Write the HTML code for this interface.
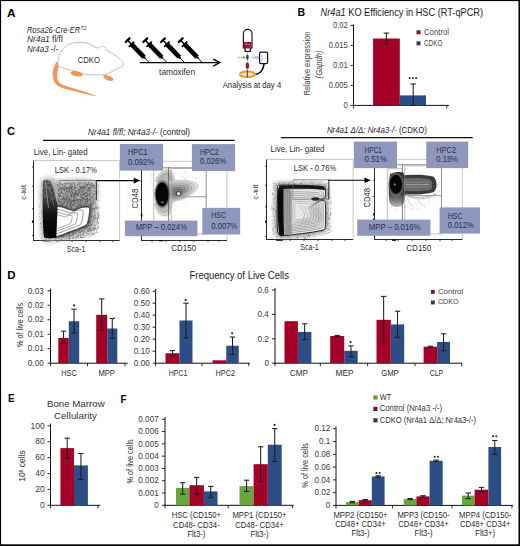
<!DOCTYPE html>
<html><head><meta charset="utf-8"><title>Figure</title><style>html,body{margin:0;padding:0;background:#fff;width:520px;height:546px;overflow:hidden;}svg{display:block;font-family:"Liberation Sans",sans-serif;}</style></head><body>
<svg width="520" height="546" viewBox="0 0 520 546" font-family="Liberation Sans, sans-serif"><defs><filter id="bl1" x="-20%" y="-20%" width="140%" height="140%"><feGaussianBlur stdDeviation="1.0"/></filter><filter id="bl2" x="-20%" y="-20%" width="140%" height="140%"><feGaussianBlur stdDeviation="2.0"/></filter><radialGradient id="gblob" cx="50%" cy="50%" r="50%"><stop offset="0" stop-color="#000"/><stop offset="0.55" stop-color="#111"/><stop offset="0.8" stop-color="#444"/><stop offset="1" stop-color="#888" stop-opacity="0.6"/></radialGradient><linearGradient id="gtopl" x1="0" y1="0" x2="0" y2="1"><stop offset="0" stop-color="#6e6e6e"/><stop offset="0.3" stop-color="#555"/><stop offset="0.45" stop-color="#2a2a2a"/><stop offset="0.6" stop-color="#111"/><stop offset="1" stop-color="#000"/></linearGradient><linearGradient id="gleftR" x1="0" y1="0" x2="1" y2="0"><stop offset="0" stop-color="#000"/><stop offset="0.55" stop-color="#111"/><stop offset="1" stop-color="#666" stop-opacity="0.3"/></linearGradient><linearGradient id="globe" x1="0" y1="0" x2="0" y2="1"><stop offset="0" stop-color="#222"/><stop offset="0.55" stop-color="#333"/><stop offset="0.8" stop-color="#777"/><stop offset="1" stop-color="#bbb"/></linearGradient></defs><rect x="0" y="0" width="520" height="546" fill="#fff"/>
<text x="6.90" y="16.60" font-size="10.2" font-weight="bold" textLength="8.60" lengthAdjust="spacingAndGlyphs">A</text>
<text x="26.90" y="33.10" font-size="8.4" fill="#2b2b2b" font-style="italic" textLength="53.40" lengthAdjust="spacingAndGlyphs">Rosa26-Cre-ER</text>
<text x="80.60" y="30.00" font-size="5.6" fill="#2b2b2b" font-style="italic" textLength="6.00" lengthAdjust="spacingAndGlyphs">T2</text>
<text x="26.90" y="42.30" font-size="8.4" fill="#2b2b2b" textLength="35.90" lengthAdjust="spacingAndGlyphs"><tspan font-style="italic">Nr4a1</tspan> fl/fl</text>
<text x="26.90" y="51.50" font-size="8.4" fill="#2b2b2b" textLength="31.60" lengthAdjust="spacingAndGlyphs"><tspan font-style="italic">Nr4a3</tspan> -/-</text>
<path d="M56.36,61.68 C55.86,62.90 53.96,66.45 53.36,68.96 C52.77,71.47 52.46,74.27 52.81,76.73 C53.17,79.20 53.98,81.93 55.49,83.75 C57.00,85.58 59.20,86.54 61.89,87.67 C64.58,88.80 68.17,89.63 71.64,90.55 C75.11,91.46 78.79,92.23 82.73,93.16 C86.68,94.09 93.21,95.64 95.30,96.14  L95.50,95.46 C93.46,94.76 87.12,92.47 83.27,91.24 C79.41,90.00 75.72,89.10 72.36,88.05 C69.00,87.00 65.42,86.03 63.11,84.93 C60.80,83.83 59.50,82.89 58.51,81.45 C57.52,80.00 57.30,78.17 57.19,76.27 C57.08,74.37 57.29,72.20 57.84,70.04 C58.38,67.88 60.01,64.44 60.44,63.32  Z" fill="#f0955a"/>
<path d="M57.90,64.90 C57.75,63.47 58.02,60.18 58.50,58.00 C58.98,55.82 59.65,53.72 60.80,51.80 C61.95,49.88 63.62,47.90 65.40,46.50 C67.18,45.10 68.93,44.10 71.50,43.40 C74.07,42.70 77.72,42.17 80.80,42.30 C83.88,42.43 87.43,43.28 90.00,44.20 C92.57,45.12 94.63,47.28 96.20,47.80 C97.77,48.32 98.38,47.53 99.40,47.30 C100.42,47.07 101.32,46.38 102.30,46.40 C103.28,46.42 104.52,46.75 105.30,47.40 C106.08,48.05 105.45,49.05 107.00,50.30 C108.55,51.55 112.18,53.18 114.60,54.90 C117.02,56.62 119.97,59.08 121.50,60.60 C123.03,62.12 123.65,63.03 123.80,64.00 C123.95,64.97 123.42,65.70 122.40,66.40 C121.38,67.10 119.52,67.30 117.70,68.20 C115.88,69.10 113.55,70.80 111.50,71.80 C109.45,72.80 107.95,73.68 105.40,74.20 C102.85,74.72 99.53,74.90 96.20,74.90 C92.87,74.90 88.73,74.80 85.40,74.20 C82.07,73.60 79.53,72.20 76.20,71.30 C72.87,70.40 68.20,69.58 65.40,68.80 C62.60,68.02 60.65,67.25 59.40,66.60 C58.15,65.95 58.05,66.33 57.90,64.90 Z" fill="#fff" stroke="#a3a8b4" stroke-width="0.75"/>
<ellipse cx="76.6" cy="73.8" rx="6.3" ry="2.5" fill="#f0955a" transform="rotate(12 76.6 73.8)"/>
<ellipse cx="108.4" cy="78.0" rx="5.4" ry="2.4" fill="#f0955a" transform="rotate(20 108.4 78.0)"/>
<text x="77.70" y="62.60" font-size="8.62" fill="#2a2a2a" textLength="22.30" lengthAdjust="spacingAndGlyphs">CDKO</text>
<line x1="129.47" y1="38.39" x2="125.73" y2="42.01" stroke="#000" stroke-width="2.3" stroke-linecap="round"/>
<line x1="127.60" y1="40.20" x2="131.42" y2="44.16" stroke="#000" stroke-width="1.5"/>
<line x1="133.65" y1="42.14" x2="129.33" y2="46.31" stroke="#000" stroke-width="1.9" stroke-linecap="round"/>
<line x1="131.91" y1="44.66" x2="143.99" y2="57.18" stroke="#000" stroke-width="4.6"/>
<line x1="143.86" y1="57.03" x2="144.90" y2="58.11" stroke="#000" stroke-width="2.4"/>
<line x1="144.83" y1="58.04" x2="148.86" y2="62.21" stroke="#000" stroke-width="1.0"/>
<line x1="147.17" y1="38.39" x2="143.43" y2="42.01" stroke="#000" stroke-width="2.3" stroke-linecap="round"/>
<line x1="145.30" y1="40.20" x2="149.12" y2="44.16" stroke="#000" stroke-width="1.5"/>
<line x1="151.35" y1="42.14" x2="147.03" y2="46.31" stroke="#000" stroke-width="1.9" stroke-linecap="round"/>
<line x1="149.61" y1="44.66" x2="161.69" y2="57.18" stroke="#000" stroke-width="4.6"/>
<line x1="161.56" y1="57.03" x2="162.60" y2="58.11" stroke="#000" stroke-width="2.4"/>
<line x1="162.53" y1="58.04" x2="166.56" y2="62.21" stroke="#000" stroke-width="1.0"/>
<line x1="164.87" y1="38.39" x2="161.13" y2="42.01" stroke="#000" stroke-width="2.3" stroke-linecap="round"/>
<line x1="163.00" y1="40.20" x2="166.82" y2="44.16" stroke="#000" stroke-width="1.5"/>
<line x1="169.05" y1="42.14" x2="164.73" y2="46.31" stroke="#000" stroke-width="1.9" stroke-linecap="round"/>
<line x1="167.31" y1="44.66" x2="179.39" y2="57.18" stroke="#000" stroke-width="4.6"/>
<line x1="179.26" y1="57.03" x2="180.30" y2="58.11" stroke="#000" stroke-width="2.4"/>
<line x1="180.23" y1="58.04" x2="184.26" y2="62.21" stroke="#000" stroke-width="1.0"/>
<line x1="182.57" y1="38.39" x2="178.83" y2="42.01" stroke="#000" stroke-width="2.3" stroke-linecap="round"/>
<line x1="180.70" y1="40.20" x2="184.52" y2="44.16" stroke="#000" stroke-width="1.5"/>
<line x1="186.75" y1="42.14" x2="182.43" y2="46.31" stroke="#000" stroke-width="1.9" stroke-linecap="round"/>
<line x1="185.01" y1="44.66" x2="197.09" y2="57.18" stroke="#000" stroke-width="4.6"/>
<line x1="196.96" y1="57.03" x2="198.00" y2="58.11" stroke="#000" stroke-width="2.4"/>
<line x1="197.93" y1="58.04" x2="201.96" y2="62.21" stroke="#000" stroke-width="1.0"/>
<line x1="139.80" y1="62.60" x2="218.00" y2="62.60" stroke="#000" stroke-width="1.4"/>
<path d="M213.3,59.1 L219.8,62.6 L213.3,66.1" fill="none" stroke="#000" stroke-width="1.4" stroke-linejoin="miter"/>
<text x="159.10" y="74.70" font-size="8.74" fill="#2b2b2b" textLength="36.00" lengthAdjust="spacingAndGlyphs">tamoxifen</text>
<path d="M243.4,47.6 L243.4,33.6 A4.3,4.3 0 0 1 252.0,33.6 L252.0,47.6 L250.2,48.9 L250.2,51.3 L245.2,51.3 L245.2,48.9 Z" fill="#fff" stroke="#1a1a1a" stroke-width="1.2"/>
<path d="M243.9,41.4 C245.5,42.6 246.5,41.0 247.7,42.4 C248.7,41.0 249.8,42.6 251.5,41.4 L251.5,47.4 L249.8,48.6 L245.6,48.6 L243.9,47.4 Z" fill="#9b1a3c" stroke="none" stroke-width="1"/>
<ellipse cx="246.2" cy="44.2" rx="0.9" ry="0.7" fill="#d98aa0"/>
<ellipse cx="249.3" cy="44.6" rx="0.9" ry="0.7" fill="#d98aa0"/>
<line x1="247.40" y1="51.50" x2="247.40" y2="76.00" stroke="#7a8aa8" stroke-width="0.6"/>
<ellipse cx="247.4" cy="57.3" rx="1.3" ry="2.7" fill="#2f4a4a"/>
<ellipse cx="247.4" cy="65.8" rx="1.7" ry="3.3" fill="#9b1a3c"/>
<ellipse cx="247.4" cy="72.0" rx="1.1" ry="2.6" fill="#4a6a9a"/>
<line x1="237.60" y1="57.50" x2="244.40" y2="57.50" stroke="#9fc49a" stroke-width="1.3"/>
<path d="M243.2,55.8 L245.6,57.5 L243.2,59.2 Z" fill="#7aa870" stroke="none" stroke-width="1"/>
<path d="M249.8,57.5 L259.5,55.2 L259.5,60.0 Z" fill="#b4cbed" stroke="none" stroke-width="1"/>
<rect x="259.6" y="52.2" width="8.0" height="11.4" rx="1.4" fill="#fff" stroke="#111" stroke-width="1.2"/>
<rect x="260.60" y="54.00" width="2.20" height="8.20" fill="#d4e3f5"/>
<path d="M264.0,63.8 C263.8,67.5 262.5,70 260.5,72 C259,73.5 257.2,74.3 255.0,74.6" fill="none" stroke="#111" stroke-width="1.5"/>
<ellipse cx="247.4" cy="74.2" rx="7.4" ry="2.8" fill="#fbeccc" stroke="#e6a021" stroke-width="2.0"/>
<line x1="247.40" y1="70.50" x2="247.40" y2="77.20" stroke="#3a4a6a" stroke-width="1.1"/>
<text x="222.70" y="88.10" font-size="8.62" fill="#2a2a2a" textLength="58.50" lengthAdjust="spacingAndGlyphs">Analysis at day 4</text>
<text x="297.50" y="15.90" font-size="10.2" font-weight="bold" textLength="7.60" lengthAdjust="spacingAndGlyphs">B</text>
<text x="320.60" y="16.20" font-size="10.3" fill="#222" textLength="162.50" lengthAdjust="spacingAndGlyphs"><tspan font-style="italic">Nr4a1</tspan> KO Efficiency in HSC (RT-qPCR)</text>
<line x1="353.50" y1="24.50" x2="353.50" y2="105.90" stroke="#111111" stroke-width="1.0"/>
<line x1="353.00" y1="105.40" x2="449.00" y2="105.40" stroke="#111111" stroke-width="1.0"/>
<line x1="350.50" y1="105.40" x2="353.50" y2="105.40" stroke="#111111" stroke-width="0.9"/>
<text x="347.80" y="108.00" font-size="9.12" text-anchor="end" fill="#444" textLength="4.23" lengthAdjust="spacingAndGlyphs">0</text>
<line x1="350.50" y1="85.40" x2="353.50" y2="85.40" stroke="#111111" stroke-width="0.9"/>
<text x="347.80" y="88.00" font-size="9.12" text-anchor="end" fill="#444" textLength="19.02" lengthAdjust="spacingAndGlyphs">0.005</text>
<line x1="350.50" y1="65.40" x2="353.50" y2="65.40" stroke="#111111" stroke-width="0.9"/>
<text x="347.80" y="68.00" font-size="9.12" text-anchor="end" fill="#444" textLength="14.79" lengthAdjust="spacingAndGlyphs">0.01</text>
<line x1="350.50" y1="45.40" x2="353.50" y2="45.40" stroke="#111111" stroke-width="0.9"/>
<text x="347.80" y="48.00" font-size="9.12" text-anchor="end" fill="#444" textLength="19.02" lengthAdjust="spacingAndGlyphs">0.015</text>
<line x1="350.50" y1="25.40" x2="353.50" y2="25.40" stroke="#111111" stroke-width="0.9"/>
<text x="347.80" y="28.00" font-size="9.12" text-anchor="end" fill="#444" textLength="14.79" lengthAdjust="spacingAndGlyphs">0.02</text>
<line x1="446.80" y1="105.40" x2="446.80" y2="108.40" stroke="#111111" stroke-width="0.9"/>
<line x1="353.50" y1="105.40" x2="353.50" y2="108.40" stroke="#111111" stroke-width="0.9"/>
<rect x="373.10" y="38.50" width="26.70" height="66.90" fill="#a50028"/>
<rect x="399.80" y="95.40" width="26.20" height="10.00" fill="#2c4e85"/>
<line x1="386.40" y1="33.10" x2="386.40" y2="44.20" stroke="#1e1e1e" stroke-width="1.05"/>
<line x1="383.70" y1="33.10" x2="389.10" y2="33.10" stroke="#1e1e1e" stroke-width="1.05"/>
<line x1="383.70" y1="44.20" x2="389.10" y2="44.20" stroke="#1e1e1e" stroke-width="1.05"/>
<line x1="413.20" y1="84.00" x2="413.20" y2="105.40" stroke="#1e1e1e" stroke-width="1.05"/>
<line x1="410.60" y1="84.00" x2="415.80" y2="84.00" stroke="#1e1e1e" stroke-width="1.05"/>
<line x1="410.60" y1="105.40" x2="415.80" y2="105.40" stroke="#1e1e1e" stroke-width="1.05"/>
<circle cx="409.65" cy="78.00" r="1.05" fill="#222"/>
<circle cx="412.90" cy="78.00" r="1.05" fill="#222"/>
<circle cx="416.15" cy="78.00" r="1.05" fill="#222"/>
<g transform="translate(310.0,63.5) rotate(-90)">
<text x="0.00" y="0.00" font-size="8.6" text-anchor="middle" fill="#444" textLength="63.70" lengthAdjust="spacingAndGlyphs">Relative expression</text>
</g>
<g transform="translate(321.9,64.5) rotate(-90)">
<text x="0.00" y="0.00" font-size="8.6" text-anchor="middle" fill="#444" font-style="italic" textLength="27.80" lengthAdjust="spacingAndGlyphs">(Gapdh)</text>
</g>
<rect x="416.50" y="30.30" width="4.00" height="4.00" fill="#88132f"/>
<text x="424.00" y="34.60" font-size="8.51" fill="#444" textLength="25.00" lengthAdjust="spacingAndGlyphs">Control</text>
<rect x="416.50" y="41.30" width="4.00" height="4.00" fill="#2b3c5e"/>
<text x="424.00" y="45.60" font-size="8.51" fill="#444" textLength="18.50" lengthAdjust="spacingAndGlyphs">CDKO</text>
<text x="7.00" y="134.50" font-size="10.2" font-weight="bold" textLength="8.00" lengthAdjust="spacingAndGlyphs">C</text>
<text x="88.10" y="135.00" font-size="8.4" fill="#222" textLength="102.00" lengthAdjust="spacingAndGlyphs"><tspan font-style="italic">Nr4a1 fl/fl; Nr4a3-/-</tspan> (control)</text>
<line x1="43.00" y1="140.40" x2="234.60" y2="140.40" stroke="#111" stroke-width="1.1"/>
<text x="33.70" y="155.10" font-size="8.62" fill="#2b2b2b" textLength="53.90" lengthAdjust="spacingAndGlyphs">Live, Lin- gated</text>
<text x="326.90" y="133.00" font-size="8.4" fill="#222" textLength="100.10" lengthAdjust="spacingAndGlyphs"><tspan font-style="italic">Nr4a1 Δ/Δ; Nr4a3-/-</tspan> (CDKO)</text>
<line x1="280.80" y1="137.60" x2="472.70" y2="137.60" stroke="#111" stroke-width="1.1"/>
<text x="270.60" y="151.60" font-size="8.62" fill="#2b2b2b" textLength="53.90" lengthAdjust="spacingAndGlyphs">Live, Lin- gated</text>
<line x1="33.50" y1="160.50" x2="119.60" y2="160.50" stroke="#b0b0b0" stroke-width="0.7"/>
<line x1="119.60" y1="160.50" x2="119.60" y2="240.50" stroke="#b0b0b0" stroke-width="0.7"/>
<line x1="33.50" y1="160.50" x2="33.50" y2="241.00" stroke="#2a2a2a" stroke-width="1.0"/>
<line x1="33.00" y1="240.50" x2="119.60" y2="240.50" stroke="#2a2a2a" stroke-width="1.0"/>
<line x1="31.90" y1="167.00" x2="33.50" y2="167.00" stroke="#222" stroke-width="0.8"/>
<line x1="31.90" y1="186.10" x2="33.50" y2="186.10" stroke="#222" stroke-width="0.8"/>
<line x1="31.90" y1="208.70" x2="33.50" y2="208.70" stroke="#222" stroke-width="0.8"/>
<line x1="31.90" y1="235.60" x2="33.50" y2="235.60" stroke="#222" stroke-width="0.8"/>
<line x1="57.00" y1="240.50" x2="57.00" y2="242.10" stroke="#222" stroke-width="0.8"/>
<line x1="72.00" y1="240.50" x2="72.00" y2="242.10" stroke="#222" stroke-width="0.8"/>
<line x1="86.00" y1="240.50" x2="86.00" y2="242.10" stroke="#222" stroke-width="0.8"/>
<line x1="100.00" y1="240.50" x2="100.00" y2="242.10" stroke="#222" stroke-width="0.8"/>
<line x1="113.00" y1="240.50" x2="113.00" y2="242.10" stroke="#222" stroke-width="0.8"/>
<line x1="266.50" y1="159.50" x2="353.10" y2="159.50" stroke="#b0b0b0" stroke-width="0.7"/>
<line x1="353.10" y1="159.50" x2="353.10" y2="239.50" stroke="#b0b0b0" stroke-width="0.7"/>
<line x1="266.50" y1="159.50" x2="266.50" y2="240.00" stroke="#2a2a2a" stroke-width="1.0"/>
<line x1="266.00" y1="239.50" x2="353.10" y2="239.50" stroke="#2a2a2a" stroke-width="1.0"/>
<line x1="264.90" y1="166.10" x2="266.50" y2="166.10" stroke="#222" stroke-width="0.8"/>
<line x1="264.90" y1="185.20" x2="266.50" y2="185.20" stroke="#222" stroke-width="0.8"/>
<line x1="264.90" y1="206.90" x2="266.50" y2="206.90" stroke="#222" stroke-width="0.8"/>
<line x1="264.90" y1="236.50" x2="266.50" y2="236.50" stroke="#222" stroke-width="0.8"/>
<line x1="290.00" y1="239.50" x2="290.00" y2="241.10" stroke="#222" stroke-width="0.8"/>
<line x1="304.00" y1="239.50" x2="304.00" y2="241.10" stroke="#222" stroke-width="0.8"/>
<line x1="318.00" y1="239.50" x2="318.00" y2="241.10" stroke="#222" stroke-width="0.8"/>
<line x1="332.00" y1="239.50" x2="332.00" y2="241.10" stroke="#222" stroke-width="0.8"/>
<line x1="345.00" y1="239.50" x2="345.00" y2="241.10" stroke="#222" stroke-width="0.8"/>
<rect x="31.90" y="220.60" width="1.60" height="2.20" fill="#000"/>
<rect x="265.10" y="220.60" width="1.60" height="2.20" fill="#000"/>
<rect x="42.80" y="240.00" width="7.00" height="1.40" fill="#000"/>
<rect x="276.00" y="239.40" width="7.00" height="1.40" fill="#000"/>
<line x1="141.50" y1="161.30" x2="226.90" y2="161.30" stroke="#b0b0b0" stroke-width="0.7"/>
<line x1="226.90" y1="161.30" x2="226.90" y2="240.50" stroke="#b0b0b0" stroke-width="0.7"/>
<line x1="141.50" y1="161.30" x2="141.50" y2="241.00" stroke="#2a2a2a" stroke-width="1.0"/>
<line x1="141.00" y1="240.50" x2="226.90" y2="240.50" stroke="#2a2a2a" stroke-width="1.0"/>
<line x1="139.90" y1="181.20" x2="141.50" y2="181.20" stroke="#222" stroke-width="0.8"/>
<line x1="139.90" y1="199.70" x2="141.50" y2="199.70" stroke="#222" stroke-width="0.8"/>
<line x1="139.90" y1="226.00" x2="141.50" y2="226.00" stroke="#222" stroke-width="0.8"/>
<line x1="152.00" y1="240.50" x2="152.00" y2="242.10" stroke="#222" stroke-width="0.8"/>
<line x1="166.00" y1="240.50" x2="166.00" y2="242.10" stroke="#222" stroke-width="0.8"/>
<line x1="180.00" y1="240.50" x2="180.00" y2="242.10" stroke="#222" stroke-width="0.8"/>
<line x1="194.00" y1="240.50" x2="194.00" y2="242.10" stroke="#222" stroke-width="0.8"/>
<line x1="208.00" y1="240.50" x2="208.00" y2="242.10" stroke="#222" stroke-width="0.8"/>
<line x1="219.00" y1="240.50" x2="219.00" y2="242.10" stroke="#222" stroke-width="0.8"/>
<line x1="374.50" y1="159.60" x2="462.30" y2="159.60" stroke="#b0b0b0" stroke-width="0.7"/>
<line x1="462.30" y1="159.60" x2="462.30" y2="239.50" stroke="#b0b0b0" stroke-width="0.7"/>
<line x1="374.50" y1="159.60" x2="374.50" y2="240.00" stroke="#2a2a2a" stroke-width="1.0"/>
<line x1="374.00" y1="239.50" x2="462.30" y2="239.50" stroke="#2a2a2a" stroke-width="1.0"/>
<line x1="372.90" y1="180.40" x2="374.50" y2="180.40" stroke="#222" stroke-width="0.8"/>
<line x1="372.90" y1="196.50" x2="374.50" y2="196.50" stroke="#222" stroke-width="0.8"/>
<line x1="372.90" y1="226.00" x2="374.50" y2="226.00" stroke="#222" stroke-width="0.8"/>
<line x1="386.00" y1="239.50" x2="386.00" y2="241.10" stroke="#222" stroke-width="0.8"/>
<line x1="398.00" y1="239.50" x2="398.00" y2="241.10" stroke="#222" stroke-width="0.8"/>
<line x1="412.00" y1="239.50" x2="412.00" y2="241.10" stroke="#222" stroke-width="0.8"/>
<line x1="426.00" y1="239.50" x2="426.00" y2="241.10" stroke="#222" stroke-width="0.8"/>
<line x1="440.00" y1="239.50" x2="440.00" y2="241.10" stroke="#222" stroke-width="0.8"/>
<line x1="452.00" y1="239.50" x2="452.00" y2="241.10" stroke="#222" stroke-width="0.8"/>
<rect x="140.80" y="213.80" width="1.60" height="2.60" fill="#000"/>
<rect x="373.20" y="213.00" width="1.60" height="2.60" fill="#000"/>
<rect x="159.00" y="240.00" width="4.00" height="1.30" fill="#000"/>
<rect x="392.00" y="239.50" width="4.00" height="1.30" fill="#000"/>
<path d="M44.00,181.00 C46.92,176.42 51.83,182.17 60.00,182.50 C68.17,182.83 87.25,179.08 93.00,183.00 C98.75,186.92 94.50,199.17 94.50,206.00 C94.50,212.83 93.92,219.67 93.00,224.00 C92.08,228.33 92.00,230.00 89.00,232.00 C86.00,234.00 80.17,234.92 75.00,236.00 C69.83,237.08 63.17,238.17 58.00,238.50 C52.83,238.83 46.58,242.75 44.00,238.00 C41.42,233.25 42.50,219.50 42.50,210.00 C42.50,200.50 41.08,185.58 44.00,181.00 Z" fill="#9a9a9a" stroke="#b0b0b0" stroke-width="5" filter="url(#bl2)" opacity="0.75"/>
<g fill="#444" opacity="0.55"><rect x="58.4" y="186.8" width="0.7" height="0.7"/><rect x="42.6" y="211.8" width="0.6" height="0.6"/><rect x="41.7" y="210.0" width="0.4" height="0.4"/><rect x="65.3" y="181.5" width="0.4" height="0.4"/><rect x="64.7" y="230.7" width="0.5" height="0.5"/><rect x="52.1" y="217.8" width="0.8" height="0.8"/><rect x="74.4" y="202.8" width="0.8" height="0.8"/><rect x="40.9" y="232.8" width="0.5" height="0.5"/><rect x="47.1" y="184.7" width="0.5" height="0.5"/><rect x="89.4" y="188.7" width="0.7" height="0.7"/><rect x="78.3" y="201.2" width="0.6" height="0.6"/><rect x="42.0" y="180.9" width="0.5" height="0.5"/><rect x="80.9" y="204.8" width="0.5" height="0.5"/><rect x="74.9" y="206.5" width="0.5" height="0.5"/><rect x="88.0" y="222.4" width="0.5" height="0.5"/><rect x="74.2" y="211.1" width="0.8" height="0.8"/><rect x="84.0" y="195.7" width="0.8" height="0.8"/><rect x="45.4" y="204.2" width="0.7" height="0.7"/><rect x="47.6" y="208.8" width="0.4" height="0.4"/><rect x="80.1" y="226.7" width="0.7" height="0.7"/><rect x="93.2" y="197.4" width="0.7" height="0.7"/><rect x="75.4" y="214.7" width="0.6" height="0.6"/><rect x="67.9" y="220.2" width="0.4" height="0.4"/><rect x="82.2" y="219.1" width="0.8" height="0.8"/><rect x="89.8" y="195.5" width="0.6" height="0.6"/><rect x="67.1" y="187.9" width="0.5" height="0.5"/><rect x="41.7" y="226.9" width="0.5" height="0.5"/><rect x="53.6" y="202.4" width="0.8" height="0.8"/><rect x="43.1" y="206.2" width="0.6" height="0.6"/><rect x="93.7" y="230.3" width="0.8" height="0.8"/><rect x="55.5" y="204.0" width="0.6" height="0.6"/><rect x="47.5" y="188.5" width="0.5" height="0.5"/><rect x="52.7" y="208.5" width="0.7" height="0.7"/><rect x="64.4" y="201.0" width="0.6" height="0.6"/><rect x="98.0" y="221.9" width="0.6" height="0.6"/><rect x="76.9" y="221.0" width="0.4" height="0.4"/><rect x="94.7" y="227.7" width="0.8" height="0.8"/><rect x="88.3" y="202.5" width="0.6" height="0.6"/><rect x="44.5" y="218.2" width="0.4" height="0.4"/><rect x="42.2" y="190.6" width="0.5" height="0.5"/><rect x="59.4" y="180.4" width="0.4" height="0.4"/><rect x="47.5" y="183.6" width="0.6" height="0.6"/><rect x="76.7" y="186.7" width="0.5" height="0.5"/><rect x="59.9" y="200.7" width="0.5" height="0.5"/><rect x="67.4" y="208.4" width="0.4" height="0.4"/><rect x="44.4" y="199.3" width="0.5" height="0.5"/><rect x="90.2" y="187.5" width="0.4" height="0.4"/><rect x="97.9" y="211.3" width="0.5" height="0.5"/><rect x="92.4" y="222.3" width="0.5" height="0.5"/><rect x="61.1" y="187.9" width="0.7" height="0.7"/><rect x="71.6" y="227.6" width="0.5" height="0.5"/><rect x="52.1" y="229.7" width="0.8" height="0.8"/><rect x="91.7" y="229.4" width="0.8" height="0.8"/><rect x="84.6" y="191.7" width="0.6" height="0.6"/><rect x="39.8" y="195.2" width="0.5" height="0.5"/><rect x="66.2" y="237.9" width="0.8" height="0.8"/><rect x="98.2" y="200.7" width="0.5" height="0.5"/><rect x="52.3" y="189.8" width="0.5" height="0.5"/><rect x="77.3" y="235.5" width="0.8" height="0.8"/><rect x="68.2" y="219.4" width="0.8" height="0.8"/><rect x="43.3" y="219.9" width="0.8" height="0.8"/><rect x="87.3" y="225.8" width="0.6" height="0.6"/><rect x="49.2" y="228.3" width="0.5" height="0.5"/><rect x="62.9" y="203.1" width="0.8" height="0.8"/><rect x="83.7" y="188.1" width="0.5" height="0.5"/><rect x="47.5" y="235.8" width="0.8" height="0.8"/><rect x="47.2" y="230.7" width="0.8" height="0.8"/><rect x="79.4" y="199.8" width="0.6" height="0.6"/><rect x="99.2" y="219.2" width="0.6" height="0.6"/><rect x="96.8" y="205.2" width="0.8" height="0.8"/><rect x="90.0" y="190.7" width="0.5" height="0.5"/><rect x="56.5" y="192.6" width="0.7" height="0.7"/><rect x="54.3" y="204.2" width="0.5" height="0.5"/><rect x="95.3" y="200.0" width="0.6" height="0.6"/><rect x="74.8" y="235.8" width="0.6" height="0.6"/><rect x="95.8" y="209.6" width="0.6" height="0.6"/><rect x="65.7" y="188.9" width="0.4" height="0.4"/><rect x="88.3" y="188.2" width="0.6" height="0.6"/><rect x="83.7" y="213.2" width="0.5" height="0.5"/><rect x="70.7" y="213.1" width="0.7" height="0.7"/><rect x="44.7" y="213.4" width="0.5" height="0.5"/><rect x="55.4" y="227.2" width="0.6" height="0.6"/><rect x="73.4" y="226.4" width="0.8" height="0.8"/><rect x="65.9" y="216.8" width="0.6" height="0.6"/><rect x="70.3" y="222.0" width="0.6" height="0.6"/><rect x="71.6" y="208.1" width="0.8" height="0.8"/><rect x="82.1" y="234.0" width="0.8" height="0.8"/><rect x="54.4" y="213.4" width="0.8" height="0.8"/><rect x="90.9" y="185.9" width="0.5" height="0.5"/><rect x="65.9" y="181.7" width="0.5" height="0.5"/><rect x="42.6" y="220.5" width="0.7" height="0.7"/><rect x="94.5" y="187.0" width="0.7" height="0.7"/><rect x="79.6" y="186.3" width="0.8" height="0.8"/><rect x="98.0" y="202.9" width="0.6" height="0.6"/><rect x="48.2" y="205.0" width="0.6" height="0.6"/><rect x="59.4" y="189.7" width="0.5" height="0.5"/><rect x="72.9" y="205.6" width="0.4" height="0.4"/><rect x="58.9" y="217.6" width="0.6" height="0.6"/><rect x="44.6" y="194.3" width="0.4" height="0.4"/><rect x="87.1" y="194.6" width="0.5" height="0.5"/><rect x="64.6" y="236.2" width="0.8" height="0.8"/><rect x="54.3" y="186.7" width="0.8" height="0.8"/><rect x="73.9" y="222.5" width="0.4" height="0.4"/><rect x="41.6" y="221.7" width="0.6" height="0.6"/><rect x="42.6" y="238.0" width="0.7" height="0.7"/><rect x="88.5" y="182.4" width="0.8" height="0.8"/><rect x="42.2" y="233.1" width="0.6" height="0.6"/><rect x="59.4" y="212.9" width="0.8" height="0.8"/><rect x="54.9" y="185.4" width="0.6" height="0.6"/><rect x="53.0" y="184.1" width="0.5" height="0.5"/><rect x="41.2" y="190.1" width="0.5" height="0.5"/><rect x="57.2" y="226.4" width="0.5" height="0.5"/><rect x="69.5" y="188.6" width="0.6" height="0.6"/><rect x="72.7" y="189.3" width="0.6" height="0.6"/><rect x="96.9" y="183.9" width="0.8" height="0.8"/><rect x="65.2" y="209.2" width="0.8" height="0.8"/><rect x="62.8" y="209.9" width="0.7" height="0.7"/><rect x="90.4" y="222.9" width="0.7" height="0.7"/><rect x="63.5" y="199.6" width="0.4" height="0.4"/><rect x="46.2" y="181.6" width="0.7" height="0.7"/><rect x="54.1" y="187.6" width="0.4" height="0.4"/><rect x="91.0" y="233.6" width="0.7" height="0.7"/><rect x="55.8" y="192.7" width="0.5" height="0.5"/><rect x="66.9" y="187.2" width="0.6" height="0.6"/><rect x="54.6" y="239.5" width="0.8" height="0.8"/><rect x="72.5" y="192.9" width="0.8" height="0.8"/><rect x="57.5" y="200.2" width="0.4" height="0.4"/><rect x="62.0" y="207.9" width="0.6" height="0.6"/><rect x="50.7" y="209.8" width="0.4" height="0.4"/><rect x="54.6" y="182.8" width="0.6" height="0.6"/><rect x="40.6" y="178.5" width="0.5" height="0.5"/><rect x="52.7" y="215.1" width="0.6" height="0.6"/><rect x="85.3" y="219.7" width="0.7" height="0.7"/><rect x="93.4" y="202.3" width="0.5" height="0.5"/><rect x="83.6" y="218.8" width="0.4" height="0.4"/><rect x="90.6" y="235.0" width="0.7" height="0.7"/><rect x="84.2" y="229.8" width="0.5" height="0.5"/><rect x="71.0" y="209.8" width="0.8" height="0.8"/><rect x="88.7" y="230.7" width="0.7" height="0.7"/><rect x="94.2" y="221.4" width="0.7" height="0.7"/><rect x="52.5" y="179.0" width="0.5" height="0.5"/><rect x="60.7" y="183.8" width="0.8" height="0.8"/><rect x="73.2" y="217.8" width="0.7" height="0.7"/><rect x="80.9" y="208.8" width="0.4" height="0.4"/><rect x="88.3" y="225.6" width="0.6" height="0.6"/><rect x="71.7" y="219.9" width="0.4" height="0.4"/><rect x="84.4" y="193.4" width="0.4" height="0.4"/><rect x="54.7" y="224.4" width="0.5" height="0.5"/><rect x="69.1" y="201.9" width="0.6" height="0.6"/><rect x="81.1" y="226.9" width="0.7" height="0.7"/><rect x="78.5" y="182.0" width="0.5" height="0.5"/><rect x="54.0" y="225.3" width="0.5" height="0.5"/><rect x="41.8" y="194.5" width="0.7" height="0.7"/><rect x="81.6" y="220.9" width="0.5" height="0.5"/><rect x="70.5" y="207.2" width="0.6" height="0.6"/><rect x="45.5" y="235.1" width="0.5" height="0.5"/><rect x="39.1" y="206.8" width="0.8" height="0.8"/><rect x="99.0" y="206.2" width="0.5" height="0.5"/><rect x="51.2" y="238.5" width="0.5" height="0.5"/><rect x="74.6" y="186.2" width="0.6" height="0.6"/><rect x="98.0" y="185.6" width="0.8" height="0.8"/><rect x="70.1" y="234.6" width="0.7" height="0.7"/><rect x="52.6" y="235.4" width="0.6" height="0.6"/><rect x="69.0" y="206.3" width="0.5" height="0.5"/><rect x="46.9" y="199.4" width="0.5" height="0.5"/><rect x="85.3" y="231.5" width="0.5" height="0.5"/><rect x="96.4" y="223.3" width="0.8" height="0.8"/><rect x="56.3" y="201.2" width="0.6" height="0.6"/><rect x="60.7" y="204.8" width="0.5" height="0.5"/><rect x="41.0" y="183.6" width="0.8" height="0.8"/><rect x="56.0" y="237.8" width="0.5" height="0.5"/><rect x="54.7" y="210.2" width="0.5" height="0.5"/><rect x="61.5" y="239.2" width="0.8" height="0.8"/><rect x="89.2" y="218.0" width="0.8" height="0.8"/><rect x="97.3" y="212.7" width="0.7" height="0.7"/><rect x="41.1" y="224.6" width="0.6" height="0.6"/><rect x="85.4" y="218.9" width="0.5" height="0.5"/><rect x="41.1" y="237.2" width="0.5" height="0.5"/><rect x="67.7" y="199.3" width="0.5" height="0.5"/><rect x="54.4" y="219.6" width="0.5" height="0.5"/><rect x="73.1" y="202.6" width="0.5" height="0.5"/><rect x="48.2" y="190.5" width="0.8" height="0.8"/><rect x="69.3" y="191.3" width="0.8" height="0.8"/><rect x="46.8" y="189.5" width="0.4" height="0.4"/><rect x="59.5" y="182.9" width="0.5" height="0.5"/><rect x="54.3" y="214.0" width="0.8" height="0.8"/><rect x="85.2" y="203.8" width="0.6" height="0.6"/><rect x="71.0" y="201.5" width="0.5" height="0.5"/><rect x="41.9" y="195.0" width="0.8" height="0.8"/><rect x="45.9" y="209.7" width="0.7" height="0.7"/><rect x="92.4" y="191.0" width="0.5" height="0.5"/><rect x="53.7" y="203.0" width="0.6" height="0.6"/><rect x="40.0" y="223.1" width="0.8" height="0.8"/><rect x="67.8" y="215.2" width="0.4" height="0.4"/><rect x="62.7" y="237.2" width="0.8" height="0.8"/><rect x="53.7" y="184.1" width="0.5" height="0.5"/><rect x="70.9" y="221.3" width="0.8" height="0.8"/><rect x="83.5" y="219.1" width="0.7" height="0.7"/><rect x="66.8" y="212.8" width="0.4" height="0.4"/><rect x="87.3" y="192.1" width="0.8" height="0.8"/><rect x="78.7" y="196.7" width="0.5" height="0.5"/><rect x="53.9" y="218.4" width="0.7" height="0.7"/><rect x="45.1" y="181.6" width="0.6" height="0.6"/><rect x="74.7" y="202.2" width="0.5" height="0.5"/><rect x="57.0" y="206.9" width="0.8" height="0.8"/><rect x="78.6" y="234.4" width="0.6" height="0.6"/><rect x="52.8" y="193.1" width="0.8" height="0.8"/><rect x="82.4" y="197.0" width="0.4" height="0.4"/><rect x="69.4" y="220.8" width="0.6" height="0.6"/><rect x="54.2" y="220.4" width="0.8" height="0.8"/><rect x="52.3" y="179.2" width="0.5" height="0.5"/><rect x="64.5" y="221.4" width="0.5" height="0.5"/><rect x="88.2" y="225.0" width="0.6" height="0.6"/><rect x="50.9" y="240.0" width="0.5" height="0.5"/><rect x="89.7" y="192.0" width="0.5" height="0.5"/><rect x="85.9" y="196.2" width="0.8" height="0.8"/><rect x="69.2" y="189.2" width="0.5" height="0.5"/><rect x="64.3" y="220.2" width="0.8" height="0.8"/><rect x="47.2" y="202.6" width="0.5" height="0.5"/><rect x="41.3" y="180.9" width="0.6" height="0.6"/><rect x="94.6" y="234.4" width="0.7" height="0.7"/><rect x="58.7" y="189.1" width="0.8" height="0.8"/><rect x="79.9" y="201.6" width="0.6" height="0.6"/><rect x="58.9" y="188.0" width="0.4" height="0.4"/><rect x="55.6" y="199.8" width="0.8" height="0.8"/><rect x="45.8" y="239.7" width="0.5" height="0.5"/><rect x="60.5" y="230.4" width="0.8" height="0.8"/><rect x="65.2" y="180.2" width="0.6" height="0.6"/><rect x="61.5" y="236.8" width="0.5" height="0.5"/><rect x="60.9" y="235.3" width="0.4" height="0.4"/><rect x="63.9" y="229.8" width="0.7" height="0.7"/><rect x="40.6" y="179.3" width="0.4" height="0.4"/><rect x="96.0" y="193.7" width="0.7" height="0.7"/><rect x="94.6" y="199.0" width="0.5" height="0.5"/><rect x="98.3" y="217.1" width="0.5" height="0.5"/><rect x="83.1" y="197.6" width="0.5" height="0.5"/><rect x="95.7" y="218.2" width="0.8" height="0.8"/><rect x="39.5" y="192.2" width="0.6" height="0.6"/><rect x="62.4" y="193.3" width="0.6" height="0.6"/><rect x="69.1" y="237.3" width="0.5" height="0.5"/><rect x="88.6" y="225.0" width="0.8" height="0.8"/><rect x="86.7" y="216.5" width="0.5" height="0.5"/><rect x="58.1" y="200.5" width="0.7" height="0.7"/><rect x="43.0" y="189.8" width="0.7" height="0.7"/><rect x="53.6" y="181.2" width="0.4" height="0.4"/><rect x="72.8" y="198.2" width="0.8" height="0.8"/><rect x="54.7" y="182.5" width="0.4" height="0.4"/><rect x="69.4" y="223.1" width="0.6" height="0.6"/><rect x="52.8" y="204.1" width="0.7" height="0.7"/><rect x="80.5" y="225.6" width="0.8" height="0.8"/><rect x="79.9" y="184.9" width="0.8" height="0.8"/><rect x="56.5" y="213.8" width="0.6" height="0.6"/><rect x="84.5" y="189.9" width="0.5" height="0.5"/><rect x="53.5" y="187.0" width="0.8" height="0.8"/><rect x="74.4" y="198.2" width="0.6" height="0.6"/><rect x="52.6" y="229.5" width="0.7" height="0.7"/><rect x="67.9" y="230.2" width="0.8" height="0.8"/><rect x="56.5" y="184.7" width="0.5" height="0.5"/><rect x="99.3" y="214.9" width="0.8" height="0.8"/><rect x="61.5" y="233.3" width="0.6" height="0.6"/><rect x="54.4" y="227.6" width="0.8" height="0.8"/><rect x="44.7" y="215.7" width="0.7" height="0.7"/><rect x="51.7" y="201.0" width="0.5" height="0.5"/><rect x="50.9" y="193.6" width="0.7" height="0.7"/><rect x="79.1" y="190.2" width="0.4" height="0.4"/><rect x="58.6" y="221.1" width="0.5" height="0.5"/><rect x="57.7" y="190.2" width="0.7" height="0.7"/><rect x="72.5" y="181.1" width="0.4" height="0.4"/><rect x="62.9" y="212.8" width="0.7" height="0.7"/><rect x="43.7" y="187.6" width="0.7" height="0.7"/><rect x="63.8" y="195.4" width="0.5" height="0.5"/><rect x="98.1" y="197.3" width="0.6" height="0.6"/><rect x="60.5" y="204.1" width="0.8" height="0.8"/><rect x="50.4" y="224.3" width="0.5" height="0.5"/><rect x="64.7" y="230.3" width="0.6" height="0.6"/><rect x="93.6" y="207.0" width="0.5" height="0.5"/><rect x="38.9" y="212.9" width="0.7" height="0.7"/><rect x="95.3" y="182.8" width="0.7" height="0.7"/><rect x="61.4" y="209.8" width="0.5" height="0.5"/><rect x="55.8" y="210.9" width="0.8" height="0.8"/><rect x="44.9" y="208.9" width="0.8" height="0.8"/><rect x="46.0" y="238.3" width="0.8" height="0.8"/><rect x="68.4" y="180.5" width="0.8" height="0.8"/><rect x="62.4" y="235.8" width="0.7" height="0.7"/><rect x="89.9" y="187.4" width="0.7" height="0.7"/><rect x="52.0" y="203.3" width="0.8" height="0.8"/><rect x="90.2" y="188.9" width="0.5" height="0.5"/><rect x="63.2" y="210.7" width="0.6" height="0.6"/><rect x="45.8" y="193.1" width="0.7" height="0.7"/><rect x="73.4" y="226.2" width="0.4" height="0.4"/><rect x="90.8" y="184.7" width="0.7" height="0.7"/><rect x="72.7" y="217.8" width="0.5" height="0.5"/><rect x="64.5" y="214.9" width="0.6" height="0.6"/><rect x="79.5" y="206.0" width="0.6" height="0.6"/><rect x="39.5" y="217.2" width="0.6" height="0.6"/><rect x="52.8" y="226.6" width="0.7" height="0.7"/><rect x="66.9" y="188.7" width="0.6" height="0.6"/><rect x="44.7" y="185.3" width="0.6" height="0.6"/><rect x="43.8" y="205.7" width="0.6" height="0.6"/><rect x="40.6" y="218.4" width="0.4" height="0.4"/><rect x="84.2" y="227.5" width="0.6" height="0.6"/><rect x="41.4" y="209.8" width="0.6" height="0.6"/><rect x="97.9" y="185.9" width="0.8" height="0.8"/><rect x="89.3" y="189.6" width="0.8" height="0.8"/><rect x="69.0" y="239.2" width="0.8" height="0.8"/><rect x="48.4" y="228.2" width="0.8" height="0.8"/><rect x="42.1" y="199.8" width="0.7" height="0.7"/><rect x="48.0" y="235.3" width="0.5" height="0.5"/><rect x="89.4" y="186.3" width="0.6" height="0.6"/><rect x="96.0" y="190.5" width="0.5" height="0.5"/><rect x="69.9" y="197.7" width="0.4" height="0.4"/><rect x="49.5" y="187.5" width="0.8" height="0.8"/><rect x="80.8" y="235.2" width="0.5" height="0.5"/><rect x="87.4" y="184.5" width="0.6" height="0.6"/><rect x="78.1" y="200.4" width="0.8" height="0.8"/><rect x="73.0" y="214.7" width="0.8" height="0.8"/><rect x="77.7" y="202.6" width="0.8" height="0.8"/><rect x="74.4" y="200.4" width="0.7" height="0.7"/><rect x="65.9" y="188.5" width="0.7" height="0.7"/><rect x="41.0" y="230.3" width="0.5" height="0.5"/><rect x="74.9" y="220.1" width="0.5" height="0.5"/><rect x="47.4" y="217.0" width="0.6" height="0.6"/><rect x="70.3" y="235.2" width="0.5" height="0.5"/><rect x="52.3" y="219.5" width="0.4" height="0.4"/><rect x="44.7" y="200.2" width="0.5" height="0.5"/><rect x="74.8" y="215.3" width="0.5" height="0.5"/><rect x="77.3" y="207.9" width="0.5" height="0.5"/><rect x="97.0" y="192.8" width="0.5" height="0.5"/><rect x="44.0" y="218.5" width="0.8" height="0.8"/><rect x="87.3" y="203.1" width="0.5" height="0.5"/><rect x="73.4" y="199.8" width="0.7" height="0.7"/><rect x="66.0" y="237.9" width="0.7" height="0.7"/><rect x="53.7" y="235.7" width="0.4" height="0.4"/><rect x="71.5" y="203.4" width="0.5" height="0.5"/><rect x="41.7" y="227.6" width="0.4" height="0.4"/><rect x="72.7" y="238.2" width="0.5" height="0.5"/><rect x="50.6" y="216.5" width="0.6" height="0.6"/><rect x="78.4" y="229.9" width="0.5" height="0.5"/><rect x="57.5" y="196.5" width="0.4" height="0.4"/><rect x="94.0" y="227.9" width="0.7" height="0.7"/><rect x="84.9" y="207.2" width="0.7" height="0.7"/><rect x="66.5" y="191.7" width="0.4" height="0.4"/><rect x="52.6" y="179.5" width="0.5" height="0.5"/><rect x="85.2" y="222.2" width="0.8" height="0.8"/><rect x="82.8" y="194.3" width="0.6" height="0.6"/><rect x="65.5" y="228.2" width="0.6" height="0.6"/><rect x="54.7" y="218.7" width="0.8" height="0.8"/><rect x="51.7" y="234.2" width="0.4" height="0.4"/><rect x="54.4" y="192.3" width="0.7" height="0.7"/><rect x="97.5" y="225.5" width="0.5" height="0.5"/><rect x="93.5" y="198.4" width="0.5" height="0.5"/><rect x="95.2" y="218.0" width="0.7" height="0.7"/><rect x="67.6" y="231.6" width="0.7" height="0.7"/><rect x="92.0" y="205.4" width="0.7" height="0.7"/><rect x="73.9" y="197.0" width="0.5" height="0.5"/><rect x="77.2" y="182.1" width="0.8" height="0.8"/><rect x="47.1" y="178.7" width="0.4" height="0.4"/><rect x="96.5" y="199.4" width="0.5" height="0.5"/><rect x="81.6" y="218.2" width="0.7" height="0.7"/><rect x="84.4" y="181.3" width="0.7" height="0.7"/><rect x="60.9" y="230.1" width="0.8" height="0.8"/><rect x="94.2" y="181.3" width="0.8" height="0.8"/><rect x="44.7" y="190.4" width="0.4" height="0.4"/><rect x="89.2" y="218.2" width="0.8" height="0.8"/><rect x="77.8" y="195.7" width="0.4" height="0.4"/><rect x="44.2" y="226.2" width="0.5" height="0.5"/><rect x="58.1" y="204.5" width="0.4" height="0.4"/><rect x="54.2" y="195.4" width="0.7" height="0.7"/><rect x="61.2" y="197.9" width="0.8" height="0.8"/><rect x="69.7" y="232.3" width="0.7" height="0.7"/><rect x="40.0" y="203.8" width="0.6" height="0.6"/><rect x="86.7" y="199.5" width="0.7" height="0.7"/><rect x="71.9" y="191.1" width="0.8" height="0.8"/><rect x="43.7" y="230.3" width="0.5" height="0.5"/><rect x="69.0" y="228.8" width="0.5" height="0.5"/><rect x="69.2" y="199.6" width="0.8" height="0.8"/><rect x="54.4" y="238.4" width="0.5" height="0.5"/><rect x="51.5" y="222.5" width="0.6" height="0.6"/><rect x="44.9" y="218.4" width="0.4" height="0.4"/><rect x="87.6" y="222.3" width="0.7" height="0.7"/><rect x="77.6" y="200.1" width="0.6" height="0.6"/><rect x="62.9" y="234.9" width="0.4" height="0.4"/><rect x="51.0" y="194.1" width="0.8" height="0.8"/><rect x="69.6" y="201.7" width="0.8" height="0.8"/><rect x="52.7" y="207.0" width="0.6" height="0.6"/><rect x="85.5" y="225.9" width="0.7" height="0.7"/><rect x="60.0" y="198.2" width="0.5" height="0.5"/><rect x="91.1" y="220.0" width="0.7" height="0.7"/><rect x="48.7" y="205.5" width="0.7" height="0.7"/><rect x="74.5" y="185.2" width="0.6" height="0.6"/><rect x="93.8" y="192.5" width="0.5" height="0.5"/><rect x="57.0" y="222.7" width="0.8" height="0.8"/><rect x="47.7" y="187.1" width="0.5" height="0.5"/><rect x="58.6" y="210.9" width="0.5" height="0.5"/><rect x="58.7" y="189.3" width="0.8" height="0.8"/><rect x="83.9" y="183.6" width="0.8" height="0.8"/><rect x="44.4" y="202.0" width="0.8" height="0.8"/><rect x="88.1" y="224.7" width="0.6" height="0.6"/><rect x="50.4" y="218.5" width="0.4" height="0.4"/><rect x="51.0" y="202.2" width="0.4" height="0.4"/><rect x="63.1" y="228.4" width="0.7" height="0.7"/><rect x="69.5" y="218.1" width="0.6" height="0.6"/><rect x="46.9" y="216.2" width="0.6" height="0.6"/><rect x="84.7" y="236.0" width="0.6" height="0.6"/><rect x="74.2" y="225.7" width="0.6" height="0.6"/><rect x="52.4" y="223.9" width="0.8" height="0.8"/><rect x="86.8" y="222.5" width="0.8" height="0.8"/><rect x="80.8" y="218.7" width="0.6" height="0.6"/><rect x="57.7" y="217.8" width="0.4" height="0.4"/><rect x="64.4" y="227.9" width="0.7" height="0.7"/><rect x="77.7" y="193.3" width="0.6" height="0.6"/><rect x="66.7" y="217.4" width="0.6" height="0.6"/><rect x="80.5" y="237.5" width="0.5" height="0.5"/><rect x="79.2" y="227.6" width="0.6" height="0.6"/><rect x="40.4" y="212.3" width="0.5" height="0.5"/><rect x="70.7" y="183.6" width="0.7" height="0.7"/><rect x="72.1" y="223.6" width="0.6" height="0.6"/><rect x="78.3" y="230.9" width="0.6" height="0.6"/><rect x="63.9" y="238.6" width="0.5" height="0.5"/><rect x="81.1" y="202.5" width="0.7" height="0.7"/><rect x="45.7" y="241.0" width="0.6" height="0.6"/><rect x="41.6" y="194.8" width="0.6" height="0.6"/><rect x="38.8" y="204.2" width="0.6" height="0.6"/><rect x="82.0" y="199.9" width="0.5" height="0.5"/><rect x="52.1" y="225.2" width="0.8" height="0.8"/><rect x="71.2" y="191.2" width="0.8" height="0.8"/><rect x="62.7" y="190.8" width="0.5" height="0.5"/><rect x="86.9" y="229.6" width="0.7" height="0.7"/><rect x="67.6" y="213.5" width="0.5" height="0.5"/><rect x="98.7" y="200.0" width="0.7" height="0.7"/><rect x="89.6" y="230.1" width="0.6" height="0.6"/><rect x="56.5" y="212.6" width="0.5" height="0.5"/><rect x="90.5" y="200.1" width="0.8" height="0.8"/><rect x="54.8" y="201.4" width="0.5" height="0.5"/><rect x="64.8" y="189.1" width="0.4" height="0.4"/><rect x="83.5" y="195.3" width="0.5" height="0.5"/><rect x="57.0" y="208.2" width="0.6" height="0.6"/><rect x="78.1" y="219.9" width="0.6" height="0.6"/><rect x="96.5" y="232.5" width="0.4" height="0.4"/><rect x="90.2" y="235.9" width="0.7" height="0.7"/><rect x="46.8" y="231.0" width="0.7" height="0.7"/><rect x="98.0" y="219.6" width="0.5" height="0.5"/><rect x="44.4" y="186.3" width="0.5" height="0.5"/><rect x="86.9" y="199.5" width="0.5" height="0.5"/><rect x="95.0" y="228.5" width="0.5" height="0.5"/><rect x="94.1" y="216.5" width="0.7" height="0.7"/><rect x="80.1" y="235.1" width="0.7" height="0.7"/><rect x="90.8" y="189.8" width="0.7" height="0.7"/><rect x="71.4" y="225.2" width="0.6" height="0.6"/><rect x="93.6" y="213.1" width="0.5" height="0.5"/><rect x="52.8" y="186.1" width="0.6" height="0.6"/><rect x="41.7" y="207.4" width="0.5" height="0.5"/><rect x="69.0" y="209.4" width="0.6" height="0.6"/><rect x="91.0" y="207.4" width="0.6" height="0.6"/><rect x="79.9" y="231.6" width="0.6" height="0.6"/><rect x="64.4" y="239.4" width="0.4" height="0.4"/><rect x="78.1" y="218.3" width="0.4" height="0.4"/><rect x="76.4" y="221.4" width="0.8" height="0.8"/><rect x="58.8" y="240.8" width="0.6" height="0.6"/><rect x="68.5" y="235.3" width="0.4" height="0.4"/><rect x="83.2" y="217.6" width="0.5" height="0.5"/><rect x="92.3" y="200.8" width="0.6" height="0.6"/><rect x="71.1" y="227.1" width="0.5" height="0.5"/><rect x="65.4" y="204.5" width="0.6" height="0.6"/><rect x="90.1" y="196.0" width="0.8" height="0.8"/><rect x="63.4" y="209.7" width="0.5" height="0.5"/><rect x="79.2" y="228.5" width="0.5" height="0.5"/><rect x="58.0" y="196.4" width="0.7" height="0.7"/><rect x="78.0" y="228.0" width="0.4" height="0.4"/><rect x="83.5" y="234.6" width="0.6" height="0.6"/><rect x="41.1" y="196.5" width="0.4" height="0.4"/><rect x="50.0" y="236.9" width="0.7" height="0.7"/><rect x="79.5" y="228.3" width="0.8" height="0.8"/><rect x="76.5" y="217.1" width="0.7" height="0.7"/><rect x="81.9" y="215.8" width="0.7" height="0.7"/><rect x="51.4" y="220.4" width="0.6" height="0.6"/><rect x="86.0" y="183.6" width="0.5" height="0.5"/><rect x="40.3" y="227.3" width="0.8" height="0.8"/><rect x="79.3" y="201.0" width="0.8" height="0.8"/><rect x="87.6" y="213.5" width="0.5" height="0.5"/><rect x="57.0" y="204.4" width="0.5" height="0.5"/><rect x="65.1" y="218.7" width="0.8" height="0.8"/><rect x="41.4" y="213.9" width="0.4" height="0.4"/><rect x="45.5" y="229.7" width="0.7" height="0.7"/><rect x="95.9" y="206.0" width="0.4" height="0.4"/><rect x="62.4" y="215.5" width="0.8" height="0.8"/><rect x="99.8" y="207.9" width="0.6" height="0.6"/><rect x="44.4" y="218.9" width="0.5" height="0.5"/><rect x="45.7" y="239.8" width="0.4" height="0.4"/><rect x="92.8" y="185.4" width="0.4" height="0.4"/><rect x="83.3" y="192.7" width="0.7" height="0.7"/><rect x="49.8" y="180.3" width="0.7" height="0.7"/><rect x="83.0" y="232.6" width="0.7" height="0.7"/><rect x="43.3" y="217.9" width="0.7" height="0.7"/><rect x="67.0" y="237.6" width="0.5" height="0.5"/><rect x="79.0" y="230.1" width="0.4" height="0.4"/><rect x="57.6" y="224.4" width="0.5" height="0.5"/><rect x="92.2" y="208.6" width="0.4" height="0.4"/><rect x="61.2" y="214.4" width="0.6" height="0.6"/><rect x="80.6" y="186.4" width="0.8" height="0.8"/><rect x="60.9" y="218.9" width="0.7" height="0.7"/><rect x="64.3" y="202.1" width="0.7" height="0.7"/><rect x="97.5" y="228.0" width="0.6" height="0.6"/><rect x="56.4" y="180.9" width="0.8" height="0.8"/><rect x="82.3" y="230.8" width="0.5" height="0.5"/><rect x="90.4" y="216.1" width="0.5" height="0.5"/><rect x="65.0" y="234.7" width="0.6" height="0.6"/><rect x="81.1" y="216.1" width="0.8" height="0.8"/><rect x="88.9" y="195.4" width="0.4" height="0.4"/><rect x="54.6" y="204.5" width="0.7" height="0.7"/><rect x="89.4" y="234.7" width="0.4" height="0.4"/><rect x="90.5" y="229.8" width="0.8" height="0.8"/><rect x="74.0" y="194.8" width="0.8" height="0.8"/><rect x="88.8" y="221.5" width="0.8" height="0.8"/><rect x="59.9" y="182.5" width="0.6" height="0.6"/><rect x="88.2" y="190.0" width="0.7" height="0.7"/><rect x="96.7" y="192.2" width="0.7" height="0.7"/><rect x="80.7" y="207.2" width="0.5" height="0.5"/><rect x="54.0" y="225.8" width="0.7" height="0.7"/><rect x="67.0" y="182.7" width="0.8" height="0.8"/><rect x="86.6" y="192.1" width="0.7" height="0.7"/><rect x="94.5" y="234.5" width="0.6" height="0.6"/><rect x="68.0" y="215.3" width="0.5" height="0.5"/><rect x="50.1" y="188.7" width="0.7" height="0.7"/><rect x="60.9" y="213.7" width="0.6" height="0.6"/><rect x="70.6" y="186.7" width="0.4" height="0.4"/><rect x="44.7" y="218.1" width="0.7" height="0.7"/><rect x="47.8" y="215.8" width="0.6" height="0.6"/><rect x="92.6" y="208.6" width="0.6" height="0.6"/><rect x="54.5" y="227.6" width="0.6" height="0.6"/><rect x="97.6" y="226.9" width="0.8" height="0.8"/><rect x="98.7" y="193.5" width="0.4" height="0.4"/><rect x="50.7" y="188.7" width="0.4" height="0.4"/><rect x="41.2" y="213.2" width="0.8" height="0.8"/><rect x="66.9" y="238.6" width="0.8" height="0.8"/><rect x="42.0" y="215.9" width="0.6" height="0.6"/><rect x="45.6" y="239.4" width="0.5" height="0.5"/><rect x="73.6" y="218.6" width="0.8" height="0.8"/><rect x="80.2" y="202.6" width="0.6" height="0.6"/><rect x="48.1" y="239.8" width="0.8" height="0.8"/><rect x="52.0" y="179.5" width="0.5" height="0.5"/><rect x="60.2" y="235.7" width="0.8" height="0.8"/><rect x="90.7" y="180.1" width="0.7" height="0.7"/><rect x="82.7" y="219.0" width="0.8" height="0.8"/><rect x="41.5" y="186.4" width="0.7" height="0.7"/><rect x="97.2" y="221.0" width="0.5" height="0.5"/><rect x="75.3" y="226.3" width="0.4" height="0.4"/><rect x="58.4" y="193.7" width="0.5" height="0.5"/><rect x="68.3" y="188.0" width="0.5" height="0.5"/><rect x="47.0" y="221.0" width="0.4" height="0.4"/><rect x="83.2" y="189.7" width="0.4" height="0.4"/><rect x="96.4" y="191.3" width="0.8" height="0.8"/><rect x="92.6" y="234.8" width="0.5" height="0.5"/><rect x="66.2" y="183.3" width="0.8" height="0.8"/><rect x="91.1" y="217.8" width="0.6" height="0.6"/><rect x="59.4" y="230.5" width="0.6" height="0.6"/><rect x="77.6" y="186.3" width="0.5" height="0.5"/><rect x="41.6" y="223.4" width="0.6" height="0.6"/><rect x="47.1" y="233.6" width="0.5" height="0.5"/><rect x="63.9" y="187.1" width="0.5" height="0.5"/><rect x="90.9" y="198.7" width="0.5" height="0.5"/><rect x="68.9" y="197.7" width="0.8" height="0.8"/><rect x="45.2" y="240.6" width="0.4" height="0.4"/><rect x="94.4" y="220.4" width="0.5" height="0.5"/><rect x="68.1" y="195.6" width="0.5" height="0.5"/><rect x="50.7" y="200.7" width="0.8" height="0.8"/><rect x="44.1" y="195.8" width="0.8" height="0.8"/><rect x="41.6" y="224.2" width="0.5" height="0.5"/><rect x="88.8" y="199.2" width="0.5" height="0.5"/><rect x="71.2" y="189.1" width="0.6" height="0.6"/><rect x="95.5" y="191.2" width="0.7" height="0.7"/><rect x="46.7" y="188.7" width="0.7" height="0.7"/><rect x="82.8" y="189.8" width="0.4" height="0.4"/><rect x="43.5" y="216.6" width="0.6" height="0.6"/><rect x="55.3" y="190.4" width="0.7" height="0.7"/><rect x="82.6" y="229.8" width="0.7" height="0.7"/><rect x="50.7" y="181.3" width="0.7" height="0.7"/><rect x="63.7" y="223.9" width="0.4" height="0.4"/><rect x="89.1" y="198.8" width="0.8" height="0.8"/><rect x="92.5" y="209.0" width="0.4" height="0.4"/><rect x="95.3" y="208.0" width="0.8" height="0.8"/><rect x="54.8" y="189.1" width="0.8" height="0.8"/><rect x="61.1" y="187.6" width="0.6" height="0.6"/><rect x="70.7" y="206.0" width="0.6" height="0.6"/><rect x="45.6" y="223.4" width="0.8" height="0.8"/><rect x="92.5" y="197.9" width="0.7" height="0.7"/><rect x="62.0" y="225.8" width="0.4" height="0.4"/><rect x="69.2" y="210.4" width="0.6" height="0.6"/><rect x="49.5" y="183.7" width="0.5" height="0.5"/><rect x="44.1" y="222.4" width="0.5" height="0.5"/><rect x="39.1" y="216.0" width="0.7" height="0.7"/><rect x="70.9" y="222.7" width="0.4" height="0.4"/><rect x="92.8" y="223.6" width="0.4" height="0.4"/><rect x="45.8" y="209.1" width="0.6" height="0.6"/><rect x="55.6" y="184.9" width="0.6" height="0.6"/><rect x="46.6" y="215.5" width="0.8" height="0.8"/><rect x="47.3" y="214.2" width="0.7" height="0.7"/><rect x="48.4" y="230.7" width="0.8" height="0.8"/><rect x="62.5" y="204.3" width="0.8" height="0.8"/><rect x="71.1" y="202.7" width="0.8" height="0.8"/><rect x="86.9" y="199.0" width="0.5" height="0.5"/><rect x="59.1" y="205.3" width="0.8" height="0.8"/><rect x="88.7" y="236.3" width="0.8" height="0.8"/><rect x="91.4" y="180.5" width="0.6" height="0.6"/><rect x="53.7" y="204.4" width="0.7" height="0.7"/><rect x="61.0" y="211.5" width="0.4" height="0.4"/><rect x="65.3" y="209.8" width="0.4" height="0.4"/><rect x="46.8" y="240.0" width="0.7" height="0.7"/><rect x="97.0" y="218.2" width="0.8" height="0.8"/><rect x="93.7" y="234.5" width="0.4" height="0.4"/><rect x="78.4" y="194.3" width="0.7" height="0.7"/><rect x="55.2" y="212.2" width="0.8" height="0.8"/><rect x="77.1" y="193.3" width="0.6" height="0.6"/><rect x="65.3" y="238.8" width="0.5" height="0.5"/><rect x="57.2" y="219.1" width="0.5" height="0.5"/><rect x="75.4" y="239.1" width="0.6" height="0.6"/><rect x="54.9" y="207.3" width="0.6" height="0.6"/><rect x="47.3" y="185.1" width="0.5" height="0.5"/><rect x="56.5" y="203.4" width="0.5" height="0.5"/><rect x="53.3" y="182.7" width="0.6" height="0.6"/><rect x="90.9" y="216.6" width="0.7" height="0.7"/><rect x="79.0" y="190.1" width="0.7" height="0.7"/><rect x="67.0" y="212.6" width="0.7" height="0.7"/><rect x="67.5" y="197.2" width="0.5" height="0.5"/><rect x="52.0" y="210.3" width="0.6" height="0.6"/><rect x="60.2" y="233.0" width="0.5" height="0.5"/><rect x="73.1" y="208.9" width="0.5" height="0.5"/><rect x="86.6" y="187.3" width="0.4" height="0.4"/><rect x="92.9" y="205.6" width="0.4" height="0.4"/><rect x="62.4" y="205.6" width="0.7" height="0.7"/><rect x="44.9" y="191.6" width="0.8" height="0.8"/><rect x="84.5" y="187.0" width="0.5" height="0.5"/><rect x="60.2" y="220.9" width="0.7" height="0.7"/><rect x="91.5" y="230.4" width="0.6" height="0.6"/><rect x="84.5" y="225.3" width="0.7" height="0.7"/><rect x="67.9" y="228.0" width="0.7" height="0.7"/><rect x="95.6" y="185.3" width="0.8" height="0.8"/><rect x="74.9" y="209.4" width="0.8" height="0.8"/><rect x="74.0" y="204.2" width="0.7" height="0.7"/><rect x="93.0" y="216.5" width="0.6" height="0.6"/><rect x="66.5" y="206.8" width="0.7" height="0.7"/><rect x="56.5" y="202.4" width="0.6" height="0.6"/><rect x="62.2" y="197.9" width="0.7" height="0.7"/><rect x="91.5" y="209.5" width="0.6" height="0.6"/><rect x="49.6" y="196.8" width="0.5" height="0.5"/><rect x="74.3" y="214.8" width="0.4" height="0.4"/><rect x="96.0" y="198.1" width="0.8" height="0.8"/><rect x="50.9" y="204.7" width="0.8" height="0.8"/><rect x="73.6" y="209.3" width="0.8" height="0.8"/><rect x="86.7" y="212.0" width="0.8" height="0.8"/><rect x="70.6" y="210.6" width="0.7" height="0.7"/><rect x="62.5" y="200.3" width="0.7" height="0.7"/><rect x="60.1" y="238.6" width="0.7" height="0.7"/><rect x="71.1" y="183.4" width="0.6" height="0.6"/><rect x="63.3" y="213.5" width="0.7" height="0.7"/><rect x="68.7" y="205.6" width="0.7" height="0.7"/><rect x="71.4" y="230.0" width="0.5" height="0.5"/><rect x="58.0" y="240.6" width="0.8" height="0.8"/><rect x="70.3" y="184.2" width="0.8" height="0.8"/><rect x="81.5" y="230.3" width="0.8" height="0.8"/><rect x="94.0" y="204.4" width="0.5" height="0.5"/><rect x="56.3" y="210.3" width="0.6" height="0.6"/><rect x="49.9" y="188.9" width="0.7" height="0.7"/><rect x="76.0" y="200.0" width="0.8" height="0.8"/><rect x="78.1" y="179.8" width="0.6" height="0.6"/><rect x="87.6" y="196.9" width="0.7" height="0.7"/><rect x="91.1" y="215.1" width="0.7" height="0.7"/><rect x="50.4" y="209.4" width="0.6" height="0.6"/><rect x="54.8" y="219.0" width="0.6" height="0.6"/><rect x="63.9" y="184.9" width="0.5" height="0.5"/><rect x="85.8" y="183.9" width="0.4" height="0.4"/><rect x="48.7" y="211.0" width="0.8" height="0.8"/><rect x="76.6" y="229.4" width="0.4" height="0.4"/><rect x="58.3" y="223.5" width="0.6" height="0.6"/><rect x="48.7" y="194.3" width="0.4" height="0.4"/><rect x="94.9" y="214.8" width="0.6" height="0.6"/><rect x="66.3" y="202.1" width="0.4" height="0.4"/><rect x="94.1" y="214.9" width="0.8" height="0.8"/><rect x="65.7" y="217.3" width="0.5" height="0.5"/><rect x="40.8" y="237.5" width="0.8" height="0.8"/><rect x="57.8" y="235.4" width="0.8" height="0.8"/><rect x="57.1" y="216.2" width="0.8" height="0.8"/><rect x="69.2" y="238.7" width="0.5" height="0.5"/><rect x="62.6" y="223.7" width="0.5" height="0.5"/><rect x="57.5" y="233.9" width="0.6" height="0.6"/><rect x="87.9" y="192.8" width="0.5" height="0.5"/><rect x="60.6" y="189.1" width="0.8" height="0.8"/><rect x="56.3" y="213.5" width="0.5" height="0.5"/><rect x="71.6" y="202.1" width="0.6" height="0.6"/><rect x="42.1" y="185.0" width="0.8" height="0.8"/><rect x="60.1" y="192.9" width="0.5" height="0.5"/><rect x="55.9" y="192.4" width="0.4" height="0.4"/><rect x="79.8" y="199.2" width="0.5" height="0.5"/><rect x="82.5" y="183.0" width="0.5" height="0.5"/><rect x="90.6" y="185.3" width="0.6" height="0.6"/><rect x="90.7" y="229.3" width="0.5" height="0.5"/><rect x="60.2" y="224.0" width="0.6" height="0.6"/><rect x="98.4" y="190.5" width="0.8" height="0.8"/><rect x="69.8" y="191.8" width="0.6" height="0.6"/><rect x="46.2" y="222.9" width="0.5" height="0.5"/></g>
<g fill="#333" opacity="0.6"><rect x="92.9" y="198.0" width="0.6" height="0.6"/><rect x="66.1" y="198.6" width="0.6" height="0.6"/><rect x="91.8" y="184.6" width="0.7" height="0.7"/><rect x="78.2" y="188.8" width="0.8" height="0.8"/><rect x="71.8" y="200.1" width="0.7" height="0.7"/><rect x="68.7" y="192.3" width="0.5" height="0.5"/><rect x="69.2" y="200.2" width="0.5" height="0.5"/><rect x="79.0" y="191.5" width="0.7" height="0.7"/><rect x="68.2" y="182.9" width="0.6" height="0.6"/><rect x="65.3" y="184.7" width="0.8" height="0.8"/><rect x="67.6" y="192.7" width="0.9" height="0.9"/><rect x="91.3" y="184.8" width="0.6" height="0.6"/><rect x="57.2" y="200.7" width="0.8" height="0.8"/><rect x="70.4" y="193.0" width="0.8" height="0.8"/><rect x="84.7" y="188.2" width="0.9" height="0.9"/><rect x="70.4" y="199.2" width="0.5" height="0.5"/><rect x="86.1" y="201.7" width="0.5" height="0.5"/><rect x="57.6" y="185.7" width="0.5" height="0.5"/><rect x="68.4" y="192.0" width="0.5" height="0.5"/><rect x="68.7" y="199.5" width="0.5" height="0.5"/><rect x="90.4" y="197.5" width="0.8" height="0.8"/><rect x="66.4" y="193.6" width="0.8" height="0.8"/><rect x="90.2" y="203.5" width="0.6" height="0.6"/><rect x="80.9" y="182.4" width="0.6" height="0.6"/><rect x="60.6" y="204.0" width="0.5" height="0.5"/><rect x="93.5" y="202.7" width="0.5" height="0.5"/><rect x="84.5" y="192.4" width="0.8" height="0.8"/><rect x="90.0" y="189.2" width="0.5" height="0.5"/><rect x="94.8" y="193.3" width="0.9" height="0.9"/><rect x="84.4" y="202.4" width="0.9" height="0.9"/><rect x="81.8" y="194.1" width="0.5" height="0.5"/><rect x="84.6" y="193.4" width="0.7" height="0.7"/><rect x="94.1" y="184.7" width="0.8" height="0.8"/><rect x="57.8" y="201.4" width="0.9" height="0.9"/><rect x="66.7" y="196.8" width="0.9" height="0.9"/><rect x="82.1" y="196.8" width="0.6" height="0.6"/><rect x="58.4" y="191.4" width="0.7" height="0.7"/><rect x="64.3" y="190.0" width="0.5" height="0.5"/><rect x="85.0" y="200.4" width="0.6" height="0.6"/><rect x="65.9" y="195.9" width="0.7" height="0.7"/><rect x="94.4" y="191.2" width="0.6" height="0.6"/><rect x="92.3" y="185.1" width="0.7" height="0.7"/><rect x="69.7" y="204.6" width="0.7" height="0.7"/><rect x="87.2" y="185.9" width="0.8" height="0.8"/><rect x="80.5" y="194.4" width="0.8" height="0.8"/><rect x="90.1" y="184.3" width="0.6" height="0.6"/><rect x="70.8" y="187.0" width="0.5" height="0.5"/><rect x="67.5" y="186.7" width="0.8" height="0.8"/><rect x="74.4" y="184.3" width="0.6" height="0.6"/><rect x="75.2" y="191.5" width="0.5" height="0.5"/><rect x="59.4" y="201.8" width="0.9" height="0.9"/><rect x="79.1" y="184.2" width="0.7" height="0.7"/><rect x="73.8" y="186.5" width="0.7" height="0.7"/><rect x="82.4" y="199.2" width="0.9" height="0.9"/><rect x="82.8" y="188.3" width="0.6" height="0.6"/><rect x="87.8" y="205.3" width="0.6" height="0.6"/><rect x="63.6" y="199.5" width="0.9" height="0.9"/><rect x="94.0" y="185.9" width="0.8" height="0.8"/><rect x="90.0" y="202.5" width="0.6" height="0.6"/><rect x="63.6" y="204.9" width="0.6" height="0.6"/><rect x="71.1" y="197.0" width="0.6" height="0.6"/><rect x="90.1" y="187.9" width="0.5" height="0.5"/><rect x="79.2" y="199.2" width="0.9" height="0.9"/><rect x="84.9" y="207.3" width="0.9" height="0.9"/><rect x="76.3" y="195.5" width="0.5" height="0.5"/><rect x="68.3" y="197.9" width="0.5" height="0.5"/><rect x="84.2" y="185.7" width="0.7" height="0.7"/><rect x="57.6" y="193.7" width="0.5" height="0.5"/><rect x="90.5" y="205.8" width="0.8" height="0.8"/><rect x="73.4" y="189.2" width="0.8" height="0.8"/><rect x="77.1" y="193.2" width="0.6" height="0.6"/><rect x="74.0" y="200.3" width="0.9" height="0.9"/><rect x="93.1" y="185.8" width="0.6" height="0.6"/><rect x="74.2" y="197.3" width="0.6" height="0.6"/><rect x="64.0" y="183.5" width="0.6" height="0.6"/><rect x="81.4" y="204.5" width="0.5" height="0.5"/><rect x="83.7" y="198.7" width="0.6" height="0.6"/><rect x="79.4" y="208.6" width="0.7" height="0.7"/><rect x="82.5" y="189.7" width="0.6" height="0.6"/><rect x="63.7" y="200.7" width="0.7" height="0.7"/><rect x="59.5" y="200.2" width="0.6" height="0.6"/><rect x="79.8" y="193.1" width="0.7" height="0.7"/><rect x="79.2" y="192.5" width="0.5" height="0.5"/><rect x="78.5" y="184.3" width="0.9" height="0.9"/><rect x="66.4" y="183.8" width="0.7" height="0.7"/><rect x="66.3" y="195.2" width="0.7" height="0.7"/><rect x="65.3" y="197.6" width="0.5" height="0.5"/><rect x="77.0" y="198.1" width="0.5" height="0.5"/><rect x="72.7" y="183.1" width="0.7" height="0.7"/><rect x="91.4" y="197.0" width="0.8" height="0.8"/><rect x="87.0" y="184.3" width="1.0" height="1.0"/><rect x="85.6" y="184.0" width="0.9" height="0.9"/><rect x="72.1" y="186.0" width="0.9" height="0.9"/><rect x="79.1" y="203.5" width="0.5" height="0.5"/><rect x="87.8" y="182.7" width="0.6" height="0.6"/><rect x="80.4" y="187.2" width="0.6" height="0.6"/><rect x="85.0" y="193.4" width="0.9" height="0.9"/><rect x="81.5" y="206.3" width="0.7" height="0.7"/><rect x="62.9" y="202.6" width="0.6" height="0.6"/><rect x="87.3" y="200.7" width="0.9" height="0.9"/><rect x="61.0" y="191.8" width="0.8" height="0.8"/><rect x="94.9" y="201.9" width="0.5" height="0.5"/><rect x="80.8" y="183.9" width="0.7" height="0.7"/><rect x="88.9" y="184.3" width="0.9" height="0.9"/><rect x="83.7" y="188.4" width="0.5" height="0.5"/><rect x="74.3" y="205.3" width="0.7" height="0.7"/><rect x="60.5" y="204.2" width="0.5" height="0.5"/><rect x="78.7" y="189.4" width="0.8" height="0.8"/><rect x="71.6" y="185.2" width="0.9" height="0.9"/><rect x="78.1" y="201.0" width="0.9" height="0.9"/><rect x="70.0" y="185.4" width="0.7" height="0.7"/><rect x="91.8" y="204.2" width="0.5" height="0.5"/><rect x="63.5" y="204.7" width="0.8" height="0.8"/><rect x="72.1" y="194.8" width="0.5" height="0.5"/><rect x="90.6" y="192.4" width="0.9" height="0.9"/><rect x="81.0" y="183.2" width="0.6" height="0.6"/><rect x="80.2" y="182.3" width="0.5" height="0.5"/><rect x="70.8" y="194.6" width="0.7" height="0.7"/><rect x="71.9" y="191.3" width="0.4" height="0.4"/><rect x="79.7" y="190.7" width="0.5" height="0.5"/><rect x="57.9" y="185.2" width="0.8" height="0.8"/><rect x="67.2" y="188.9" width="0.7" height="0.7"/><rect x="66.7" y="197.5" width="0.7" height="0.7"/><rect x="57.4" y="197.3" width="0.8" height="0.8"/><rect x="91.8" y="203.5" width="0.8" height="0.8"/><rect x="82.0" y="191.5" width="0.6" height="0.6"/><rect x="94.5" y="200.8" width="0.6" height="0.6"/><rect x="87.3" y="202.4" width="0.7" height="0.7"/><rect x="82.0" y="191.2" width="0.7" height="0.7"/><rect x="72.6" y="182.8" width="0.6" height="0.6"/><rect x="75.7" y="191.7" width="0.6" height="0.6"/><rect x="65.6" y="191.1" width="0.5" height="0.5"/><rect x="74.6" y="193.9" width="0.7" height="0.7"/><rect x="68.4" y="185.9" width="0.5" height="0.5"/><rect x="68.4" y="189.9" width="0.8" height="0.8"/><rect x="78.6" y="208.2" width="0.6" height="0.6"/><rect x="93.8" y="197.9" width="0.5" height="0.5"/><rect x="63.3" y="197.8" width="1.0" height="1.0"/><rect x="70.6" y="203.5" width="0.7" height="0.7"/><rect x="91.6" y="183.0" width="0.7" height="0.7"/><rect x="92.9" y="189.0" width="0.6" height="0.6"/><rect x="67.0" y="201.4" width="0.6" height="0.6"/><rect x="72.4" y="186.8" width="0.8" height="0.8"/><rect x="91.4" y="199.8" width="0.5" height="0.5"/><rect x="80.6" y="183.3" width="0.9" height="0.9"/><rect x="91.9" y="190.9" width="0.5" height="0.5"/><rect x="63.7" y="196.6" width="0.9" height="0.9"/><rect x="82.2" y="207.8" width="0.6" height="0.6"/><rect x="69.4" y="202.7" width="0.8" height="0.8"/><rect x="72.6" y="200.7" width="0.6" height="0.6"/><rect x="58.4" y="193.0" width="0.5" height="0.5"/><rect x="81.7" y="190.7" width="0.7" height="0.7"/><rect x="80.5" y="188.5" width="0.7" height="0.7"/><rect x="58.3" y="198.8" width="0.8" height="0.8"/><rect x="69.5" y="183.7" width="0.5" height="0.5"/><rect x="61.8" y="203.2" width="0.5" height="0.5"/><rect x="89.4" y="193.3" width="0.7" height="0.7"/><rect x="80.1" y="197.1" width="0.8" height="0.8"/><rect x="80.7" y="190.6" width="0.8" height="0.8"/><rect x="66.6" y="201.6" width="0.8" height="0.8"/><rect x="87.8" y="190.0" width="0.8" height="0.8"/><rect x="67.4" y="196.2" width="0.9" height="0.9"/><rect x="75.5" y="200.0" width="0.8" height="0.8"/><rect x="65.4" y="202.9" width="0.5" height="0.5"/><rect x="57.1" y="184.9" width="0.5" height="0.5"/><rect x="76.6" y="197.1" width="0.5" height="0.5"/><rect x="94.5" y="191.6" width="0.5" height="0.5"/><rect x="63.3" y="202.4" width="0.9" height="0.9"/><rect x="87.9" y="188.0" width="1.0" height="1.0"/><rect x="76.5" y="199.4" width="0.6" height="0.6"/><rect x="88.8" y="194.3" width="0.6" height="0.6"/><rect x="93.0" y="184.1" width="0.8" height="0.8"/><rect x="58.7" y="199.7" width="0.6" height="0.6"/><rect x="91.4" y="182.7" width="0.7" height="0.7"/><rect x="72.8" y="207.7" width="0.9" height="0.9"/><rect x="81.7" y="187.5" width="0.6" height="0.6"/><rect x="66.8" y="193.6" width="0.6" height="0.6"/><rect x="64.3" y="203.0" width="0.8" height="0.8"/><rect x="64.9" y="197.5" width="0.5" height="0.5"/><rect x="67.0" y="202.8" width="0.9" height="0.9"/><rect x="67.6" y="190.6" width="0.7" height="0.7"/><rect x="92.5" y="185.7" width="0.8" height="0.8"/><rect x="80.5" y="194.1" width="0.7" height="0.7"/><rect x="92.2" y="187.1" width="0.9" height="0.9"/><rect x="70.8" y="203.6" width="0.9" height="0.9"/><rect x="57.0" y="184.2" width="0.9" height="0.9"/><rect x="62.2" y="202.3" width="0.5" height="0.5"/><rect x="62.9" y="200.8" width="0.5" height="0.5"/><rect x="85.4" y="206.6" width="0.9" height="0.9"/><rect x="57.3" y="187.8" width="0.9" height="0.9"/><rect x="84.3" y="182.1" width="0.7" height="0.7"/><rect x="65.5" y="193.5" width="0.5" height="0.5"/><rect x="69.0" y="206.5" width="0.5" height="0.5"/><rect x="76.0" y="184.9" width="0.7" height="0.7"/><rect x="63.3" y="200.9" width="0.5" height="0.5"/><rect x="86.3" y="195.5" width="0.5" height="0.5"/><rect x="70.5" y="195.4" width="0.9" height="0.9"/><rect x="70.3" y="187.2" width="0.9" height="0.9"/><rect x="92.2" y="202.2" width="0.6" height="0.6"/><rect x="63.3" y="188.7" width="0.5" height="0.5"/><rect x="57.8" y="195.8" width="0.7" height="0.7"/><rect x="78.8" y="191.5" width="0.4" height="0.4"/><rect x="84.2" y="199.9" width="0.7" height="0.7"/><rect x="78.5" y="201.0" width="1.0" height="1.0"/><rect x="91.8" y="201.8" width="0.6" height="0.6"/><rect x="69.0" y="193.2" width="0.9" height="0.9"/><rect x="71.9" y="192.2" width="0.7" height="0.7"/><rect x="94.0" y="188.4" width="0.8" height="0.8"/><rect x="71.5" y="188.0" width="0.5" height="0.5"/><rect x="58.0" y="201.1" width="0.6" height="0.6"/><rect x="82.5" y="196.9" width="0.6" height="0.6"/><rect x="86.6" y="205.8" width="0.7" height="0.7"/><rect x="65.6" y="199.3" width="0.8" height="0.8"/><rect x="71.5" y="201.7" width="0.6" height="0.6"/><rect x="77.6" y="198.8" width="0.8" height="0.8"/><rect x="69.2" y="199.2" width="0.7" height="0.7"/><rect x="65.2" y="198.8" width="0.6" height="0.6"/><rect x="93.3" y="194.7" width="0.8" height="0.8"/><rect x="77.4" y="194.8" width="0.6" height="0.6"/><rect x="77.7" y="196.2" width="0.7" height="0.7"/><rect x="89.3" y="187.9" width="0.5" height="0.5"/><rect x="89.7" y="194.3" width="0.8" height="0.8"/><rect x="91.6" y="182.3" width="0.6" height="0.6"/><rect x="90.1" y="204.7" width="0.5" height="0.5"/><rect x="62.3" y="188.3" width="0.5" height="0.5"/><rect x="70.6" y="204.3" width="0.7" height="0.7"/><rect x="74.6" y="183.6" width="0.6" height="0.6"/><rect x="74.4" y="194.9" width="0.9" height="0.9"/><rect x="87.1" y="185.3" width="0.8" height="0.8"/><rect x="71.0" y="196.1" width="0.6" height="0.6"/><rect x="71.2" y="190.9" width="0.6" height="0.6"/><rect x="79.4" y="182.7" width="0.5" height="0.5"/><rect x="85.4" y="189.0" width="0.6" height="0.6"/><rect x="65.9" y="205.2" width="0.5" height="0.5"/><rect x="82.1" y="205.9" width="0.5" height="0.5"/><rect x="73.3" y="204.0" width="0.8" height="0.8"/><rect x="71.2" y="182.3" width="0.7" height="0.7"/><rect x="71.1" y="201.7" width="0.6" height="0.6"/><rect x="72.7" y="199.8" width="0.9" height="0.9"/><rect x="70.4" y="192.2" width="0.7" height="0.7"/><rect x="93.9" y="186.6" width="0.9" height="0.9"/><rect x="85.2" y="191.8" width="0.8" height="0.8"/><rect x="69.5" y="183.1" width="0.8" height="0.8"/><rect x="71.6" y="196.2" width="0.7" height="0.7"/><rect x="93.0" y="203.0" width="0.5" height="0.5"/><rect x="80.3" y="194.4" width="0.7" height="0.7"/><rect x="90.4" y="193.0" width="0.7" height="0.7"/><rect x="92.5" y="193.8" width="0.7" height="0.7"/><rect x="77.0" y="204.9" width="0.8" height="0.8"/><rect x="86.4" y="192.6" width="0.5" height="0.5"/><rect x="83.9" y="197.1" width="0.8" height="0.8"/><rect x="87.6" y="184.4" width="0.6" height="0.6"/><rect x="60.2" y="183.6" width="0.8" height="0.8"/><rect x="79.1" y="182.6" width="0.8" height="0.8"/><rect x="85.2" y="195.0" width="0.5" height="0.5"/><rect x="84.3" y="193.1" width="0.7" height="0.7"/><rect x="91.7" y="185.2" width="0.6" height="0.6"/><rect x="66.8" y="190.1" width="0.6" height="0.6"/><rect x="91.2" y="197.1" width="0.7" height="0.7"/><rect x="73.2" y="182.5" width="0.6" height="0.6"/><rect x="91.5" y="204.3" width="0.9" height="0.9"/><rect x="66.5" y="186.9" width="0.5" height="0.5"/><rect x="78.0" y="191.8" width="0.7" height="0.7"/><rect x="76.0" y="197.9" width="0.6" height="0.6"/><rect x="88.9" y="186.8" width="0.9" height="0.9"/><rect x="78.8" y="182.5" width="0.6" height="0.6"/><rect x="77.9" y="192.9" width="0.7" height="0.7"/><rect x="69.3" y="188.9" width="0.9" height="0.9"/><rect x="68.0" y="201.6" width="0.9" height="0.9"/><rect x="80.3" y="194.2" width="0.9" height="0.9"/><rect x="74.2" y="206.5" width="0.5" height="0.5"/><rect x="73.8" y="199.5" width="0.5" height="0.5"/><rect x="91.4" y="183.1" width="0.8" height="0.8"/><rect x="79.0" y="204.2" width="0.7" height="0.7"/><rect x="83.6" y="200.6" width="0.6" height="0.6"/><rect x="64.7" y="205.3" width="0.5" height="0.5"/><rect x="93.6" y="187.0" width="0.5" height="0.5"/><rect x="59.9" y="203.7" width="0.9" height="0.9"/><rect x="73.0" y="200.1" width="0.6" height="0.6"/><rect x="93.1" y="200.9" width="0.5" height="0.5"/><rect x="58.3" y="201.2" width="0.5" height="0.5"/><rect x="90.3" y="189.5" width="0.6" height="0.6"/><rect x="79.9" y="190.2" width="0.7" height="0.7"/><rect x="69.3" y="205.4" width="0.5" height="0.5"/><rect x="71.6" y="199.6" width="0.6" height="0.6"/><rect x="78.4" y="183.7" width="0.7" height="0.7"/><rect x="85.9" y="193.5" width="0.8" height="0.8"/><rect x="77.6" y="189.4" width="0.6" height="0.6"/><rect x="86.8" y="195.4" width="0.9" height="0.9"/><rect x="59.8" y="195.1" width="0.9" height="0.9"/><rect x="80.5" y="196.7" width="0.5" height="0.5"/><rect x="61.7" y="188.9" width="0.9" height="0.9"/><rect x="90.7" y="187.6" width="0.9" height="0.9"/><rect x="57.3" y="198.4" width="0.9" height="0.9"/><rect x="82.9" y="182.5" width="0.6" height="0.6"/><rect x="74.4" y="188.2" width="0.8" height="0.8"/><rect x="63.3" y="203.8" width="0.6" height="0.6"/><rect x="58.8" y="197.2" width="0.5" height="0.5"/><rect x="78.6" y="203.9" width="0.7" height="0.7"/><rect x="77.0" y="183.8" width="0.8" height="0.8"/><rect x="61.4" y="197.8" width="0.6" height="0.6"/><rect x="71.4" y="200.2" width="0.5" height="0.5"/><rect x="69.6" y="205.4" width="0.9" height="0.9"/><rect x="75.7" y="185.3" width="0.5" height="0.5"/><rect x="92.0" y="184.4" width="0.7" height="0.7"/><rect x="78.0" y="184.4" width="0.7" height="0.7"/><rect x="62.7" y="196.5" width="0.7" height="0.7"/><rect x="71.0" y="186.7" width="0.6" height="0.6"/><rect x="64.3" y="184.7" width="0.6" height="0.6"/><rect x="91.7" y="195.6" width="0.9" height="0.9"/><rect x="76.0" y="203.9" width="0.7" height="0.7"/><rect x="84.2" y="187.6" width="0.8" height="0.8"/><rect x="62.3" y="188.7" width="0.5" height="0.5"/><rect x="72.1" y="196.0" width="0.6" height="0.6"/><rect x="92.5" y="183.4" width="0.7" height="0.7"/><rect x="65.6" y="198.3" width="0.8" height="0.8"/><rect x="85.1" y="182.8" width="0.6" height="0.6"/><rect x="57.7" y="198.9" width="0.8" height="0.8"/><rect x="89.4" y="190.9" width="0.9" height="0.9"/><rect x="74.9" y="207.7" width="0.4" height="0.4"/><rect x="94.6" y="192.9" width="0.7" height="0.7"/><rect x="59.6" y="188.1" width="0.8" height="0.8"/><rect x="83.8" y="185.4" width="0.6" height="0.6"/><rect x="61.8" y="186.7" width="0.6" height="0.6"/><rect x="75.7" y="195.4" width="0.8" height="0.8"/><rect x="93.2" y="202.8" width="0.8" height="0.8"/><rect x="64.2" y="199.1" width="0.9" height="0.9"/><rect x="88.3" y="183.7" width="0.8" height="0.8"/><rect x="70.3" y="185.7" width="0.9" height="0.9"/><rect x="83.6" y="202.6" width="0.5" height="0.5"/><rect x="93.1" y="202.6" width="0.9" height="0.9"/><rect x="88.9" y="198.1" width="0.7" height="0.7"/><rect x="89.8" y="203.7" width="0.9" height="0.9"/><rect x="77.8" y="208.4" width="0.5" height="0.5"/><rect x="95.7" y="203.8" width="0.6" height="0.6"/><rect x="90.4" y="187.7" width="0.5" height="0.5"/><rect x="74.8" y="187.9" width="0.7" height="0.7"/><rect x="93.2" y="200.9" width="0.8" height="0.8"/><rect x="72.1" y="203.7" width="0.9" height="0.9"/><rect x="89.9" y="192.8" width="0.5" height="0.5"/><rect x="82.8" y="205.3" width="0.6" height="0.6"/><rect x="80.4" y="205.3" width="0.9" height="0.9"/><rect x="89.3" y="193.1" width="0.8" height="0.8"/><rect x="74.8" y="190.7" width="0.6" height="0.6"/><rect x="70.5" y="205.5" width="0.8" height="0.8"/><rect x="68.0" y="183.6" width="0.6" height="0.6"/><rect x="84.7" y="193.8" width="0.8" height="0.8"/><rect x="89.1" y="184.5" width="0.8" height="0.8"/><rect x="63.5" y="188.9" width="0.9" height="0.9"/><rect x="70.9" y="187.5" width="0.9" height="0.9"/><rect x="81.0" y="206.9" width="0.6" height="0.6"/><rect x="63.8" y="205.1" width="0.5" height="0.5"/><rect x="74.6" y="204.5" width="0.6" height="0.6"/><rect x="70.4" y="183.9" width="0.7" height="0.7"/><rect x="91.4" y="195.9" width="0.6" height="0.6"/><rect x="83.3" y="183.2" width="0.8" height="0.8"/><rect x="70.8" y="200.2" width="0.8" height="0.8"/><rect x="71.4" y="196.1" width="0.8" height="0.8"/><rect x="93.2" y="195.4" width="0.6" height="0.6"/><rect x="90.2" y="200.8" width="0.7" height="0.7"/><rect x="74.4" y="202.8" width="0.9" height="0.9"/><rect x="85.9" y="202.7" width="0.5" height="0.5"/><rect x="69.3" y="185.0" width="0.9" height="0.9"/><rect x="92.5" y="185.2" width="0.7" height="0.7"/><rect x="79.6" y="182.4" width="0.6" height="0.6"/><rect x="86.6" y="199.6" width="0.6" height="0.6"/><rect x="87.3" y="189.4" width="0.7" height="0.7"/><rect x="82.6" y="204.3" width="0.8" height="0.8"/><rect x="85.1" y="201.0" width="0.6" height="0.6"/><rect x="62.6" y="197.7" width="0.9" height="0.9"/><rect x="88.5" y="191.1" width="0.5" height="0.5"/><rect x="77.2" y="206.4" width="0.5" height="0.5"/><rect x="86.3" y="185.9" width="0.6" height="0.6"/><rect x="58.2" y="189.6" width="0.6" height="0.6"/><rect x="63.7" y="190.0" width="0.9" height="0.9"/><rect x="64.1" y="190.3" width="0.7" height="0.7"/><rect x="60.4" y="188.5" width="0.6" height="0.6"/><rect x="66.9" y="186.9" width="0.9" height="0.9"/><rect x="74.5" y="205.3" width="0.8" height="0.8"/><rect x="87.9" y="190.1" width="0.5" height="0.5"/><rect x="87.0" y="194.6" width="0.7" height="0.7"/><rect x="83.5" y="202.8" width="0.6" height="0.6"/><rect x="70.9" y="207.6" width="0.7" height="0.7"/><rect x="67.8" y="199.3" width="0.6" height="0.6"/><rect x="87.6" y="182.2" width="0.9" height="0.9"/><rect x="79.2" y="191.3" width="0.9" height="0.9"/><rect x="66.9" y="188.1" width="0.5" height="0.5"/><rect x="78.5" y="202.9" width="0.8" height="0.8"/><rect x="72.9" y="204.4" width="0.5" height="0.5"/><rect x="68.6" y="199.7" width="0.9" height="0.9"/><rect x="82.0" y="201.1" width="0.8" height="0.8"/><rect x="86.4" y="190.9" width="0.6" height="0.6"/><rect x="89.0" y="191.1" width="0.5" height="0.5"/><rect x="91.7" y="196.4" width="0.7" height="0.7"/><rect x="83.4" y="207.1" width="0.5" height="0.5"/><rect x="69.9" y="182.9" width="0.7" height="0.7"/><rect x="76.6" y="205.7" width="0.8" height="0.8"/><rect x="79.7" y="192.7" width="0.7" height="0.7"/><rect x="67.2" y="205.5" width="0.9" height="0.9"/><rect x="90.4" y="185.4" width="0.8" height="0.8"/><rect x="86.9" y="195.5" width="0.9" height="0.9"/><rect x="92.9" y="202.5" width="0.9" height="0.9"/><rect x="82.6" y="206.5" width="0.5" height="0.5"/><rect x="84.9" y="201.4" width="0.8" height="0.8"/><rect x="67.3" y="183.0" width="0.8" height="0.8"/><rect x="89.8" y="188.9" width="0.6" height="0.6"/><rect x="65.2" y="183.7" width="0.8" height="0.8"/><rect x="70.7" y="201.3" width="0.5" height="0.5"/><rect x="90.4" y="190.4" width="0.4" height="0.4"/><rect x="81.8" y="185.0" width="0.6" height="0.6"/><rect x="58.4" y="193.9" width="0.7" height="0.7"/><rect x="89.1" y="182.1" width="0.9" height="0.9"/><rect x="60.5" y="187.5" width="0.8" height="0.8"/><rect x="69.9" y="190.6" width="0.7" height="0.7"/><rect x="64.9" y="204.0" width="0.5" height="0.5"/><rect x="90.4" y="204.5" width="0.7" height="0.7"/><rect x="57.3" y="203.6" width="0.5" height="0.5"/><rect x="76.7" y="193.3" width="0.5" height="0.5"/><rect x="81.8" y="202.0" width="0.7" height="0.7"/><rect x="72.4" y="195.9" width="0.7" height="0.7"/><rect x="65.3" y="206.2" width="1.0" height="1.0"/><rect x="58.9" y="194.9" width="0.5" height="0.5"/><rect x="74.6" y="200.8" width="0.8" height="0.8"/><rect x="74.6" y="190.9" width="0.5" height="0.5"/><rect x="72.5" y="189.2" width="0.5" height="0.5"/><rect x="86.2" y="196.0" width="0.7" height="0.7"/><rect x="64.1" y="201.4" width="0.5" height="0.5"/><rect x="66.9" y="197.2" width="0.8" height="0.8"/><rect x="85.6" y="201.9" width="0.5" height="0.5"/><rect x="91.4" y="201.9" width="0.8" height="0.8"/><rect x="66.8" y="191.3" width="0.5" height="0.5"/><rect x="68.5" y="182.3" width="0.5" height="0.5"/><rect x="70.6" y="207.1" width="0.9" height="0.9"/><rect x="74.7" y="184.0" width="0.5" height="0.5"/><rect x="62.3" y="203.5" width="0.7" height="0.7"/><rect x="88.6" y="194.8" width="0.9" height="0.9"/><rect x="61.3" y="184.2" width="0.7" height="0.7"/><rect x="76.8" y="187.1" width="0.6" height="0.6"/><rect x="86.0" y="192.1" width="0.9" height="0.9"/><rect x="90.5" y="184.9" width="0.4" height="0.4"/><rect x="64.8" y="198.0" width="0.6" height="0.6"/><rect x="88.2" y="194.4" width="0.5" height="0.5"/><rect x="92.4" y="196.5" width="0.5" height="0.5"/><rect x="69.3" y="199.1" width="0.9" height="0.9"/><rect x="75.9" y="199.5" width="0.5" height="0.5"/><rect x="71.7" y="184.0" width="0.7" height="0.7"/><rect x="61.2" y="186.8" width="0.7" height="0.7"/><rect x="80.0" y="199.5" width="0.8" height="0.8"/><rect x="74.0" y="183.0" width="0.8" height="0.8"/><rect x="58.2" y="194.6" width="0.6" height="0.6"/><rect x="83.6" y="201.7" width="0.6" height="0.6"/><rect x="82.6" y="201.1" width="0.7" height="0.7"/><rect x="80.6" y="182.8" width="0.6" height="0.6"/><rect x="72.1" y="203.9" width="0.9" height="0.9"/><rect x="82.0" y="202.5" width="0.5" height="0.5"/><rect x="88.9" y="182.1" width="0.5" height="0.5"/><rect x="65.0" y="200.5" width="0.9" height="0.9"/><rect x="82.2" y="207.7" width="0.6" height="0.6"/><rect x="87.0" y="184.0" width="0.9" height="0.9"/><rect x="85.1" y="186.4" width="0.9" height="0.9"/><rect x="62.7" y="195.9" width="0.5" height="0.5"/><rect x="90.9" y="197.1" width="0.9" height="0.9"/><rect x="76.6" y="199.0" width="0.7" height="0.7"/><rect x="88.8" y="183.3" width="0.5" height="0.5"/><rect x="78.4" y="189.4" width="0.6" height="0.6"/><rect x="89.3" y="194.3" width="0.5" height="0.5"/><rect x="82.7" y="187.0" width="0.7" height="0.7"/><rect x="78.4" y="191.2" width="0.5" height="0.5"/><rect x="85.9" y="205.6" width="0.9" height="0.9"/><rect x="60.2" y="191.7" width="0.6" height="0.6"/><rect x="87.3" y="185.3" width="0.8" height="0.8"/><rect x="60.7" y="201.1" width="0.8" height="0.8"/><rect x="77.3" y="194.2" width="0.7" height="0.7"/><rect x="81.1" y="199.8" width="0.9" height="0.9"/><rect x="86.0" y="204.1" width="0.9" height="0.9"/><rect x="90.3" y="201.8" width="0.5" height="0.5"/><rect x="83.9" y="205.6" width="0.7" height="0.7"/><rect x="92.0" y="186.2" width="0.9" height="0.9"/><rect x="74.1" y="201.5" width="0.6" height="0.6"/><rect x="68.3" y="191.1" width="0.6" height="0.6"/><rect x="59.9" y="193.8" width="1.0" height="1.0"/><rect x="82.8" y="208.0" width="0.8" height="0.8"/><rect x="86.9" y="189.0" width="0.6" height="0.6"/><rect x="93.8" y="190.5" width="0.8" height="0.8"/><rect x="88.6" y="196.4" width="0.5" height="0.5"/><rect x="89.8" y="190.1" width="0.8" height="0.8"/><rect x="71.1" y="196.6" width="0.9" height="0.9"/><rect x="62.6" y="196.4" width="0.8" height="0.8"/><rect x="78.1" y="208.2" width="0.7" height="0.7"/><rect x="93.5" y="201.0" width="0.9" height="0.9"/><rect x="59.7" y="187.2" width="0.6" height="0.6"/><rect x="66.7" y="201.8" width="1.0" height="1.0"/><rect x="63.2" y="193.7" width="0.8" height="0.8"/><rect x="84.3" y="202.6" width="0.8" height="0.8"/><rect x="66.2" y="188.5" width="0.5" height="0.5"/><rect x="84.3" y="187.1" width="0.6" height="0.6"/><rect x="80.2" y="200.0" width="0.8" height="0.8"/><rect x="84.5" y="189.8" width="0.5" height="0.5"/><rect x="70.8" y="185.1" width="0.5" height="0.5"/><rect x="84.2" y="188.9" width="0.8" height="0.8"/><rect x="63.3" y="183.9" width="0.6" height="0.6"/><rect x="72.8" y="201.0" width="0.7" height="0.7"/><rect x="85.9" y="183.8" width="0.9" height="0.9"/><rect x="70.0" y="205.1" width="0.5" height="0.5"/><rect x="90.0" y="187.6" width="0.9" height="0.9"/><rect x="88.9" y="200.5" width="0.6" height="0.6"/><rect x="93.1" y="185.6" width="0.8" height="0.8"/><rect x="80.1" y="200.2" width="0.5" height="0.5"/><rect x="61.9" y="183.8" width="1.0" height="1.0"/><rect x="71.7" y="199.9" width="0.7" height="0.7"/><rect x="65.2" y="182.9" width="0.4" height="0.4"/><rect x="91.0" y="184.8" width="0.9" height="0.9"/><rect x="70.9" y="202.0" width="0.5" height="0.5"/><rect x="88.3" y="188.3" width="0.6" height="0.6"/><rect x="77.4" y="184.2" width="0.6" height="0.6"/><rect x="88.6" y="189.3" width="0.6" height="0.6"/><rect x="87.4" y="187.5" width="0.5" height="0.5"/><rect x="65.0" y="192.1" width="0.6" height="0.6"/><rect x="82.3" y="194.7" width="0.9" height="0.9"/><rect x="58.1" y="200.2" width="0.9" height="0.9"/><rect x="74.0" y="184.4" width="0.7" height="0.7"/><rect x="85.2" y="183.7" width="0.5" height="0.5"/><rect x="75.7" y="186.0" width="0.6" height="0.6"/><rect x="74.1" y="184.4" width="0.5" height="0.5"/><rect x="70.8" y="194.6" width="0.9" height="0.9"/><rect x="78.7" y="183.1" width="0.6" height="0.6"/><rect x="86.5" y="197.3" width="0.9" height="0.9"/><rect x="95.5" y="205.9" width="0.5" height="0.5"/><rect x="94.7" y="196.2" width="0.6" height="0.6"/><rect x="64.7" y="183.4" width="0.6" height="0.6"/><rect x="93.9" y="194.4" width="0.8" height="0.8"/><rect x="59.1" y="194.1" width="0.6" height="0.6"/><rect x="64.4" y="200.2" width="0.6" height="0.6"/><rect x="75.7" y="186.2" width="0.4" height="0.4"/><rect x="82.8" y="195.9" width="0.5" height="0.5"/><rect x="75.3" y="202.5" width="0.7" height="0.7"/><rect x="65.6" y="195.5" width="0.8" height="0.8"/><rect x="82.7" y="185.2" width="0.9" height="0.9"/><rect x="94.8" y="202.5" width="0.9" height="0.9"/><rect x="71.1" y="207.2" width="0.5" height="0.5"/><rect x="65.3" y="198.3" width="0.9" height="0.9"/><rect x="59.4" y="187.3" width="0.5" height="0.5"/><rect x="74.0" y="185.1" width="0.5" height="0.5"/><rect x="86.7" y="197.9" width="0.9" height="0.9"/><rect x="72.5" y="200.7" width="0.4" height="0.4"/><rect x="75.6" y="195.8" width="0.9" height="0.9"/><rect x="81.5" y="187.3" width="0.9" height="0.9"/><rect x="74.7" y="187.6" width="0.9" height="0.9"/><rect x="69.2" y="192.8" width="0.6" height="0.6"/><rect x="71.3" y="185.7" width="0.9" height="0.9"/><rect x="66.6" y="194.2" width="0.7" height="0.7"/><rect x="85.2" y="185.0" width="0.6" height="0.6"/><rect x="62.1" y="185.0" width="0.7" height="0.7"/><rect x="79.8" y="206.7" width="0.5" height="0.5"/><rect x="65.6" y="185.9" width="0.7" height="0.7"/><rect x="74.5" y="192.9" width="0.9" height="0.9"/><rect x="83.1" y="205.9" width="0.9" height="0.9"/><rect x="72.7" y="182.5" width="0.9" height="0.9"/><rect x="67.9" y="189.4" width="0.9" height="0.9"/><rect x="91.7" y="193.2" width="0.7" height="0.7"/><rect x="90.8" y="204.4" width="0.8" height="0.8"/><rect x="77.0" y="184.4" width="0.6" height="0.6"/><rect x="83.0" y="198.0" width="0.9" height="0.9"/><rect x="63.9" y="183.2" width="0.9" height="0.9"/><rect x="79.4" y="186.3" width="0.8" height="0.8"/><rect x="66.5" y="187.9" width="0.6" height="0.6"/><rect x="77.5" y="200.6" width="0.5" height="0.5"/><rect x="86.4" y="199.1" width="0.7" height="0.7"/><rect x="83.6" y="204.2" width="0.4" height="0.4"/><rect x="75.5" y="200.7" width="0.8" height="0.8"/><rect x="82.5" y="186.2" width="0.9" height="0.9"/><rect x="88.2" y="187.8" width="0.7" height="0.7"/><rect x="92.9" y="187.7" width="0.8" height="0.8"/><rect x="70.7" y="200.2" width="0.8" height="0.8"/><rect x="61.2" y="187.5" width="0.6" height="0.6"/><rect x="66.9" y="182.0" width="0.5" height="0.5"/><rect x="72.7" y="193.2" width="0.5" height="0.5"/><rect x="79.9" y="208.3" width="0.7" height="0.7"/><rect x="70.6" y="201.4" width="0.7" height="0.7"/><rect x="63.2" y="195.0" width="0.4" height="0.4"/><rect x="83.7" y="185.7" width="0.6" height="0.6"/><rect x="95.5" y="203.2" width="0.9" height="0.9"/><rect x="82.3" y="199.4" width="0.8" height="0.8"/><rect x="87.4" y="189.7" width="0.6" height="0.6"/><rect x="89.7" y="198.4" width="0.9" height="0.9"/><rect x="91.9" y="198.1" width="0.5" height="0.5"/><rect x="85.8" y="188.9" width="0.5" height="0.5"/><rect x="65.4" y="188.7" width="0.8" height="0.8"/><rect x="69.7" y="196.1" width="0.6" height="0.6"/><rect x="73.1" y="194.9" width="0.6" height="0.6"/><rect x="58.3" y="183.4" width="0.5" height="0.5"/><rect x="59.7" y="199.1" width="0.8" height="0.8"/><rect x="66.8" y="204.0" width="0.8" height="0.8"/><rect x="70.0" y="195.3" width="0.5" height="0.5"/><rect x="94.1" y="197.3" width="0.5" height="0.5"/><rect x="62.3" y="201.1" width="0.6" height="0.6"/><rect x="85.4" y="187.7" width="0.9" height="0.9"/><rect x="88.9" y="183.7" width="0.7" height="0.7"/><rect x="63.8" y="201.5" width="0.9" height="0.9"/><rect x="88.4" y="187.7" width="0.5" height="0.5"/><rect x="83.2" y="197.4" width="0.5" height="0.5"/><rect x="63.9" y="197.9" width="0.5" height="0.5"/><rect x="82.0" y="188.0" width="0.6" height="0.6"/><rect x="73.4" y="196.5" width="0.8" height="0.8"/><rect x="57.3" y="202.0" width="0.6" height="0.6"/><rect x="67.9" y="199.6" width="0.8" height="0.8"/><rect x="81.2" y="207.2" width="0.5" height="0.5"/><rect x="68.8" y="200.2" width="0.6" height="0.6"/><rect x="62.5" y="187.6" width="0.8" height="0.8"/><rect x="89.9" y="201.8" width="0.9" height="0.9"/><rect x="88.6" y="190.0" width="0.6" height="0.6"/><rect x="85.6" y="182.6" width="0.8" height="0.8"/><rect x="59.7" y="182.4" width="0.7" height="0.7"/><rect x="92.0" y="194.4" width="0.5" height="0.5"/><rect x="60.9" y="195.7" width="0.7" height="0.7"/><rect x="70.9" y="201.8" width="0.7" height="0.7"/><rect x="87.8" y="184.1" width="0.5" height="0.5"/><rect x="71.9" y="195.0" width="0.6" height="0.6"/><rect x="83.4" y="187.4" width="0.6" height="0.6"/><rect x="75.6" y="201.7" width="0.8" height="0.8"/><rect x="71.2" y="194.0" width="0.9" height="0.9"/><rect x="94.3" y="198.9" width="0.5" height="0.5"/><rect x="74.7" y="199.5" width="0.6" height="0.6"/><rect x="93.3" y="184.7" width="0.7" height="0.7"/><rect x="81.4" y="189.7" width="0.5" height="0.5"/><rect x="86.8" y="203.4" width="0.7" height="0.7"/><rect x="59.5" y="192.4" width="0.5" height="0.5"/><rect x="67.8" y="203.3" width="0.5" height="0.5"/><rect x="60.4" y="183.0" width="0.5" height="0.5"/><rect x="77.8" y="205.2" width="0.5" height="0.5"/><rect x="63.1" y="203.2" width="0.7" height="0.7"/><rect x="69.9" y="184.6" width="0.6" height="0.6"/><rect x="66.6" y="202.5" width="0.9" height="0.9"/><rect x="93.1" y="194.7" width="0.9" height="0.9"/><rect x="80.8" y="189.4" width="0.7" height="0.7"/><rect x="85.4" y="202.3" width="0.5" height="0.5"/><rect x="60.4" y="204.6" width="0.6" height="0.6"/><rect x="66.2" y="188.4" width="0.7" height="0.7"/><rect x="91.0" y="190.3" width="0.5" height="0.5"/><rect x="86.5" y="190.9" width="0.5" height="0.5"/><rect x="73.2" y="204.8" width="0.9" height="0.9"/><rect x="87.3" y="198.6" width="0.9" height="0.9"/><rect x="90.8" y="204.7" width="0.6" height="0.6"/><rect x="71.0" y="191.9" width="0.6" height="0.6"/><rect x="71.5" y="184.2" width="0.6" height="0.6"/><rect x="93.3" y="192.9" width="0.8" height="0.8"/><rect x="92.4" y="202.9" width="0.6" height="0.6"/><rect x="93.7" y="204.3" width="1.0" height="1.0"/><rect x="85.9" y="202.9" width="0.9" height="0.9"/><rect x="66.4" y="200.0" width="0.6" height="0.6"/><rect x="90.4" y="184.9" width="0.7" height="0.7"/><rect x="69.8" y="204.8" width="0.6" height="0.6"/><rect x="90.6" y="205.6" width="0.9" height="0.9"/><rect x="86.5" y="200.6" width="0.8" height="0.8"/><rect x="78.5" y="194.2" width="0.6" height="0.6"/><rect x="88.1" y="203.7" width="0.9" height="0.9"/><rect x="64.8" y="190.9" width="0.6" height="0.6"/><rect x="60.1" y="190.5" width="0.5" height="0.5"/><rect x="88.7" y="187.6" width="0.5" height="0.5"/><rect x="58.8" y="202.5" width="0.5" height="0.5"/><rect x="74.9" y="192.7" width="0.9" height="0.9"/><rect x="81.9" y="206.9" width="0.7" height="0.7"/><rect x="92.9" y="202.3" width="0.6" height="0.6"/><rect x="91.8" y="197.6" width="0.5" height="0.5"/><rect x="80.1" y="205.0" width="0.7" height="0.7"/><rect x="75.8" y="193.1" width="0.9" height="0.9"/><rect x="83.3" y="187.0" width="0.6" height="0.6"/><rect x="84.5" y="184.6" width="0.9" height="0.9"/><rect x="57.4" y="198.1" width="0.7" height="0.7"/><rect x="85.4" y="193.5" width="0.5" height="0.5"/><rect x="77.5" y="204.8" width="0.9" height="0.9"/><rect x="70.6" y="187.4" width="0.8" height="0.8"/><rect x="88.9" y="187.4" width="0.9" height="0.9"/><rect x="71.6" y="201.6" width="0.9" height="0.9"/><rect x="64.3" y="189.8" width="0.6" height="0.6"/><rect x="86.0" y="186.4" width="0.7" height="0.7"/><rect x="76.5" y="200.4" width="0.5" height="0.5"/><rect x="79.0" y="204.1" width="0.5" height="0.5"/><rect x="93.3" y="197.0" width="0.8" height="0.8"/><rect x="91.6" y="191.5" width="0.9" height="0.9"/><rect x="76.6" y="207.1" width="0.9" height="0.9"/><rect x="94.2" y="197.2" width="0.5" height="0.5"/><rect x="81.9" y="204.3" width="0.7" height="0.7"/><rect x="80.7" y="188.5" width="0.6" height="0.6"/><rect x="73.2" y="195.9" width="0.7" height="0.7"/><rect x="69.9" y="201.8" width="0.8" height="0.8"/><rect x="65.7" y="188.4" width="0.7" height="0.7"/><rect x="63.2" y="198.5" width="0.9" height="0.9"/><rect x="64.3" y="198.0" width="0.8" height="0.8"/><rect x="86.7" y="201.7" width="0.8" height="0.8"/><rect x="67.2" y="205.3" width="0.9" height="0.9"/><rect x="74.1" y="183.5" width="0.5" height="0.5"/><rect x="88.7" y="200.7" width="0.5" height="0.5"/><rect x="74.9" y="199.5" width="1.0" height="1.0"/><rect x="69.8" y="203.2" width="0.6" height="0.6"/><rect x="64.2" y="185.7" width="0.7" height="0.7"/><rect x="81.3" y="189.8" width="0.5" height="0.5"/><rect x="65.0" y="183.5" width="0.5" height="0.5"/><rect x="68.9" y="195.6" width="0.5" height="0.5"/><rect x="75.7" y="193.8" width="0.9" height="0.9"/></g>
<g fill="#1a1a1a" opacity="0.55"><rect x="74.0" y="189.6" width="0.8" height="0.8"/><rect x="62.2" y="188.9" width="0.5" height="0.5"/><rect x="71.5" y="193.1" width="0.7" height="0.7"/><rect x="69.7" y="200.9" width="0.7" height="0.7"/><rect x="87.6" y="201.8" width="0.6" height="0.6"/><rect x="71.5" y="194.9" width="0.6" height="0.6"/><rect x="77.0" y="200.2" width="0.9" height="0.9"/><rect x="70.2" y="204.6" width="0.9" height="0.9"/><rect x="78.2" y="200.6" width="0.6" height="0.6"/><rect x="71.5" y="189.2" width="0.5" height="0.5"/><rect x="89.3" y="203.4" width="0.5" height="0.5"/><rect x="68.6" y="196.0" width="0.7" height="0.7"/><rect x="70.1" y="205.6" width="0.6" height="0.6"/><rect x="76.2" y="206.4" width="0.8" height="0.8"/><rect x="74.2" y="192.7" width="0.7" height="0.7"/><rect x="78.9" y="203.1" width="0.6" height="0.6"/><rect x="70.3" y="193.9" width="0.6" height="0.6"/><rect x="89.9" y="197.4" width="0.6" height="0.6"/><rect x="69.0" y="203.9" width="0.5" height="0.5"/><rect x="64.0" y="186.4" width="0.9" height="0.9"/><rect x="62.3" y="190.2" width="0.5" height="0.5"/><rect x="66.5" y="201.9" width="0.8" height="0.8"/><rect x="76.8" y="206.2" width="0.5" height="0.5"/><rect x="63.9" y="202.2" width="0.9" height="0.9"/><rect x="70.9" y="187.1" width="0.9" height="0.9"/><rect x="84.1" y="198.7" width="1.0" height="1.0"/><rect x="58.4" y="186.3" width="0.5" height="0.5"/><rect x="79.7" y="187.6" width="0.5" height="0.5"/><rect x="63.5" y="199.0" width="0.8" height="0.8"/><rect x="71.1" y="190.8" width="0.6" height="0.6"/><rect x="82.4" y="189.0" width="0.5" height="0.5"/><rect x="62.5" y="193.1" width="0.9" height="0.9"/><rect x="59.1" y="197.2" width="0.8" height="0.8"/><rect x="58.2" y="195.1" width="0.9" height="0.9"/><rect x="77.7" y="195.4" width="0.9" height="0.9"/><rect x="78.6" y="192.8" width="0.7" height="0.7"/><rect x="91.0" y="204.8" width="1.0" height="1.0"/><rect x="77.2" y="188.3" width="0.5" height="0.5"/><rect x="70.8" y="200.9" width="0.4" height="0.4"/><rect x="85.9" y="203.1" width="0.7" height="0.7"/><rect x="71.9" y="200.4" width="0.8" height="0.8"/><rect x="83.2" y="194.4" width="1.0" height="1.0"/><rect x="79.1" y="192.3" width="0.7" height="0.7"/><rect x="66.7" y="205.8" width="0.9" height="0.9"/><rect x="85.4" y="203.9" width="1.0" height="1.0"/><rect x="81.8" y="192.3" width="0.9" height="0.9"/><rect x="66.4" y="199.1" width="0.5" height="0.5"/><rect x="87.9" y="196.2" width="0.6" height="0.6"/><rect x="90.5" y="202.4" width="0.5" height="0.5"/><rect x="84.4" y="198.2" width="0.9" height="0.9"/><rect x="78.1" y="194.8" width="1.0" height="1.0"/><rect x="60.1" y="202.9" width="0.5" height="0.5"/><rect x="67.0" y="187.6" width="0.9" height="0.9"/><rect x="72.9" y="201.7" width="0.6" height="0.6"/><rect x="83.3" y="199.9" width="0.5" height="0.5"/><rect x="74.8" y="201.6" width="0.6" height="0.6"/><rect x="80.6" y="191.4" width="0.6" height="0.6"/><rect x="77.6" y="203.6" width="0.9" height="0.9"/><rect x="73.4" y="204.9" width="0.7" height="0.7"/><rect x="61.3" y="202.2" width="0.5" height="0.5"/><rect x="81.5" y="186.2" width="1.0" height="1.0"/><rect x="76.5" y="202.0" width="0.5" height="0.5"/><rect x="79.9" y="193.7" width="0.6" height="0.6"/><rect x="74.2" y="187.0" width="0.9" height="0.9"/><rect x="73.7" y="195.8" width="0.8" height="0.8"/><rect x="83.2" y="192.9" width="1.0" height="1.0"/><rect x="63.7" y="188.1" width="0.9" height="0.9"/><rect x="61.3" y="189.3" width="0.7" height="0.7"/><rect x="69.1" y="188.8" width="1.0" height="1.0"/><rect x="74.1" y="203.1" width="0.6" height="0.6"/><rect x="89.6" y="199.1" width="1.0" height="1.0"/><rect x="84.8" y="199.5" width="0.7" height="0.7"/><rect x="87.8" y="195.2" width="0.5" height="0.5"/><rect x="89.9" y="203.5" width="0.8" height="0.8"/><rect x="83.8" y="190.3" width="0.7" height="0.7"/><rect x="81.6" y="197.7" width="0.7" height="0.7"/><rect x="63.0" y="188.2" width="0.7" height="0.7"/><rect x="74.8" y="191.2" width="0.6" height="0.6"/><rect x="76.9" y="202.5" width="0.8" height="0.8"/><rect x="70.9" y="197.6" width="0.6" height="0.6"/><rect x="58.0" y="189.7" width="0.5" height="0.5"/><rect x="67.2" y="199.5" width="0.8" height="0.8"/><rect x="70.0" y="206.8" width="0.8" height="0.8"/><rect x="76.6" y="204.8" width="0.8" height="0.8"/><rect x="70.0" y="198.9" width="0.6" height="0.6"/><rect x="64.4" y="196.7" width="0.5" height="0.5"/><rect x="87.1" y="200.4" width="0.8" height="0.8"/><rect x="81.4" y="201.4" width="0.4" height="0.4"/><rect x="58.8" y="194.8" width="1.0" height="1.0"/><rect x="68.3" y="198.1" width="0.4" height="0.4"/><rect x="72.0" y="205.8" width="0.8" height="0.8"/><rect x="64.3" y="189.1" width="0.9" height="0.9"/><rect x="66.6" y="205.3" width="0.7" height="0.7"/><rect x="71.6" y="201.0" width="0.5" height="0.5"/><rect x="61.0" y="202.2" width="0.6" height="0.6"/><rect x="62.3" y="193.4" width="0.8" height="0.8"/><rect x="80.5" y="188.7" width="0.8" height="0.8"/><rect x="76.8" y="193.3" width="0.9" height="0.9"/><rect x="66.2" y="188.3" width="0.5" height="0.5"/><rect x="62.4" y="198.5" width="0.9" height="0.9"/><rect x="62.8" y="196.6" width="0.8" height="0.8"/><rect x="77.2" y="194.5" width="0.7" height="0.7"/><rect x="72.2" y="190.4" width="0.9" height="0.9"/><rect x="65.7" y="204.0" width="0.6" height="0.6"/><rect x="60.3" y="196.0" width="0.7" height="0.7"/><rect x="69.1" y="202.6" width="0.6" height="0.6"/><rect x="81.1" y="204.2" width="0.7" height="0.7"/><rect x="75.1" y="206.2" width="0.8" height="0.8"/><rect x="63.5" y="186.6" width="0.5" height="0.5"/><rect x="68.9" y="187.0" width="0.8" height="0.8"/><rect x="72.2" y="192.1" width="0.7" height="0.7"/><rect x="62.6" y="192.0" width="0.6" height="0.6"/><rect x="89.8" y="201.2" width="0.7" height="0.7"/><rect x="63.0" y="186.0" width="0.5" height="0.5"/><rect x="87.5" y="199.9" width="0.5" height="0.5"/><rect x="79.5" y="186.3" width="0.7" height="0.7"/><rect x="69.1" y="187.4" width="0.9" height="0.9"/><rect x="82.8" y="196.7" width="0.5" height="0.5"/><rect x="81.1" y="195.0" width="0.8" height="0.8"/><rect x="71.3" y="189.6" width="0.5" height="0.5"/><rect x="69.1" y="191.1" width="0.8" height="0.8"/><rect x="65.0" y="194.2" width="0.8" height="0.8"/><rect x="72.5" y="188.6" width="0.5" height="0.5"/><rect x="75.1" y="196.2" width="0.5" height="0.5"/><rect x="81.1" y="196.4" width="0.9" height="0.9"/><rect x="86.3" y="195.9" width="0.5" height="0.5"/><rect x="74.4" y="187.9" width="0.8" height="0.8"/><rect x="82.1" y="198.3" width="1.0" height="1.0"/><rect x="58.6" y="201.5" width="0.9" height="0.9"/><rect x="61.1" y="192.4" width="0.5" height="0.5"/><rect x="78.0" y="201.6" width="0.6" height="0.6"/><rect x="82.0" y="193.4" width="0.8" height="0.8"/><rect x="60.3" y="201.7" width="0.9" height="0.9"/><rect x="79.9" y="188.6" width="0.9" height="0.9"/><rect x="82.8" y="187.6" width="0.7" height="0.7"/><rect x="58.5" y="193.1" width="0.9" height="0.9"/><rect x="89.7" y="203.1" width="0.9" height="0.9"/><rect x="77.4" y="189.5" width="0.7" height="0.7"/><rect x="74.4" y="192.8" width="0.6" height="0.6"/><rect x="75.4" y="198.5" width="0.6" height="0.6"/><rect x="67.0" y="196.6" width="0.7" height="0.7"/><rect x="72.1" y="200.3" width="0.5" height="0.5"/><rect x="76.1" y="191.3" width="0.9" height="0.9"/><rect x="82.3" y="203.0" width="0.7" height="0.7"/><rect x="75.4" y="193.6" width="0.6" height="0.6"/><rect x="71.5" y="201.3" width="0.9" height="0.9"/><rect x="74.4" y="201.8" width="0.6" height="0.6"/><rect x="73.3" y="193.2" width="0.6" height="0.6"/><rect x="69.9" y="202.4" width="0.9" height="0.9"/><rect x="64.5" y="190.4" width="0.9" height="0.9"/><rect x="80.6" y="200.6" width="0.8" height="0.8"/><rect x="82.0" y="191.3" width="0.5" height="0.5"/><rect x="86.0" y="190.3" width="0.6" height="0.6"/><rect x="60.9" y="203.3" width="0.9" height="0.9"/><rect x="74.6" y="193.5" width="0.6" height="0.6"/><rect x="74.5" y="201.4" width="0.9" height="0.9"/><rect x="87.6" y="205.0" width="0.7" height="0.7"/><rect x="72.2" y="192.2" width="1.0" height="1.0"/><rect x="63.6" y="188.6" width="0.6" height="0.6"/><rect x="90.2" y="204.6" width="0.6" height="0.6"/><rect x="72.4" y="189.4" width="0.9" height="0.9"/><rect x="70.5" y="187.7" width="0.9" height="0.9"/><rect x="72.8" y="194.1" width="0.8" height="0.8"/><rect x="71.0" y="193.7" width="0.4" height="0.4"/><rect x="70.4" y="202.5" width="0.6" height="0.6"/><rect x="81.5" y="199.4" width="0.5" height="0.5"/><rect x="79.0" y="191.8" width="0.6" height="0.6"/><rect x="65.4" y="198.5" width="0.8" height="0.8"/><rect x="68.7" y="199.8" width="0.8" height="0.8"/><rect x="75.4" y="187.8" width="0.6" height="0.6"/><rect x="68.2" y="194.6" width="0.6" height="0.6"/><rect x="87.8" y="190.6" width="0.8" height="0.8"/><rect x="85.7" y="203.6" width="0.6" height="0.6"/><rect x="84.9" y="196.0" width="1.0" height="1.0"/><rect x="59.0" y="193.7" width="0.6" height="0.6"/><rect x="79.5" y="202.9" width="0.9" height="0.9"/><rect x="76.7" y="193.9" width="0.9" height="0.9"/><rect x="60.8" y="191.0" width="0.9" height="0.9"/><rect x="60.3" y="195.6" width="0.6" height="0.6"/><rect x="60.3" y="193.5" width="0.7" height="0.7"/><rect x="75.3" y="191.7" width="0.8" height="0.8"/><rect x="63.1" y="196.7" width="0.7" height="0.7"/><rect x="70.4" y="204.8" width="0.6" height="0.6"/><rect x="88.6" y="193.2" width="0.6" height="0.6"/><rect x="79.1" y="198.0" width="0.6" height="0.6"/><rect x="70.3" y="187.6" width="0.8" height="0.8"/><rect x="76.2" y="192.5" width="0.6" height="0.6"/><rect x="87.4" y="192.8" width="0.7" height="0.7"/><rect x="71.5" y="188.7" width="0.8" height="0.8"/><rect x="80.9" y="195.3" width="0.7" height="0.7"/><rect x="65.4" y="203.2" width="0.7" height="0.7"/><rect x="86.9" y="193.6" width="0.9" height="0.9"/><rect x="58.0" y="190.1" width="1.0" height="1.0"/><rect x="81.6" y="200.5" width="0.7" height="0.7"/><rect x="74.0" y="189.5" width="0.5" height="0.5"/><rect x="80.2" y="201.0" width="0.6" height="0.6"/><rect x="80.2" y="188.1" width="0.8" height="0.8"/><rect x="63.2" y="196.7" width="0.6" height="0.6"/><rect x="76.8" y="188.1" width="0.7" height="0.7"/><rect x="79.2" y="188.1" width="0.6" height="0.6"/><rect x="81.4" y="197.6" width="0.8" height="0.8"/><rect x="85.1" y="198.1" width="0.6" height="0.6"/><rect x="72.9" y="204.1" width="0.8" height="0.8"/><rect x="84.1" y="193.4" width="0.7" height="0.7"/><rect x="80.5" y="187.4" width="0.8" height="0.8"/><rect x="66.6" y="204.5" width="0.5" height="0.5"/><rect x="86.8" y="197.0" width="0.4" height="0.4"/><rect x="89.0" y="195.1" width="0.9" height="0.9"/><rect x="81.8" y="197.3" width="0.9" height="0.9"/><rect x="69.1" y="186.5" width="0.5" height="0.5"/><rect x="79.5" y="187.8" width="0.5" height="0.5"/><rect x="67.5" y="191.4" width="1.0" height="1.0"/><rect x="89.6" y="205.0" width="1.0" height="1.0"/><rect x="72.8" y="203.3" width="0.6" height="0.6"/><rect x="90.4" y="203.6" width="0.9" height="0.9"/><rect x="65.2" y="187.1" width="1.0" height="1.0"/><rect x="76.9" y="199.1" width="0.9" height="0.9"/><rect x="62.2" y="201.1" width="0.7" height="0.7"/><rect x="85.3" y="195.5" width="0.6" height="0.6"/><rect x="83.8" y="204.1" width="0.6" height="0.6"/><rect x="82.0" y="194.1" width="0.6" height="0.6"/><rect x="70.3" y="196.7" width="0.7" height="0.7"/><rect x="83.8" y="205.1" width="0.6" height="0.6"/><rect x="64.6" y="193.0" width="0.9" height="0.9"/><rect x="80.7" y="194.3" width="0.7" height="0.7"/><rect x="74.0" y="196.7" width="0.9" height="0.9"/><rect x="64.1" y="201.6" width="0.6" height="0.6"/><rect x="86.2" y="187.2" width="0.6" height="0.6"/><rect x="79.9" y="196.1" width="0.7" height="0.7"/><rect x="77.8" y="190.0" width="0.7" height="0.7"/><rect x="66.1" y="204.1" width="0.7" height="0.7"/><rect x="78.7" y="199.4" width="0.5" height="0.5"/><rect x="85.0" y="191.7" width="0.9" height="0.9"/><rect x="85.3" y="200.6" width="0.9" height="0.9"/><rect x="72.7" y="200.5" width="1.0" height="1.0"/><rect x="63.8" y="187.3" width="0.7" height="0.7"/><rect x="75.3" y="188.4" width="0.6" height="0.6"/><rect x="88.2" y="193.9" width="0.5" height="0.5"/><rect x="63.6" y="198.3" width="0.5" height="0.5"/><rect x="74.1" y="197.4" width="0.7" height="0.7"/><rect x="75.1" y="204.2" width="0.4" height="0.4"/><rect x="58.4" y="202.7" width="0.8" height="0.8"/><rect x="76.4" y="190.0" width="0.9" height="0.9"/><rect x="68.0" y="201.7" width="0.6" height="0.6"/><rect x="77.6" y="199.9" width="0.6" height="0.6"/><rect x="74.3" y="186.5" width="0.8" height="0.8"/><rect x="81.9" y="188.5" width="0.7" height="0.7"/><rect x="83.4" y="187.3" width="0.9" height="0.9"/><rect x="65.9" y="186.9" width="0.6" height="0.6"/><rect x="60.1" y="196.3" width="0.6" height="0.6"/><rect x="67.8" y="195.6" width="0.6" height="0.6"/><rect x="85.4" y="201.6" width="0.5" height="0.5"/><rect x="68.9" y="187.5" width="0.8" height="0.8"/><rect x="84.2" y="194.5" width="1.0" height="1.0"/><rect x="71.1" y="192.2" width="0.5" height="0.5"/><rect x="72.9" y="195.1" width="0.9" height="0.9"/><rect x="86.9" y="195.9" width="0.5" height="0.5"/><rect x="71.6" y="205.5" width="0.7" height="0.7"/><rect x="80.8" y="197.9" width="0.7" height="0.7"/><rect x="77.7" y="190.6" width="0.8" height="0.8"/><rect x="88.1" y="186.8" width="0.6" height="0.6"/><rect x="79.8" y="204.4" width="0.7" height="0.7"/><rect x="61.7" y="191.9" width="0.8" height="0.8"/><rect x="83.2" y="189.7" width="0.8" height="0.8"/><rect x="80.6" y="200.1" width="0.5" height="0.5"/><rect x="72.9" y="192.5" width="0.8" height="0.8"/><rect x="69.1" y="187.9" width="0.8" height="0.8"/><rect x="67.3" y="203.2" width="0.6" height="0.6"/><rect x="76.7" y="203.6" width="0.5" height="0.5"/><rect x="83.3" y="186.6" width="1.0" height="1.0"/><rect x="70.3" y="189.1" width="0.7" height="0.7"/><rect x="75.0" y="194.5" width="0.5" height="0.5"/><rect x="75.8" y="191.9" width="1.0" height="1.0"/><rect x="70.8" y="195.0" width="0.6" height="0.6"/><rect x="80.3" y="204.1" width="0.7" height="0.7"/><rect x="84.2" y="191.4" width="0.5" height="0.5"/><rect x="58.5" y="195.3" width="0.9" height="0.9"/><rect x="64.3" y="195.1" width="0.9" height="0.9"/><rect x="66.9" y="188.5" width="0.7" height="0.7"/><rect x="72.3" y="206.6" width="0.9" height="0.9"/><rect x="65.6" y="197.9" width="0.7" height="0.7"/><rect x="58.2" y="195.2" width="1.0" height="1.0"/><rect x="67.9" y="198.5" width="0.8" height="0.8"/><rect x="60.9" y="191.9" width="0.8" height="0.8"/><rect x="61.6" y="195.9" width="0.4" height="0.4"/><rect x="62.4" y="190.1" width="0.5" height="0.5"/><rect x="60.3" y="189.5" width="0.7" height="0.7"/><rect x="61.9" y="203.9" width="0.7" height="0.7"/><rect x="66.1" y="190.5" width="0.9" height="0.9"/><rect x="58.7" y="202.1" width="0.5" height="0.5"/><rect x="78.5" y="204.9" width="0.5" height="0.5"/><rect x="59.3" y="201.0" width="0.8" height="0.8"/><rect x="83.0" y="191.4" width="0.7" height="0.7"/><rect x="63.7" y="195.1" width="0.6" height="0.6"/><rect x="78.1" y="191.9" width="0.6" height="0.6"/><rect x="80.1" y="187.0" width="0.9" height="0.9"/><rect x="74.8" y="190.3" width="0.5" height="0.5"/><rect x="75.3" y="196.6" width="0.8" height="0.8"/><rect x="70.5" y="194.5" width="0.9" height="0.9"/><rect x="86.3" y="199.1" width="0.6" height="0.6"/><rect x="86.1" y="197.8" width="0.5" height="0.5"/><rect x="88.1" y="189.0" width="0.6" height="0.6"/><rect x="79.2" y="189.5" width="0.7" height="0.7"/><rect x="82.7" y="187.2" width="0.8" height="0.8"/><rect x="60.8" y="195.9" width="0.8" height="0.8"/><rect x="71.1" y="194.8" width="0.6" height="0.6"/><rect x="82.1" y="202.0" width="0.8" height="0.8"/><rect x="71.5" y="198.1" width="0.7" height="0.7"/><rect x="87.2" y="190.5" width="0.9" height="0.9"/><rect x="87.0" y="205.2" width="0.6" height="0.6"/><rect x="85.3" y="195.9" width="0.6" height="0.6"/><rect x="70.3" y="203.4" width="0.9" height="0.9"/><rect x="87.4" y="200.4" width="0.5" height="0.5"/><rect x="62.6" y="198.1" width="0.6" height="0.6"/><rect x="69.1" y="187.4" width="0.5" height="0.5"/><rect x="82.8" y="190.1" width="0.9" height="0.9"/><rect x="68.8" y="204.5" width="0.6" height="0.6"/><rect x="66.6" y="194.1" width="0.4" height="0.4"/><rect x="72.7" y="193.7" width="0.4" height="0.4"/><rect x="88.0" y="193.6" width="0.4" height="0.4"/><rect x="60.6" y="201.3" width="0.8" height="0.8"/><rect x="75.1" y="190.7" width="0.6" height="0.6"/><rect x="86.1" y="201.0" width="0.7" height="0.7"/><rect x="86.3" y="188.6" width="0.7" height="0.7"/><rect x="66.6" y="194.2" width="0.5" height="0.5"/><rect x="82.5" y="198.2" width="0.9" height="0.9"/><rect x="79.6" y="198.8" width="1.0" height="1.0"/><rect x="86.2" y="198.0" width="0.6" height="0.6"/><rect x="60.7" y="192.7" width="0.8" height="0.8"/><rect x="90.5" y="199.9" width="0.8" height="0.8"/><rect x="90.7" y="202.9" width="0.7" height="0.7"/><rect x="73.6" y="202.5" width="0.6" height="0.6"/><rect x="61.0" y="199.3" width="0.9" height="0.9"/><rect x="65.9" y="200.7" width="0.9" height="0.9"/><rect x="61.6" y="188.1" width="0.7" height="0.7"/><rect x="85.6" y="199.5" width="0.5" height="0.5"/><rect x="59.7" y="195.4" width="0.4" height="0.4"/><rect x="74.3" y="194.5" width="1.0" height="1.0"/><rect x="71.9" y="204.5" width="0.9" height="0.9"/><rect x="78.1" y="190.5" width="0.6" height="0.6"/><rect x="74.7" y="194.1" width="0.8" height="0.8"/><rect x="75.2" y="192.4" width="0.8" height="0.8"/><rect x="60.4" y="186.3" width="0.7" height="0.7"/><rect x="87.1" y="201.0" width="1.0" height="1.0"/><rect x="87.1" y="198.5" width="0.8" height="0.8"/><rect x="66.4" y="199.3" width="0.5" height="0.5"/><rect x="76.5" y="193.6" width="0.7" height="0.7"/><rect x="71.6" y="187.4" width="0.8" height="0.8"/><rect x="85.8" y="198.8" width="0.5" height="0.5"/><rect x="78.6" y="205.0" width="1.0" height="1.0"/><rect x="84.3" y="186.1" width="0.9" height="0.9"/><rect x="80.9" y="191.4" width="1.0" height="1.0"/><rect x="65.9" y="198.3" width="0.7" height="0.7"/><rect x="67.7" y="202.5" width="0.8" height="0.8"/><rect x="68.9" y="197.5" width="1.0" height="1.0"/><rect x="77.4" y="206.0" width="0.8" height="0.8"/><rect x="73.6" y="197.7" width="0.8" height="0.8"/><rect x="74.2" y="199.6" width="0.7" height="0.7"/><rect x="80.3" y="203.4" width="0.6" height="0.6"/><rect x="70.7" y="190.2" width="0.8" height="0.8"/><rect x="76.0" y="198.9" width="0.6" height="0.6"/><rect x="65.9" y="196.9" width="0.7" height="0.7"/><rect x="69.5" y="203.5" width="0.5" height="0.5"/><rect x="77.1" y="202.8" width="1.0" height="1.0"/><rect x="74.8" y="206.5" width="0.5" height="0.5"/><rect x="87.3" y="194.1" width="0.7" height="0.7"/><rect x="68.9" y="188.6" width="0.5" height="0.5"/><rect x="67.9" y="201.1" width="0.8" height="0.8"/><rect x="61.4" y="203.4" width="0.7" height="0.7"/><rect x="62.2" y="203.9" width="0.9" height="0.9"/><rect x="86.2" y="190.3" width="0.4" height="0.4"/><rect x="88.2" y="204.0" width="0.5" height="0.5"/><rect x="84.6" y="202.8" width="0.8" height="0.8"/><rect x="68.8" y="204.2" width="1.0" height="1.0"/><rect x="68.3" y="200.7" width="0.8" height="0.8"/><rect x="87.6" y="198.0" width="0.6" height="0.6"/><rect x="66.1" y="197.5" width="0.5" height="0.5"/><rect x="65.7" y="201.0" width="0.8" height="0.8"/><rect x="61.4" y="202.9" width="0.9" height="0.9"/><rect x="68.0" y="187.3" width="0.6" height="0.6"/><rect x="84.8" y="195.7" width="0.9" height="0.9"/><rect x="62.7" y="187.4" width="0.6" height="0.6"/><rect x="59.6" y="202.3" width="0.5" height="0.5"/><rect x="81.0" y="186.9" width="0.6" height="0.6"/><rect x="80.9" y="205.1" width="0.7" height="0.7"/><rect x="69.3" y="190.6" width="0.9" height="0.9"/><rect x="82.7" y="203.0" width="0.7" height="0.7"/><rect x="82.2" y="187.9" width="0.7" height="0.7"/><rect x="67.5" y="191.5" width="0.9" height="0.9"/><rect x="64.7" y="192.5" width="0.6" height="0.6"/><rect x="88.1" y="199.7" width="0.7" height="0.7"/><rect x="70.7" y="206.2" width="1.0" height="1.0"/><rect x="73.2" y="198.0" width="0.9" height="0.9"/><rect x="66.2" y="190.9" width="0.5" height="0.5"/><rect x="75.1" y="202.7" width="0.5" height="0.5"/><rect x="74.3" y="193.8" width="0.9" height="0.9"/><rect x="89.1" y="193.7" width="0.5" height="0.5"/><rect x="79.9" y="202.0" width="1.0" height="1.0"/><rect x="80.8" y="192.1" width="0.7" height="0.7"/><rect x="67.4" y="195.3" width="0.7" height="0.7"/></g>
<g fill="#2a2a2a" opacity="0.6"><rect x="96.9" y="221.7" width="0.9" height="0.9"/><rect x="63.8" y="238.1" width="0.7" height="0.7"/><rect x="94.6" y="219.3" width="0.9" height="0.9"/><rect x="92.4" y="217.8" width="0.8" height="0.8"/><rect x="67.0" y="231.8" width="0.6" height="0.6"/><rect x="91.6" y="231.0" width="0.4" height="0.4"/><rect x="82.2" y="236.9" width="0.9" height="0.9"/><rect x="97.4" y="225.9" width="0.7" height="0.7"/><rect x="72.5" y="233.0" width="0.8" height="0.8"/><rect x="67.9" y="232.9" width="0.6" height="0.6"/><rect x="86.0" y="229.5" width="0.6" height="0.6"/><rect x="81.2" y="228.2" width="0.5" height="0.5"/><rect x="92.3" y="220.8" width="0.8" height="0.8"/><rect x="72.6" y="233.9" width="0.7" height="0.7"/><rect x="80.4" y="227.6" width="0.5" height="0.5"/><rect x="76.7" y="236.1" width="0.8" height="0.8"/><rect x="88.2" y="215.2" width="0.5" height="0.5"/><rect x="87.6" y="215.1" width="0.8" height="0.8"/><rect x="72.7" y="232.1" width="0.7" height="0.7"/><rect x="74.3" y="232.5" width="0.6" height="0.6"/><rect x="66.7" y="233.0" width="0.7" height="0.7"/><rect x="89.7" y="222.1" width="0.4" height="0.4"/><rect x="90.4" y="212.1" width="0.6" height="0.6"/><rect x="86.0" y="232.3" width="0.7" height="0.7"/><rect x="76.6" y="231.1" width="0.7" height="0.7"/><rect x="83.1" y="231.0" width="0.5" height="0.5"/><rect x="88.6" y="225.4" width="0.5" height="0.5"/><rect x="88.7" y="208.3" width="0.8" height="0.8"/><rect x="69.3" y="236.7" width="0.9" height="0.9"/><rect x="69.9" y="231.7" width="0.7" height="0.7"/><rect x="76.1" y="237.2" width="0.4" height="0.4"/><rect x="93.1" y="215.4" width="0.4" height="0.4"/><rect x="95.8" y="214.1" width="0.5" height="0.5"/><rect x="80.1" y="232.6" width="0.8" height="0.8"/><rect x="72.4" y="238.0" width="0.8" height="0.8"/><rect x="95.2" y="226.5" width="0.4" height="0.4"/><rect x="93.0" y="217.0" width="0.6" height="0.6"/><rect x="65.3" y="233.4" width="0.4" height="0.4"/><rect x="84.2" y="235.9" width="0.5" height="0.5"/><rect x="67.1" y="232.3" width="0.6" height="0.6"/><rect x="97.2" y="216.5" width="0.6" height="0.6"/><rect x="98.2" y="216.7" width="0.9" height="0.9"/><rect x="95.4" y="211.4" width="0.7" height="0.7"/><rect x="97.5" y="208.3" width="0.8" height="0.8"/><rect x="90.5" y="231.7" width="0.7" height="0.7"/><rect x="62.2" y="239.5" width="0.5" height="0.5"/><rect x="90.9" y="230.8" width="0.6" height="0.6"/><rect x="86.8" y="219.2" width="0.8" height="0.8"/><rect x="74.1" y="233.7" width="0.6" height="0.6"/><rect x="92.1" y="215.1" width="0.7" height="0.7"/><rect x="61.3" y="235.8" width="0.7" height="0.7"/><rect x="88.6" y="226.4" width="0.4" height="0.4"/><rect x="96.8" y="220.2" width="0.7" height="0.7"/><rect x="92.2" y="214.2" width="0.4" height="0.4"/><rect x="96.8" y="214.0" width="0.4" height="0.4"/><rect x="89.1" y="211.8" width="0.5" height="0.5"/><rect x="95.7" y="228.6" width="0.7" height="0.7"/><rect x="87.2" y="222.2" width="0.6" height="0.6"/><rect x="91.7" y="208.9" width="0.8" height="0.8"/><rect x="85.2" y="225.1" width="0.8" height="0.8"/><rect x="96.7" y="221.9" width="0.8" height="0.8"/><rect x="87.3" y="231.0" width="0.8" height="0.8"/><rect x="70.7" y="231.0" width="0.5" height="0.5"/><rect x="81.3" y="226.0" width="0.8" height="0.8"/><rect x="92.6" y="233.8" width="0.9" height="0.9"/><rect x="89.3" y="228.0" width="0.8" height="0.8"/><rect x="96.7" y="228.0" width="0.7" height="0.7"/><rect x="89.8" y="225.2" width="0.5" height="0.5"/><rect x="98.8" y="207.3" width="0.4" height="0.4"/><rect x="88.3" y="218.6" width="0.6" height="0.6"/><rect x="87.3" y="233.5" width="0.6" height="0.6"/><rect x="94.0" y="208.2" width="0.7" height="0.7"/><rect x="68.5" y="238.4" width="0.8" height="0.8"/><rect x="92.2" y="210.7" width="0.8" height="0.8"/><rect x="98.0" y="216.1" width="0.7" height="0.7"/><rect x="84.2" y="227.6" width="0.6" height="0.6"/><rect x="95.8" y="223.1" width="0.5" height="0.5"/><rect x="90.9" y="209.8" width="0.5" height="0.5"/><rect x="76.4" y="237.6" width="0.5" height="0.5"/><rect x="74.6" y="232.1" width="0.6" height="0.6"/><rect x="75.9" y="238.1" width="0.5" height="0.5"/><rect x="95.2" y="217.3" width="0.7" height="0.7"/><rect x="72.1" y="229.2" width="0.7" height="0.7"/><rect x="92.6" y="224.4" width="0.6" height="0.6"/><rect x="91.2" y="233.2" width="0.7" height="0.7"/><rect x="95.2" y="228.2" width="0.5" height="0.5"/><rect x="92.5" y="225.7" width="0.6" height="0.6"/><rect x="89.6" y="216.6" width="0.4" height="0.4"/><rect x="93.6" y="208.3" width="0.7" height="0.7"/><rect x="73.0" y="236.9" width="0.5" height="0.5"/><rect x="85.0" y="229.2" width="0.5" height="0.5"/><rect x="97.1" y="213.2" width="0.5" height="0.5"/><rect x="84.4" y="228.3" width="0.7" height="0.7"/><rect x="65.5" y="236.3" width="0.5" height="0.5"/><rect x="81.3" y="230.9" width="0.8" height="0.8"/><rect x="83.3" y="232.9" width="0.5" height="0.5"/><rect x="70.4" y="235.5" width="0.7" height="0.7"/><rect x="91.3" y="219.1" width="0.5" height="0.5"/><rect x="91.6" y="207.3" width="0.6" height="0.6"/><rect x="96.7" y="232.3" width="0.7" height="0.7"/><rect x="91.1" y="225.2" width="0.5" height="0.5"/><rect x="94.8" y="215.9" width="0.6" height="0.6"/><rect x="87.6" y="233.4" width="0.8" height="0.8"/><rect x="95.0" y="215.7" width="0.5" height="0.5"/><rect x="90.0" y="229.6" width="0.6" height="0.6"/><rect x="92.9" y="221.0" width="0.8" height="0.8"/><rect x="79.6" y="231.6" width="0.8" height="0.8"/><rect x="72.8" y="229.7" width="0.6" height="0.6"/><rect x="94.2" y="232.1" width="0.7" height="0.7"/><rect x="96.6" y="207.8" width="0.5" height="0.5"/><rect x="86.2" y="227.7" width="0.8" height="0.8"/><rect x="68.0" y="232.8" width="0.5" height="0.5"/><rect x="80.3" y="232.5" width="0.5" height="0.5"/><rect x="80.2" y="237.3" width="0.8" height="0.8"/><rect x="90.9" y="229.2" width="0.6" height="0.6"/><rect x="88.7" y="222.0" width="0.8" height="0.8"/><rect x="73.3" y="236.6" width="0.7" height="0.7"/><rect x="91.8" y="223.6" width="0.9" height="0.9"/><rect x="88.0" y="222.1" width="0.8" height="0.8"/><rect x="88.0" y="234.5" width="0.6" height="0.6"/><rect x="92.7" y="206.8" width="0.5" height="0.5"/><rect x="81.6" y="226.1" width="0.5" height="0.5"/><rect x="88.9" y="229.5" width="0.8" height="0.8"/><rect x="65.8" y="235.8" width="0.8" height="0.8"/><rect x="69.4" y="231.3" width="0.9" height="0.9"/><rect x="93.4" y="216.5" width="0.9" height="0.9"/><rect x="82.8" y="234.5" width="0.4" height="0.4"/><rect x="80.8" y="231.1" width="0.9" height="0.9"/><rect x="97.3" y="207.8" width="0.6" height="0.6"/><rect x="98.2" y="213.4" width="0.4" height="0.4"/><rect x="97.7" y="213.8" width="0.7" height="0.7"/><rect x="94.8" y="213.5" width="0.8" height="0.8"/><rect x="97.7" y="213.4" width="0.6" height="0.6"/><rect x="87.8" y="228.1" width="0.4" height="0.4"/><rect x="96.6" y="206.6" width="0.7" height="0.7"/><rect x="91.6" y="221.0" width="0.8" height="0.8"/><rect x="88.7" y="228.8" width="0.8" height="0.8"/><rect x="93.6" y="211.4" width="0.8" height="0.8"/><rect x="96.7" y="220.3" width="0.5" height="0.5"/><rect x="95.0" y="210.5" width="0.4" height="0.4"/><rect x="89.7" y="226.2" width="0.6" height="0.6"/><rect x="74.9" y="229.9" width="0.6" height="0.6"/><rect x="91.4" y="210.8" width="0.5" height="0.5"/><rect x="96.6" y="207.9" width="0.8" height="0.8"/><rect x="89.8" y="221.5" width="0.6" height="0.6"/><rect x="86.8" y="226.5" width="0.6" height="0.6"/><rect x="81.1" y="237.2" width="0.9" height="0.9"/><rect x="89.0" y="213.2" width="0.7" height="0.7"/><rect x="97.4" y="220.2" width="0.7" height="0.7"/><rect x="94.4" y="211.5" width="0.6" height="0.6"/><rect x="89.3" y="227.3" width="0.9" height="0.9"/><rect x="80.1" y="227.4" width="0.5" height="0.5"/><rect x="94.0" y="219.3" width="0.9" height="0.9"/><rect x="95.1" y="222.5" width="0.4" height="0.4"/><rect x="92.0" y="208.0" width="0.8" height="0.8"/><rect x="96.6" y="231.2" width="0.8" height="0.8"/><rect x="92.9" y="228.9" width="0.7" height="0.7"/><rect x="96.7" y="223.7" width="0.4" height="0.4"/><rect x="92.0" y="233.2" width="0.8" height="0.8"/><rect x="61.9" y="235.2" width="0.8" height="0.8"/><rect x="94.0" y="208.5" width="0.6" height="0.6"/><rect x="75.4" y="232.5" width="0.8" height="0.8"/><rect x="98.5" y="207.0" width="0.8" height="0.8"/><rect x="78.8" y="230.0" width="0.7" height="0.7"/><rect x="90.2" y="216.5" width="0.6" height="0.6"/><rect x="89.3" y="230.0" width="0.8" height="0.8"/><rect x="71.0" y="235.4" width="0.8" height="0.8"/><rect x="88.1" y="231.1" width="0.7" height="0.7"/><rect x="66.6" y="230.7" width="0.8" height="0.8"/><rect x="94.3" y="227.4" width="0.9" height="0.9"/><rect x="78.2" y="237.7" width="0.7" height="0.7"/><rect x="84.8" y="225.7" width="0.8" height="0.8"/><rect x="89.0" y="222.2" width="0.4" height="0.4"/><rect x="67.8" y="237.3" width="0.6" height="0.6"/><rect x="66.6" y="234.3" width="0.8" height="0.8"/><rect x="86.3" y="227.3" width="0.7" height="0.7"/><rect x="66.4" y="235.8" width="0.8" height="0.8"/><rect x="93.0" y="218.1" width="0.9" height="0.9"/><rect x="91.5" y="210.8" width="0.5" height="0.5"/><rect x="93.8" y="231.8" width="0.5" height="0.5"/><rect x="95.2" y="228.3" width="0.4" height="0.4"/><rect x="90.5" y="212.9" width="0.7" height="0.7"/><rect x="97.7" y="218.6" width="0.6" height="0.6"/><rect x="80.7" y="235.1" width="0.9" height="0.9"/><rect x="90.3" y="223.9" width="0.8" height="0.8"/><rect x="90.8" y="212.2" width="0.8" height="0.8"/><rect x="87.7" y="230.8" width="0.9" height="0.9"/><rect x="89.2" y="222.2" width="0.8" height="0.8"/><rect x="85.0" y="226.0" width="0.8" height="0.8"/><rect x="98.2" y="223.8" width="0.7" height="0.7"/><rect x="69.9" y="238.0" width="0.6" height="0.6"/><rect x="69.6" y="237.1" width="0.5" height="0.5"/><rect x="66.8" y="233.4" width="0.4" height="0.4"/><rect x="75.4" y="233.0" width="0.8" height="0.8"/><rect x="91.3" y="208.3" width="0.8" height="0.8"/><rect x="73.0" y="234.1" width="0.6" height="0.6"/><rect x="95.4" y="221.7" width="0.5" height="0.5"/><rect x="94.7" y="225.2" width="0.8" height="0.8"/><rect x="69.1" y="238.1" width="0.8" height="0.8"/><rect x="79.4" y="226.6" width="0.8" height="0.8"/><rect x="98.1" y="226.0" width="0.4" height="0.4"/><rect x="94.6" y="210.1" width="0.5" height="0.5"/><rect x="88.2" y="223.9" width="0.6" height="0.6"/><rect x="91.0" y="210.9" width="0.5" height="0.5"/><rect x="89.5" y="219.7" width="0.9" height="0.9"/><rect x="67.4" y="236.5" width="0.5" height="0.5"/><rect x="92.9" y="229.6" width="0.5" height="0.5"/><rect x="94.3" y="208.6" width="0.8" height="0.8"/><rect x="90.0" y="221.5" width="0.9" height="0.9"/><rect x="83.6" y="227.1" width="0.8" height="0.8"/><rect x="69.1" y="236.1" width="0.5" height="0.5"/><rect x="81.6" y="226.5" width="0.4" height="0.4"/><rect x="83.5" y="226.7" width="0.8" height="0.8"/><rect x="68.5" y="233.5" width="0.7" height="0.7"/><rect x="81.7" y="235.7" width="0.6" height="0.6"/><rect x="83.2" y="234.4" width="0.6" height="0.6"/><rect x="90.1" y="222.5" width="0.6" height="0.6"/><rect x="68.7" y="235.0" width="0.9" height="0.9"/><rect x="97.4" y="213.2" width="0.4" height="0.4"/><rect x="94.0" y="229.1" width="0.6" height="0.6"/><rect x="76.5" y="229.3" width="0.5" height="0.5"/><rect x="73.3" y="233.1" width="0.7" height="0.7"/><rect x="97.3" y="222.0" width="0.4" height="0.4"/><rect x="90.0" y="207.2" width="0.4" height="0.4"/><rect x="87.4" y="226.1" width="0.7" height="0.7"/><rect x="77.0" y="234.9" width="0.7" height="0.7"/><rect x="96.0" y="224.2" width="0.5" height="0.5"/><rect x="94.3" y="227.9" width="0.8" height="0.8"/><rect x="92.0" y="216.6" width="0.5" height="0.5"/><rect x="94.4" y="230.1" width="0.4" height="0.4"/><rect x="98.1" y="226.9" width="0.8" height="0.8"/><rect x="90.3" y="206.8" width="0.8" height="0.8"/><rect x="87.6" y="210.4" width="0.9" height="0.9"/><rect x="80.6" y="237.4" width="0.6" height="0.6"/><rect x="87.8" y="221.0" width="0.5" height="0.5"/><rect x="75.7" y="230.4" width="0.5" height="0.5"/><rect x="69.2" y="232.6" width="0.6" height="0.6"/><rect x="94.5" y="232.8" width="0.4" height="0.4"/><rect x="87.5" y="227.0" width="0.6" height="0.6"/><rect x="93.8" y="225.0" width="0.7" height="0.7"/><rect x="87.8" y="222.2" width="0.6" height="0.6"/><rect x="93.9" y="214.5" width="0.8" height="0.8"/><rect x="85.3" y="226.4" width="0.8" height="0.8"/><rect x="69.2" y="234.9" width="0.7" height="0.7"/><rect x="89.8" y="235.1" width="0.5" height="0.5"/><rect x="61.2" y="236.4" width="0.7" height="0.7"/><rect x="95.0" y="206.6" width="0.6" height="0.6"/><rect x="86.8" y="223.8" width="0.6" height="0.6"/><rect x="90.0" y="217.5" width="0.5" height="0.5"/><rect x="60.9" y="239.2" width="0.7" height="0.7"/><rect x="90.7" y="228.0" width="0.7" height="0.7"/><rect x="95.7" y="217.5" width="0.6" height="0.6"/><rect x="81.6" y="231.3" width="0.5" height="0.5"/><rect x="92.7" y="233.3" width="0.9" height="0.9"/><rect x="88.1" y="224.3" width="0.8" height="0.8"/><rect x="91.9" y="227.3" width="0.7" height="0.7"/><rect x="71.7" y="235.8" width="0.8" height="0.8"/><rect x="97.9" y="217.3" width="0.6" height="0.6"/><rect x="93.9" y="223.7" width="0.7" height="0.7"/><rect x="98.2" y="214.3" width="0.7" height="0.7"/><rect x="91.5" y="220.0" width="0.4" height="0.4"/><rect x="97.3" y="209.1" width="0.8" height="0.8"/><rect x="75.7" y="232.0" width="0.6" height="0.6"/><rect x="98.0" y="211.0" width="0.5" height="0.5"/><rect x="96.9" y="215.1" width="0.6" height="0.6"/><rect x="75.3" y="230.2" width="0.5" height="0.5"/><rect x="88.2" y="228.1" width="0.6" height="0.6"/><rect x="72.3" y="237.6" width="0.5" height="0.5"/><rect x="92.0" y="229.0" width="0.6" height="0.6"/><rect x="83.5" y="228.3" width="0.6" height="0.6"/><rect x="97.7" y="217.8" width="0.7" height="0.7"/><rect x="94.3" y="217.8" width="0.6" height="0.6"/><rect x="86.9" y="222.8" width="0.9" height="0.9"/><rect x="83.9" y="226.9" width="0.6" height="0.6"/><rect x="63.1" y="236.2" width="0.7" height="0.7"/><rect x="94.8" y="214.9" width="0.7" height="0.7"/><rect x="69.6" y="234.7" width="0.5" height="0.5"/><rect x="85.2" y="224.5" width="0.6" height="0.6"/><rect x="80.0" y="234.3" width="0.5" height="0.5"/><rect x="91.7" y="212.6" width="0.7" height="0.7"/><rect x="87.7" y="222.4" width="0.5" height="0.5"/><rect x="78.5" y="235.7" width="0.4" height="0.4"/><rect x="93.1" y="221.6" width="0.5" height="0.5"/><rect x="87.0" y="226.8" width="0.8" height="0.8"/><rect x="97.9" y="214.9" width="0.7" height="0.7"/><rect x="74.7" y="237.1" width="0.8" height="0.8"/><rect x="90.1" y="226.2" width="0.5" height="0.5"/><rect x="97.9" y="216.5" width="0.8" height="0.8"/><rect x="86.5" y="235.1" width="0.8" height="0.8"/><rect x="91.4" y="228.2" width="0.7" height="0.7"/><rect x="62.1" y="235.2" width="0.4" height="0.4"/><rect x="95.0" y="212.3" width="0.5" height="0.5"/><rect x="89.7" y="229.1" width="0.6" height="0.6"/><rect x="97.8" y="222.8" width="0.7" height="0.7"/><rect x="90.0" y="224.1" width="0.6" height="0.6"/><rect x="80.6" y="236.6" width="0.8" height="0.8"/><rect x="65.7" y="231.7" width="0.8" height="0.8"/><rect x="78.2" y="235.8" width="0.5" height="0.5"/><rect x="88.5" y="220.6" width="0.6" height="0.6"/><rect x="94.4" y="218.5" width="0.6" height="0.6"/><rect x="87.7" y="217.4" width="0.7" height="0.7"/><rect x="98.4" y="214.7" width="0.7" height="0.7"/><rect x="98.3" y="211.6" width="0.4" height="0.4"/><rect x="93.8" y="223.1" width="0.4" height="0.4"/><rect x="96.0" y="220.4" width="0.5" height="0.5"/><rect x="79.8" y="228.0" width="0.4" height="0.4"/><rect x="89.3" y="226.8" width="0.9" height="0.9"/><rect x="92.0" y="206.3" width="0.6" height="0.6"/><rect x="94.6" y="224.7" width="0.8" height="0.8"/><rect x="90.1" y="214.3" width="0.7" height="0.7"/><rect x="80.3" y="228.7" width="0.5" height="0.5"/><rect x="93.2" y="210.0" width="0.6" height="0.6"/><rect x="90.0" y="210.0" width="0.8" height="0.8"/><rect x="89.0" y="222.2" width="0.9" height="0.9"/><rect x="93.4" y="210.3" width="0.9" height="0.9"/><rect x="95.6" y="224.9" width="0.7" height="0.7"/><rect x="90.2" y="225.2" width="0.8" height="0.8"/><rect x="61.7" y="235.3" width="0.7" height="0.7"/><rect x="87.2" y="219.0" width="0.8" height="0.8"/><rect x="70.6" y="231.8" width="0.4" height="0.4"/><rect x="88.0" y="216.2" width="0.6" height="0.6"/><rect x="78.0" y="231.7" width="0.4" height="0.4"/><rect x="95.6" y="217.5" width="0.8" height="0.8"/><rect x="88.9" y="213.9" width="0.7" height="0.7"/><rect x="96.2" y="227.0" width="0.4" height="0.4"/><rect x="70.8" y="230.3" width="0.8" height="0.8"/><rect x="95.0" y="206.6" width="0.8" height="0.8"/><rect x="68.4" y="233.7" width="0.7" height="0.7"/><rect x="77.6" y="237.4" width="0.8" height="0.8"/><rect x="82.1" y="231.2" width="0.7" height="0.7"/><rect x="69.0" y="235.2" width="0.8" height="0.8"/><rect x="87.3" y="229.5" width="0.7" height="0.7"/><rect x="82.1" y="228.7" width="0.4" height="0.4"/><rect x="91.6" y="233.5" width="0.8" height="0.8"/><rect x="68.8" y="238.5" width="0.6" height="0.6"/><rect x="80.9" y="229.2" width="0.5" height="0.5"/><rect x="62.4" y="234.5" width="0.5" height="0.5"/><rect x="91.1" y="225.5" width="0.7" height="0.7"/><rect x="71.7" y="231.4" width="0.7" height="0.7"/><rect x="63.6" y="236.9" width="0.5" height="0.5"/><rect x="89.5" y="233.4" width="0.6" height="0.6"/><rect x="98.1" y="215.5" width="0.6" height="0.6"/><rect x="95.1" y="229.5" width="0.5" height="0.5"/><rect x="79.3" y="235.4" width="0.5" height="0.5"/><rect x="83.1" y="233.1" width="0.8" height="0.8"/><rect x="82.7" y="236.9" width="0.5" height="0.5"/><rect x="62.7" y="235.4" width="0.9" height="0.9"/><rect x="77.9" y="229.2" width="0.5" height="0.5"/><rect x="62.3" y="233.6" width="0.8" height="0.8"/><rect x="93.4" y="228.1" width="0.5" height="0.5"/><rect x="92.4" y="207.0" width="0.4" height="0.4"/><rect x="98.1" y="212.2" width="0.9" height="0.9"/><rect x="94.6" y="227.3" width="0.7" height="0.7"/><rect x="95.2" y="232.8" width="0.7" height="0.7"/><rect x="89.7" y="223.7" width="0.5" height="0.5"/><rect x="94.6" y="230.6" width="0.5" height="0.5"/><rect x="79.4" y="229.5" width="0.8" height="0.8"/><rect x="79.7" y="233.0" width="0.7" height="0.7"/><rect x="73.6" y="229.9" width="0.9" height="0.9"/><rect x="98.3" y="217.9" width="0.8" height="0.8"/><rect x="91.8" y="215.8" width="0.5" height="0.5"/><rect x="91.9" y="219.4" width="0.6" height="0.6"/><rect x="77.5" y="230.9" width="0.8" height="0.8"/><rect x="96.5" y="232.4" width="0.5" height="0.5"/><rect x="92.1" y="231.7" width="0.5" height="0.5"/><rect x="74.0" y="233.8" width="0.4" height="0.4"/><rect x="91.1" y="224.1" width="0.8" height="0.8"/><rect x="79.3" y="232.3" width="0.5" height="0.5"/><rect x="93.7" y="230.0" width="0.5" height="0.5"/><rect x="90.1" y="230.6" width="0.7" height="0.7"/><rect x="84.9" y="229.7" width="0.4" height="0.4"/><rect x="90.3" y="222.1" width="0.4" height="0.4"/><rect x="77.2" y="235.3" width="0.5" height="0.5"/><rect x="79.7" y="231.5" width="0.8" height="0.8"/><rect x="75.0" y="236.9" width="0.7" height="0.7"/><rect x="89.7" y="225.1" width="0.8" height="0.8"/><rect x="82.4" y="226.1" width="0.5" height="0.5"/><rect x="88.5" y="228.7" width="0.5" height="0.5"/><rect x="78.4" y="232.4" width="0.7" height="0.7"/><rect x="96.2" y="207.3" width="0.8" height="0.8"/><rect x="75.6" y="228.7" width="0.8" height="0.8"/><rect x="91.4" y="208.3" width="0.8" height="0.8"/><rect x="97.4" y="216.7" width="0.5" height="0.5"/><rect x="75.6" y="230.2" width="0.9" height="0.9"/><rect x="75.9" y="228.3" width="0.4" height="0.4"/><rect x="63.6" y="233.9" width="0.5" height="0.5"/><rect x="90.7" y="208.1" width="0.7" height="0.7"/><rect x="87.7" y="226.4" width="0.5" height="0.5"/><rect x="79.2" y="231.9" width="0.8" height="0.8"/><rect x="88.9" y="218.1" width="0.8" height="0.8"/><rect x="94.8" y="207.4" width="0.9" height="0.9"/><rect x="97.9" y="226.7" width="0.8" height="0.8"/><rect x="97.5" y="220.6" width="0.8" height="0.8"/><rect x="85.2" y="232.7" width="0.5" height="0.5"/><rect x="83.5" y="229.4" width="0.5" height="0.5"/><rect x="68.6" y="234.3" width="0.9" height="0.9"/><rect x="95.8" y="217.4" width="0.8" height="0.8"/><rect x="81.6" y="237.2" width="0.8" height="0.8"/><rect x="87.9" y="220.6" width="0.5" height="0.5"/><rect x="98.1" y="223.5" width="0.7" height="0.7"/><rect x="66.3" y="233.2" width="0.6" height="0.6"/><rect x="84.2" y="229.7" width="0.7" height="0.7"/><rect x="72.3" y="235.3" width="0.8" height="0.8"/><rect x="91.4" y="222.2" width="0.6" height="0.6"/><rect x="93.4" y="208.4" width="0.5" height="0.5"/><rect x="97.1" y="219.0" width="0.6" height="0.6"/><rect x="62.4" y="231.9" width="0.7" height="0.7"/><rect x="65.0" y="236.4" width="0.4" height="0.4"/><rect x="69.2" y="233.3" width="0.6" height="0.6"/><rect x="93.6" y="207.8" width="0.7" height="0.7"/><rect x="88.9" y="225.3" width="0.5" height="0.5"/><rect x="96.9" y="231.9" width="0.6" height="0.6"/><rect x="90.5" y="223.6" width="0.6" height="0.6"/><rect x="63.9" y="231.6" width="0.6" height="0.6"/><rect x="93.2" y="228.8" width="0.9" height="0.9"/><rect x="82.3" y="226.0" width="0.9" height="0.9"/><rect x="91.7" y="216.5" width="0.5" height="0.5"/><rect x="96.7" y="206.4" width="0.9" height="0.9"/><rect x="97.2" y="228.5" width="0.9" height="0.9"/><rect x="83.5" y="231.6" width="0.7" height="0.7"/><rect x="89.2" y="220.7" width="0.5" height="0.5"/><rect x="69.0" y="236.4" width="0.7" height="0.7"/><rect x="89.4" y="234.2" width="0.6" height="0.6"/><rect x="73.0" y="232.8" width="0.8" height="0.8"/><rect x="70.5" y="230.3" width="0.5" height="0.5"/><rect x="90.6" y="216.2" width="0.9" height="0.9"/><rect x="88.2" y="215.9" width="0.8" height="0.8"/><rect x="93.4" y="209.2" width="0.9" height="0.9"/><rect x="88.1" y="229.7" width="0.6" height="0.6"/><rect x="93.3" y="227.7" width="0.9" height="0.9"/><rect x="62.9" y="234.4" width="0.6" height="0.6"/><rect x="90.9" y="206.1" width="0.7" height="0.7"/><rect x="81.9" y="230.6" width="0.6" height="0.6"/><rect x="83.5" y="231.2" width="0.6" height="0.6"/><rect x="78.3" y="235.0" width="0.5" height="0.5"/><rect x="88.7" y="219.3" width="0.4" height="0.4"/><rect x="86.9" y="223.2" width="0.8" height="0.8"/><rect x="72.8" y="235.5" width="0.5" height="0.5"/><rect x="92.6" y="220.5" width="0.6" height="0.6"/><rect x="69.4" y="238.5" width="0.5" height="0.5"/><rect x="73.3" y="230.9" width="0.9" height="0.9"/><rect x="83.6" y="236.7" width="0.8" height="0.8"/><rect x="95.9" y="229.8" width="0.8" height="0.8"/><rect x="91.4" y="215.9" width="0.4" height="0.4"/><rect x="71.8" y="234.0" width="0.9" height="0.9"/><rect x="77.7" y="235.6" width="0.6" height="0.6"/><rect x="75.7" y="233.7" width="0.9" height="0.9"/><rect x="89.7" y="230.1" width="0.8" height="0.8"/><rect x="73.1" y="233.0" width="0.7" height="0.7"/><rect x="86.3" y="222.1" width="0.4" height="0.4"/></g>
<path d="M56.00,206.00 C57.17,206.25 60.83,206.92 63.00,207.50 C65.17,208.08 67.25,208.95 69.00,209.50 C70.75,210.05 72.17,210.80 73.50,210.80 C74.83,210.80 75.75,210.00 77.00,209.50 C78.25,209.00 79.58,208.18 81.00,207.80 C82.42,207.42 84.13,207.20 85.50,207.20 C86.87,207.20 88.57,206.83 89.20,207.80 C89.83,208.77 89.47,211.05 89.30,213.00 C89.13,214.95 88.72,217.53 88.20,219.50 C87.68,221.47 87.73,223.35 86.20,224.80 C84.67,226.25 81.70,227.08 79.00,228.20 C76.30,229.32 72.83,230.40 70.00,231.50 C67.17,232.60 64.25,233.97 62.00,234.80 C59.75,235.63 57.42,236.22 56.50,236.50  L55,236 L55,206 Z" fill="none" stroke="#333" stroke-width="3.0" filter="url(#bl1)"/>
<path d="M56.00,206.00 C57.17,206.25 60.83,206.92 63.00,207.50 C65.17,208.08 67.25,208.95 69.00,209.50 C70.75,210.05 72.17,210.80 73.50,210.80 C74.83,210.80 75.75,210.00 77.00,209.50 C78.25,209.00 79.58,208.18 81.00,207.80 C82.42,207.42 84.13,207.20 85.50,207.20 C86.87,207.20 88.57,206.83 89.20,207.80 C89.83,208.77 89.47,211.05 89.30,213.00 C89.13,214.95 88.72,217.53 88.20,219.50 C87.68,221.47 87.73,223.35 86.20,224.80 C84.67,226.25 81.70,227.08 79.00,228.20 C76.30,229.32 72.83,230.40 70.00,231.50 C67.17,232.60 64.25,233.97 62.00,234.80 C59.75,235.63 57.42,236.22 56.50,236.50  L55,236 L55,206 Z" fill="#fff" stroke="none" stroke-width="1"/>
<path d="M56.00,206.00 C57.17,206.25 60.83,206.92 63.00,207.50 C65.17,208.08 67.25,208.95 69.00,209.50 C70.75,210.05 72.17,210.80 73.50,210.80 C74.83,210.80 75.75,210.00 77.00,209.50 C78.25,209.00 79.58,208.18 81.00,207.80 C82.42,207.42 84.13,207.20 85.50,207.20 C86.87,207.20 88.57,206.83 89.20,207.80 C89.83,208.77 89.47,211.05 89.30,213.00 C89.13,214.95 88.72,217.53 88.20,219.50 C87.68,221.47 87.73,223.35 86.20,224.80 C84.67,226.25 81.70,227.08 79.00,228.20 C76.30,229.32 72.83,230.40 70.00,231.50 C67.17,232.60 64.25,233.97 62.00,234.80 C59.75,235.63 57.42,236.22 56.50,236.50 " fill="none" stroke="#222" stroke-width="0.55"/>
<path d="M56.40,209.20 C57.33,209.40 60.27,209.93 62.00,210.40 C63.73,210.87 65.40,211.56 66.80,212.00 C68.20,212.44 69.33,213.04 70.40,213.04 C71.47,213.04 72.20,212.40 73.20,212.00 C74.20,211.60 75.27,210.95 76.40,210.64 C77.53,210.33 78.91,210.16 80.00,210.16 C81.09,210.16 82.45,209.87 82.96,210.64 C83.47,211.41 83.17,213.24 83.04,214.80 C82.91,216.36 82.57,218.43 82.16,220.00 C81.75,221.57 81.79,223.08 80.56,224.24 C79.33,225.40 76.96,226.07 74.80,226.96 C72.64,227.85 69.87,228.72 67.60,229.60 C65.33,230.48 63.00,231.57 61.20,232.24 C59.40,232.91 57.53,233.37 56.80,233.60 " fill="none" stroke="#444" stroke-width="0.55"/>
<path d="M56.76,212.08 C57.48,212.24 59.76,212.65 61.10,213.01 C62.44,213.37 63.73,213.91 64.82,214.25 C65.90,214.59 66.78,215.06 67.61,215.06 C68.44,215.06 69.00,214.56 69.78,214.25 C70.56,213.94 71.38,213.43 72.26,213.20 C73.14,212.96 74.20,212.82 75.05,212.82 C75.90,212.82 76.95,212.60 77.34,213.20 C77.74,213.80 77.51,215.21 77.41,216.42 C77.30,217.63 77.04,219.23 76.72,220.45 C76.40,221.67 76.43,222.84 75.48,223.74 C74.53,224.64 72.69,225.15 71.02,225.84 C69.35,226.54 67.20,227.21 65.44,227.89 C63.68,228.57 61.88,229.42 60.48,229.94 C59.08,230.45 57.64,230.81 57.07,230.99 " fill="none" stroke="#555" stroke-width="0.55"/>
<path d="M57.10,214.80 C57.62,214.91 59.27,215.21 60.25,215.47 C61.23,215.74 62.16,216.13 62.95,216.38 C63.74,216.62 64.38,216.96 64.97,216.96 C65.57,216.96 65.99,216.60 66.55,216.38 C67.11,216.15 67.71,215.78 68.35,215.61 C68.99,215.44 69.76,215.34 70.38,215.34 C70.99,215.34 71.76,215.18 72.04,215.61 C72.33,216.05 72.16,217.07 72.08,217.95 C72.01,218.83 71.82,219.99 71.59,220.88 C71.36,221.76 71.38,222.61 70.69,223.26 C70.00,223.91 68.67,224.29 67.45,224.79 C66.23,225.29 64.67,225.78 63.40,226.28 C62.12,226.77 60.81,227.38 59.80,227.76 C58.79,228.13 57.74,228.40 57.33,228.53 " fill="none" stroke="#666" stroke-width="0.55"/>
<path d="M43,180.5 C45.5,179.2 48.5,179.6 50.8,181.2 C53.5,187 55.8,196 57.6,206.5 C57.2,216 56.8,227 56.4,237.6 C52,238.7 47,238.7 44,237.6 C43,228 42.6,215 42.6,201 C42.6,192 42.7,185 43,180.5 Z" fill="url(#gtopl)" stroke="none" stroke-width="1"/>
<g fill="#111" opacity="0.6"><rect x="55.3" y="200.6" width="0.7" height="0.7"/><rect x="51.0" y="201.7" width="0.7" height="0.7"/><rect x="49.6" y="193.1" width="0.9" height="0.9"/><rect x="56.4" y="205.4" width="0.9" height="0.9"/><rect x="48.1" y="189.5" width="0.7" height="0.7"/><rect x="50.7" y="205.1" width="0.5" height="0.5"/><rect x="53.5" y="200.3" width="0.7" height="0.7"/><rect x="43.9" y="203.1" width="0.9" height="0.9"/><rect x="50.0" y="193.9" width="0.7" height="0.7"/><rect x="49.8" y="192.4" width="1.0" height="1.0"/><rect x="51.6" y="195.2" width="0.9" height="0.9"/><rect x="46.8" y="198.3" width="0.7" height="0.7"/><rect x="52.3" y="202.4" width="0.9" height="0.9"/><rect x="48.2" y="199.6" width="0.9" height="0.9"/><rect x="47.8" y="191.3" width="0.7" height="0.7"/><rect x="47.5" y="191.1" width="0.9" height="0.9"/><rect x="54.2" y="203.6" width="0.7" height="0.7"/><rect x="50.0" y="185.9" width="0.6" height="0.6"/><rect x="49.2" y="197.3" width="0.6" height="0.6"/><rect x="50.7" y="188.8" width="0.6" height="0.6"/><rect x="53.9" y="200.2" width="0.7" height="0.7"/><rect x="50.8" y="195.7" width="0.8" height="0.8"/><rect x="50.8" y="204.5" width="0.5" height="0.5"/><rect x="48.5" y="204.5" width="0.9" height="0.9"/><rect x="52.0" y="191.1" width="0.8" height="0.8"/><rect x="46.0" y="181.0" width="0.6" height="0.6"/><rect x="46.3" y="194.3" width="1.0" height="1.0"/><rect x="44.8" y="187.8" width="0.7" height="0.7"/><rect x="52.2" y="189.6" width="0.8" height="0.8"/><rect x="44.4" y="181.2" width="0.8" height="0.8"/><rect x="43.0" y="205.0" width="0.8" height="0.8"/><rect x="44.6" y="191.1" width="0.5" height="0.5"/><rect x="43.4" y="189.5" width="0.9" height="0.9"/><rect x="52.2" y="195.8" width="0.8" height="0.8"/><rect x="52.5" y="193.4" width="0.7" height="0.7"/><rect x="48.5" y="198.3" width="1.0" height="1.0"/><rect x="47.5" y="191.7" width="0.7" height="0.7"/><rect x="45.4" y="189.6" width="0.9" height="0.9"/><rect x="45.0" y="192.9" width="0.6" height="0.6"/><rect x="51.3" y="200.9" width="0.6" height="0.6"/><rect x="49.8" y="185.1" width="0.8" height="0.8"/><rect x="45.7" y="188.2" width="0.7" height="0.7"/><rect x="56.3" y="203.6" width="0.9" height="0.9"/><rect x="48.3" y="192.3" width="0.6" height="0.6"/><rect x="49.4" y="205.7" width="0.5" height="0.5"/><rect x="48.3" y="185.3" width="0.9" height="0.9"/><rect x="46.8" y="193.2" width="0.5" height="0.5"/><rect x="53.0" y="193.9" width="0.9" height="0.9"/><rect x="53.5" y="200.1" width="0.6" height="0.6"/><rect x="46.0" y="196.1" width="0.5" height="0.5"/><rect x="49.9" y="189.8" width="0.5" height="0.5"/><rect x="50.9" y="200.9" width="0.6" height="0.6"/><rect x="43.6" y="198.5" width="0.7" height="0.7"/><rect x="47.1" y="194.5" width="0.8" height="0.8"/><rect x="49.2" y="202.1" width="0.9" height="0.9"/><rect x="50.1" y="194.7" width="0.8" height="0.8"/><rect x="49.2" y="184.3" width="0.9" height="0.9"/><rect x="50.9" y="200.0" width="0.9" height="0.9"/><rect x="52.0" y="204.7" width="0.5" height="0.5"/><rect x="47.3" y="184.4" width="0.8" height="0.8"/><rect x="44.2" y="184.7" width="0.8" height="0.8"/><rect x="49.3" y="192.5" width="0.5" height="0.5"/><rect x="50.5" y="186.8" width="0.5" height="0.5"/><rect x="48.4" y="184.5" width="0.7" height="0.7"/><rect x="44.6" y="199.8" width="0.9" height="0.9"/><rect x="47.2" y="181.9" width="1.0" height="1.0"/><rect x="43.3" y="197.5" width="0.9" height="0.9"/><rect x="49.7" y="204.1" width="0.6" height="0.6"/><rect x="53.5" y="204.5" width="0.9" height="0.9"/><rect x="50.2" y="202.9" width="0.7" height="0.7"/><rect x="45.3" y="183.8" width="1.0" height="1.0"/><rect x="46.9" y="189.5" width="1.0" height="1.0"/><rect x="43.7" y="189.9" width="0.6" height="0.6"/><rect x="43.2" y="201.3" width="0.8" height="0.8"/><rect x="46.5" y="202.5" width="0.7" height="0.7"/><rect x="48.0" y="198.7" width="0.9" height="0.9"/><rect x="53.0" y="200.6" width="0.6" height="0.6"/><rect x="43.5" y="181.8" width="0.8" height="0.8"/><rect x="43.7" y="202.9" width="0.7" height="0.7"/><rect x="48.9" y="184.9" width="0.7" height="0.7"/><rect x="51.7" y="203.3" width="0.9" height="0.9"/><rect x="52.6" y="198.6" width="0.8" height="0.8"/><rect x="54.9" y="201.9" width="0.8" height="0.8"/><rect x="43.5" y="184.5" width="0.8" height="0.8"/><rect x="46.9" y="205.3" width="0.6" height="0.6"/><rect x="49.8" y="193.6" width="1.0" height="1.0"/><rect x="46.9" y="204.1" width="0.9" height="0.9"/><rect x="51.1" y="205.5" width="0.9" height="0.9"/><rect x="52.3" y="189.4" width="0.7" height="0.7"/><rect x="55.2" y="202.7" width="0.9" height="0.9"/><rect x="49.1" y="194.5" width="1.0" height="1.0"/><rect x="43.3" y="204.3" width="0.5" height="0.5"/><rect x="43.9" y="197.8" width="0.6" height="0.6"/><rect x="54.1" y="198.5" width="0.6" height="0.6"/><rect x="55.2" y="205.3" width="0.8" height="0.8"/><rect x="43.3" y="190.1" width="0.9" height="0.9"/><rect x="47.9" y="184.5" width="0.7" height="0.7"/><rect x="44.3" y="192.8" width="0.5" height="0.5"/><rect x="52.1" y="197.4" width="0.6" height="0.6"/><rect x="52.0" y="194.8" width="0.8" height="0.8"/><rect x="45.0" y="192.9" width="0.9" height="0.9"/><rect x="47.3" y="203.7" width="0.5" height="0.5"/><rect x="49.6" y="193.9" width="0.7" height="0.7"/><rect x="46.7" y="192.2" width="0.5" height="0.5"/><rect x="43.3" y="202.4" width="0.9" height="0.9"/><rect x="45.2" y="188.6" width="0.5" height="0.5"/><rect x="47.1" y="194.1" width="0.9" height="0.9"/><rect x="50.1" y="202.9" width="1.0" height="1.0"/><rect x="44.2" y="198.2" width="0.6" height="0.6"/><rect x="48.5" y="195.0" width="0.8" height="0.8"/><rect x="43.9" y="189.1" width="0.7" height="0.7"/><rect x="53.8" y="201.1" width="0.8" height="0.8"/><rect x="44.9" y="192.5" width="1.0" height="1.0"/><rect x="44.8" y="189.4" width="0.8" height="0.8"/><rect x="53.1" y="192.5" width="0.8" height="0.8"/><rect x="51.6" y="188.6" width="0.9" height="0.9"/><rect x="44.4" y="200.6" width="0.9" height="0.9"/><rect x="51.0" y="200.1" width="1.0" height="1.0"/><rect x="45.9" y="198.6" width="0.9" height="0.9"/><rect x="46.3" y="204.4" width="0.7" height="0.7"/><rect x="49.3" y="195.9" width="0.9" height="0.9"/><rect x="48.7" y="204.3" width="0.6" height="0.6"/><rect x="50.3" y="183.9" width="0.6" height="0.6"/><rect x="46.7" y="181.3" width="0.8" height="0.8"/><rect x="51.9" y="190.7" width="0.9" height="0.9"/><rect x="50.7" y="198.5" width="0.5" height="0.5"/><rect x="44.6" y="202.9" width="0.6" height="0.6"/><rect x="51.5" y="190.2" width="0.8" height="0.8"/><rect x="55.9" y="202.4" width="1.0" height="1.0"/><rect x="46.4" y="188.9" width="0.8" height="0.8"/><rect x="51.5" y="191.0" width="0.7" height="0.7"/><rect x="48.5" y="199.3" width="0.7" height="0.7"/><rect x="53.4" y="203.7" width="0.5" height="0.5"/><rect x="45.1" y="202.0" width="0.7" height="0.7"/><rect x="48.9" y="196.2" width="0.5" height="0.5"/><rect x="46.1" y="190.9" width="0.7" height="0.7"/><rect x="47.7" y="193.6" width="0.6" height="0.6"/><rect x="48.9" y="200.2" width="0.8" height="0.8"/><rect x="51.1" y="186.3" width="0.7" height="0.7"/><rect x="51.0" y="189.8" width="0.6" height="0.6"/><rect x="50.9" y="194.7" width="0.7" height="0.7"/><rect x="52.0" y="203.9" width="0.7" height="0.7"/><rect x="47.2" y="198.6" width="0.8" height="0.8"/><rect x="47.5" y="198.7" width="1.0" height="1.0"/><rect x="49.5" y="201.3" width="0.6" height="0.6"/><rect x="45.0" y="187.3" width="0.9" height="0.9"/><rect x="53.4" y="204.6" width="0.7" height="0.7"/><rect x="43.0" y="201.8" width="0.6" height="0.6"/><rect x="45.6" y="200.2" width="0.7" height="0.7"/><rect x="51.3" y="187.3" width="0.7" height="0.7"/><rect x="49.4" y="187.8" width="0.6" height="0.6"/><rect x="52.7" y="196.9" width="0.5" height="0.5"/><rect x="45.6" y="187.6" width="0.7" height="0.7"/><rect x="49.8" y="204.4" width="0.6" height="0.6"/><rect x="51.2" y="196.9" width="0.6" height="0.6"/><rect x="47.7" y="192.0" width="0.9" height="0.9"/><rect x="43.1" y="189.7" width="0.9" height="0.9"/><rect x="48.9" y="190.6" width="0.8" height="0.8"/><rect x="48.7" y="203.1" width="0.6" height="0.6"/><rect x="50.5" y="189.3" width="0.8" height="0.8"/></g>
<path d="M45.5,183 C46.5,192 47.5,200 48.5,208" fill="none" stroke="#b8b8b8" stroke-width="0.6"/>
<path d="M49,186 C51,194 52.5,200 54,206" fill="none" stroke="#999" stroke-width="0.4"/>
<line x1="59.30" y1="180.40" x2="96.30" y2="180.40" stroke="#444" stroke-width="0.6"/>
<line x1="59.30" y1="180.40" x2="59.30" y2="200.00" stroke="#777" stroke-width="0.5"/>
<line x1="59.30" y1="200.00" x2="96.30" y2="200.00" stroke="#666" stroke-width="0.5"/>
<line x1="96.30" y1="180.00" x2="96.30" y2="200.30" stroke="#111" stroke-width="0.9"/>
<line x1="96.30" y1="180.60" x2="136.20" y2="180.60" stroke="#000" stroke-width="1.1"/>
<path d="M133.7,177.8 L140.2,180.6 L133.7,183.4 Z" fill="#000" stroke="none" stroke-width="1"/>
<text x="54.80" y="172.80" font-size="8.62" fill="#2b2b2b" textLength="42.00" lengthAdjust="spacingAndGlyphs">LSK - 0.17%</text>
<path d="M278.50,185.50 C280.53,184.70 285.58,185.22 290.00,185.20 C294.42,185.18 299.58,185.18 305.00,185.40 C310.42,185.62 319.08,185.82 322.50,186.50 C325.92,187.18 325.05,187.92 325.50,189.50 C325.95,191.08 325.45,194.50 325.20,196.00 C324.95,197.50 324.87,197.90 324.00,198.50 C323.13,199.10 319.92,199.10 320.00,199.60 C320.08,200.10 323.58,200.43 324.50,201.50 C325.42,202.57 325.32,203.58 325.50,206.00 C325.68,208.42 325.63,212.50 325.60,216.00 C325.57,219.50 325.73,224.67 325.30,227.00 C324.87,229.33 325.55,229.08 323.00,230.00 C320.45,230.92 314.67,231.78 310.00,232.50 C305.33,233.22 299.33,233.78 295.00,234.30 C290.67,234.82 286.58,235.48 284.00,235.60 C281.42,235.72 280.58,235.93 279.50,235.00 C278.42,234.07 277.88,233.33 277.50,230.00 C277.12,226.67 277.22,220.00 277.20,215.00 C277.18,210.00 277.30,204.17 277.40,200.00 C277.50,195.83 277.62,192.42 277.80,190.00 C277.98,187.58 276.47,186.30 278.50,185.50 Z" fill="#999" stroke="#888" stroke-width="6" filter="url(#bl2)" opacity="0.8"/>
<g fill="#333" opacity="0.6"><rect x="294.2" y="201.3" width="0.9" height="0.9"/><rect x="290.8" y="208.9" width="0.6" height="0.6"/><rect x="323.7" y="202.8" width="0.7" height="0.7"/><rect x="281.0" y="213.6" width="0.5" height="0.5"/><rect x="326.7" y="202.7" width="0.9" height="0.9"/><rect x="305.1" y="201.1" width="0.7" height="0.7"/><rect x="327.7" y="223.0" width="0.8" height="0.8"/><rect x="305.1" y="218.3" width="0.5" height="0.5"/><rect x="321.6" y="219.7" width="0.7" height="0.7"/><rect x="288.8" y="227.3" width="0.7" height="0.7"/><rect x="317.9" y="222.1" width="0.8" height="0.8"/><rect x="313.2" y="203.8" width="0.9" height="0.9"/><rect x="326.2" y="221.6" width="0.6" height="0.6"/><rect x="301.0" y="182.8" width="0.8" height="0.8"/><rect x="321.5" y="216.9" width="0.6" height="0.6"/><rect x="319.8" y="181.3" width="0.6" height="0.6"/><rect x="285.5" y="217.7" width="0.6" height="0.6"/><rect x="307.6" y="235.6" width="0.6" height="0.6"/><rect x="321.8" y="209.0" width="0.6" height="0.6"/><rect x="271.9" y="186.4" width="0.4" height="0.4"/><rect x="325.5" y="182.9" width="0.6" height="0.6"/><rect x="299.3" y="215.5" width="0.5" height="0.5"/><rect x="310.0" y="219.6" width="0.9" height="0.9"/><rect x="275.8" y="198.3" width="0.5" height="0.5"/><rect x="288.0" y="193.2" width="0.4" height="0.4"/><rect x="320.0" y="197.1" width="0.8" height="0.8"/><rect x="320.5" y="229.4" width="0.4" height="0.4"/><rect x="306.4" y="232.8" width="0.7" height="0.7"/><rect x="307.4" y="206.4" width="0.8" height="0.8"/><rect x="303.1" y="201.8" width="0.6" height="0.6"/><rect x="299.2" y="191.6" width="0.7" height="0.7"/><rect x="321.7" y="220.5" width="0.4" height="0.4"/><rect x="295.1" y="227.5" width="0.5" height="0.5"/><rect x="301.3" y="222.4" width="0.7" height="0.7"/><rect x="290.5" y="181.1" width="0.8" height="0.8"/><rect x="280.3" y="217.3" width="0.7" height="0.7"/><rect x="314.8" y="186.9" width="0.9" height="0.9"/><rect x="316.4" y="234.1" width="0.5" height="0.5"/><rect x="314.7" y="203.5" width="0.8" height="0.8"/><rect x="313.3" y="205.3" width="0.9" height="0.9"/><rect x="297.2" y="209.0" width="0.8" height="0.8"/><rect x="279.4" y="235.5" width="0.6" height="0.6"/><rect x="325.0" y="189.0" width="0.5" height="0.5"/><rect x="306.6" y="194.9" width="0.6" height="0.6"/><rect x="282.4" y="224.9" width="0.8" height="0.8"/><rect x="312.5" y="188.3" width="0.4" height="0.4"/><rect x="306.1" y="185.0" width="0.8" height="0.8"/><rect x="303.9" y="237.8" width="0.8" height="0.8"/><rect x="310.6" y="231.3" width="0.7" height="0.7"/><rect x="288.0" y="183.8" width="0.8" height="0.8"/><rect x="311.3" y="219.2" width="0.7" height="0.7"/><rect x="298.2" y="237.0" width="0.6" height="0.6"/><rect x="278.7" y="239.0" width="0.8" height="0.8"/><rect x="297.1" y="189.6" width="0.6" height="0.6"/><rect x="300.4" y="204.0" width="0.8" height="0.8"/><rect x="285.5" y="240.2" width="0.5" height="0.5"/><rect x="287.6" y="231.4" width="0.5" height="0.5"/><rect x="314.9" y="197.0" width="0.6" height="0.6"/><rect x="299.1" y="195.3" width="0.8" height="0.8"/><rect x="279.9" y="181.6" width="0.6" height="0.6"/><rect x="315.9" y="213.9" width="0.9" height="0.9"/><rect x="286.2" y="204.9" width="0.4" height="0.4"/><rect x="294.4" y="226.6" width="0.6" height="0.6"/><rect x="281.5" y="213.4" width="0.8" height="0.8"/><rect x="310.0" y="186.8" width="0.6" height="0.6"/><rect x="284.2" y="230.3" width="0.6" height="0.6"/><rect x="297.5" y="234.4" width="0.5" height="0.5"/><rect x="289.0" y="213.5" width="0.7" height="0.7"/><rect x="290.8" y="219.0" width="0.6" height="0.6"/><rect x="321.5" y="214.5" width="0.8" height="0.8"/><rect x="305.5" y="223.2" width="0.6" height="0.6"/><rect x="279.2" y="202.5" width="0.6" height="0.6"/><rect x="302.5" y="209.8" width="0.8" height="0.8"/><rect x="274.1" y="187.8" width="0.8" height="0.8"/><rect x="272.5" y="233.9" width="0.7" height="0.7"/><rect x="295.3" y="201.3" width="0.6" height="0.6"/><rect x="317.7" y="208.6" width="0.8" height="0.8"/><rect x="301.8" y="226.0" width="0.6" height="0.6"/><rect x="306.0" y="206.1" width="0.9" height="0.9"/><rect x="304.6" y="186.4" width="0.7" height="0.7"/><rect x="327.6" y="195.0" width="0.8" height="0.8"/><rect x="285.8" y="224.3" width="0.5" height="0.5"/><rect x="306.9" y="228.1" width="0.4" height="0.4"/><rect x="322.1" y="212.5" width="0.5" height="0.5"/><rect x="289.0" y="214.4" width="0.8" height="0.8"/><rect x="281.0" y="184.4" width="0.5" height="0.5"/><rect x="309.3" y="205.0" width="0.8" height="0.8"/><rect x="315.1" y="202.8" width="0.7" height="0.7"/><rect x="279.0" y="217.8" width="0.7" height="0.7"/><rect x="284.7" y="221.3" width="0.5" height="0.5"/><rect x="330.3" y="214.0" width="0.9" height="0.9"/><rect x="311.5" y="193.3" width="0.8" height="0.8"/><rect x="308.1" y="203.5" width="0.7" height="0.7"/><rect x="317.1" y="222.1" width="0.5" height="0.5"/><rect x="296.9" y="237.5" width="0.9" height="0.9"/><rect x="291.4" y="191.9" width="0.5" height="0.5"/><rect x="300.4" y="189.0" width="0.5" height="0.5"/><rect x="315.4" y="181.2" width="0.7" height="0.7"/><rect x="295.3" y="224.0" width="0.5" height="0.5"/><rect x="299.7" y="193.2" width="0.4" height="0.4"/><rect x="323.6" y="202.7" width="0.5" height="0.5"/><rect x="327.9" y="202.9" width="0.7" height="0.7"/><rect x="278.7" y="205.5" width="0.8" height="0.8"/><rect x="321.1" y="230.7" width="0.9" height="0.9"/><rect x="284.3" y="183.3" width="0.5" height="0.5"/><rect x="310.3" y="213.8" width="0.6" height="0.6"/><rect x="314.2" y="193.6" width="0.7" height="0.7"/><rect x="295.9" y="188.6" width="0.8" height="0.8"/><rect x="281.4" y="229.6" width="0.8" height="0.8"/><rect x="297.1" y="208.1" width="0.5" height="0.5"/><rect x="278.6" y="223.2" width="0.6" height="0.6"/><rect x="304.9" y="202.8" width="0.5" height="0.5"/><rect x="280.1" y="227.3" width="0.6" height="0.6"/><rect x="279.5" y="234.1" width="0.5" height="0.5"/><rect x="284.2" y="189.7" width="0.7" height="0.7"/><rect x="318.2" y="181.9" width="0.9" height="0.9"/><rect x="313.6" y="231.5" width="0.6" height="0.6"/><rect x="297.1" y="185.8" width="0.5" height="0.5"/><rect x="324.0" y="197.7" width="0.9" height="0.9"/><rect x="278.7" y="206.2" width="0.8" height="0.8"/><rect x="289.3" y="195.2" width="0.4" height="0.4"/><rect x="303.1" y="214.1" width="0.5" height="0.5"/><rect x="286.1" y="219.2" width="0.5" height="0.5"/><rect x="318.7" y="234.1" width="0.6" height="0.6"/><rect x="278.1" y="215.4" width="0.5" height="0.5"/><rect x="276.5" y="224.0" width="0.7" height="0.7"/><rect x="286.8" y="195.3" width="0.8" height="0.8"/><rect x="326.8" y="201.8" width="0.7" height="0.7"/><rect x="283.7" y="208.8" width="0.7" height="0.7"/><rect x="288.9" y="217.5" width="0.7" height="0.7"/><rect x="272.7" y="187.4" width="0.6" height="0.6"/><rect x="279.2" y="213.9" width="0.7" height="0.7"/><rect x="308.8" y="234.9" width="0.7" height="0.7"/><rect x="317.8" y="187.2" width="0.8" height="0.8"/><rect x="327.6" y="216.7" width="0.8" height="0.8"/><rect x="304.1" y="206.9" width="0.5" height="0.5"/><rect x="299.8" y="224.2" width="0.8" height="0.8"/><rect x="325.4" y="212.1" width="0.9" height="0.9"/><rect x="293.1" y="181.2" width="0.6" height="0.6"/><rect x="303.5" y="227.9" width="0.5" height="0.5"/><rect x="271.6" y="224.8" width="0.5" height="0.5"/><rect x="322.8" y="215.1" width="0.5" height="0.5"/><rect x="302.3" y="227.9" width="0.5" height="0.5"/><rect x="279.2" y="216.9" width="0.7" height="0.7"/><rect x="307.3" y="237.2" width="0.5" height="0.5"/><rect x="272.9" y="213.3" width="0.6" height="0.6"/><rect x="294.6" y="204.5" width="0.8" height="0.8"/><rect x="287.7" y="222.9" width="0.7" height="0.7"/><rect x="287.6" y="236.5" width="0.5" height="0.5"/><rect x="288.6" y="191.9" width="0.8" height="0.8"/><rect x="313.0" y="202.6" width="0.5" height="0.5"/><rect x="306.9" y="200.9" width="0.7" height="0.7"/><rect x="272.8" y="230.8" width="0.8" height="0.8"/><rect x="275.4" y="193.8" width="0.6" height="0.6"/><rect x="321.6" y="199.2" width="0.9" height="0.9"/><rect x="275.6" y="236.1" width="0.4" height="0.4"/><rect x="314.7" y="236.6" width="0.6" height="0.6"/><rect x="287.0" y="227.8" width="0.9" height="0.9"/><rect x="283.3" y="204.3" width="0.8" height="0.8"/><rect x="305.6" y="236.9" width="0.6" height="0.6"/><rect x="297.8" y="190.4" width="0.5" height="0.5"/><rect x="324.2" y="196.2" width="0.8" height="0.8"/><rect x="319.8" y="215.4" width="0.6" height="0.6"/><rect x="329.7" y="197.4" width="0.9" height="0.9"/><rect x="297.3" y="202.8" width="0.9" height="0.9"/><rect x="320.8" y="222.1" width="0.5" height="0.5"/><rect x="276.6" y="191.3" width="0.5" height="0.5"/><rect x="281.9" y="215.4" width="0.6" height="0.6"/><rect x="283.4" y="234.4" width="0.6" height="0.6"/><rect x="304.2" y="181.8" width="0.7" height="0.7"/><rect x="271.6" y="209.1" width="0.7" height="0.7"/><rect x="303.5" y="193.4" width="0.8" height="0.8"/><rect x="330.3" y="230.5" width="0.9" height="0.9"/><rect x="330.2" y="202.8" width="0.7" height="0.7"/><rect x="295.7" y="228.8" width="0.5" height="0.5"/><rect x="284.0" y="208.0" width="0.7" height="0.7"/><rect x="324.4" y="185.9" width="0.7" height="0.7"/><rect x="307.2" y="232.0" width="0.6" height="0.6"/><rect x="330.3" y="215.0" width="0.6" height="0.6"/><rect x="310.3" y="225.3" width="0.7" height="0.7"/><rect x="311.9" y="203.9" width="0.8" height="0.8"/><rect x="291.8" y="194.4" width="0.4" height="0.4"/><rect x="304.3" y="190.6" width="0.5" height="0.5"/><rect x="288.4" y="203.1" width="0.6" height="0.6"/><rect x="330.4" y="212.6" width="0.7" height="0.7"/><rect x="294.8" y="214.0" width="0.8" height="0.8"/><rect x="302.4" y="211.8" width="0.6" height="0.6"/><rect x="281.5" y="193.2" width="0.4" height="0.4"/><rect x="287.6" y="182.5" width="0.6" height="0.6"/><rect x="305.5" y="187.1" width="0.8" height="0.8"/><rect x="298.0" y="218.7" width="0.6" height="0.6"/><rect x="319.3" y="222.1" width="0.5" height="0.5"/><rect x="304.0" y="196.4" width="0.8" height="0.8"/><rect x="293.0" y="193.9" width="0.4" height="0.4"/><rect x="285.6" y="237.7" width="0.4" height="0.4"/><rect x="295.5" y="206.8" width="0.7" height="0.7"/><rect x="289.8" y="185.2" width="0.5" height="0.5"/><rect x="308.5" y="235.4" width="0.4" height="0.4"/><rect x="286.6" y="235.1" width="0.7" height="0.7"/><rect x="294.8" y="184.5" width="0.4" height="0.4"/><rect x="283.5" y="218.2" width="0.4" height="0.4"/><rect x="301.2" y="230.7" width="0.4" height="0.4"/><rect x="287.8" y="205.6" width="0.7" height="0.7"/><rect x="315.6" y="222.1" width="0.6" height="0.6"/><rect x="291.0" y="218.8" width="0.6" height="0.6"/><rect x="327.6" y="212.8" width="0.7" height="0.7"/><rect x="311.3" y="209.9" width="0.6" height="0.6"/><rect x="311.1" y="217.2" width="0.9" height="0.9"/><rect x="288.9" y="210.7" width="0.9" height="0.9"/><rect x="320.5" y="214.4" width="0.6" height="0.6"/><rect x="281.1" y="205.8" width="0.6" height="0.6"/><rect x="296.8" y="195.9" width="0.6" height="0.6"/><rect x="305.6" y="186.3" width="0.7" height="0.7"/><rect x="314.0" y="192.1" width="0.5" height="0.5"/><rect x="272.4" y="209.2" width="0.7" height="0.7"/><rect x="295.5" y="216.5" width="0.7" height="0.7"/><rect x="272.7" y="183.3" width="0.7" height="0.7"/><rect x="327.3" y="223.8" width="0.6" height="0.6"/><rect x="286.1" y="188.2" width="0.7" height="0.7"/><rect x="317.4" y="204.4" width="0.4" height="0.4"/><rect x="287.2" y="223.8" width="0.8" height="0.8"/><rect x="294.8" y="235.0" width="0.6" height="0.6"/><rect x="325.2" y="223.7" width="0.4" height="0.4"/><rect x="287.8" y="204.5" width="0.6" height="0.6"/><rect x="302.9" y="196.4" width="0.4" height="0.4"/><rect x="305.4" y="237.8" width="0.8" height="0.8"/><rect x="323.2" y="234.2" width="0.7" height="0.7"/><rect x="273.5" y="199.3" width="0.7" height="0.7"/><rect x="295.8" y="193.5" width="0.4" height="0.4"/><rect x="323.7" y="221.4" width="0.5" height="0.5"/><rect x="299.1" y="234.1" width="0.5" height="0.5"/><rect x="309.0" y="194.4" width="0.9" height="0.9"/><rect x="293.7" y="211.5" width="0.6" height="0.6"/><rect x="291.8" y="239.1" width="0.9" height="0.9"/><rect x="300.3" y="220.9" width="0.9" height="0.9"/><rect x="296.7" y="237.0" width="0.8" height="0.8"/><rect x="287.6" y="202.3" width="0.7" height="0.7"/><rect x="280.2" y="195.9" width="0.5" height="0.5"/><rect x="276.6" y="236.3" width="0.9" height="0.9"/><rect x="320.9" y="211.2" width="0.8" height="0.8"/><rect x="312.6" y="207.4" width="0.7" height="0.7"/><rect x="277.9" y="195.0" width="0.6" height="0.6"/><rect x="292.1" y="220.9" width="0.5" height="0.5"/><rect x="284.7" y="234.2" width="0.8" height="0.8"/><rect x="327.8" y="228.3" width="0.5" height="0.5"/><rect x="300.2" y="231.7" width="0.8" height="0.8"/><rect x="284.1" y="209.9" width="0.7" height="0.7"/><rect x="316.0" y="221.3" width="0.6" height="0.6"/><rect x="305.4" y="212.7" width="0.6" height="0.6"/><rect x="275.3" y="226.0" width="0.8" height="0.8"/><rect x="297.0" y="227.7" width="0.8" height="0.8"/><rect x="312.9" y="230.1" width="0.9" height="0.9"/><rect x="272.5" y="238.4" width="0.6" height="0.6"/><rect x="318.2" y="225.7" width="0.4" height="0.4"/><rect x="306.4" y="185.5" width="0.8" height="0.8"/><rect x="291.0" y="203.3" width="0.5" height="0.5"/><rect x="320.2" y="219.7" width="0.5" height="0.5"/><rect x="315.9" y="191.5" width="0.8" height="0.8"/><rect x="307.5" y="227.5" width="0.7" height="0.7"/><rect x="298.8" y="216.6" width="0.7" height="0.7"/><rect x="287.7" y="199.0" width="0.8" height="0.8"/><rect x="312.5" y="211.3" width="0.6" height="0.6"/><rect x="313.7" y="220.2" width="0.9" height="0.9"/><rect x="316.4" y="203.8" width="0.5" height="0.5"/><rect x="272.8" y="228.4" width="0.6" height="0.6"/><rect x="294.4" y="183.3" width="0.6" height="0.6"/><rect x="325.7" y="197.2" width="0.8" height="0.8"/><rect x="317.1" y="220.9" width="0.7" height="0.7"/><rect x="285.5" y="221.8" width="0.7" height="0.7"/><rect x="329.9" y="211.9" width="0.6" height="0.6"/><rect x="326.2" y="218.7" width="0.6" height="0.6"/><rect x="310.3" y="189.5" width="0.5" height="0.5"/><rect x="324.8" y="208.7" width="0.8" height="0.8"/><rect x="283.3" y="209.2" width="0.5" height="0.5"/><rect x="319.7" y="217.0" width="0.6" height="0.6"/><rect x="293.8" y="193.1" width="0.5" height="0.5"/><rect x="312.8" y="199.4" width="0.5" height="0.5"/><rect x="293.9" y="208.1" width="0.9" height="0.9"/><rect x="293.9" y="205.0" width="0.9" height="0.9"/><rect x="314.7" y="208.4" width="0.6" height="0.6"/><rect x="284.0" y="189.5" width="0.6" height="0.6"/><rect x="309.7" y="186.6" width="0.6" height="0.6"/><rect x="280.7" y="217.3" width="0.6" height="0.6"/><rect x="311.3" y="228.5" width="0.6" height="0.6"/><rect x="293.7" y="184.9" width="0.5" height="0.5"/><rect x="308.5" y="230.0" width="0.5" height="0.5"/><rect x="292.7" y="213.4" width="0.7" height="0.7"/><rect x="290.4" y="202.7" width="0.8" height="0.8"/><rect x="300.0" y="207.1" width="0.7" height="0.7"/><rect x="277.2" y="209.2" width="0.5" height="0.5"/><rect x="280.4" y="212.5" width="0.8" height="0.8"/><rect x="302.6" y="210.9" width="0.7" height="0.7"/><rect x="305.2" y="223.1" width="0.6" height="0.6"/><rect x="294.7" y="201.3" width="0.5" height="0.5"/><rect x="319.1" y="233.5" width="0.5" height="0.5"/><rect x="305.0" y="208.5" width="0.5" height="0.5"/><rect x="315.5" y="213.0" width="0.9" height="0.9"/><rect x="286.2" y="186.8" width="0.8" height="0.8"/><rect x="276.7" y="222.6" width="0.5" height="0.5"/><rect x="313.7" y="183.3" width="0.4" height="0.4"/><rect x="323.8" y="212.0" width="0.6" height="0.6"/><rect x="330.3" y="228.6" width="0.5" height="0.5"/><rect x="313.8" y="203.9" width="0.6" height="0.6"/><rect x="289.4" y="194.1" width="0.6" height="0.6"/><rect x="286.9" y="191.7" width="0.8" height="0.8"/><rect x="293.5" y="214.8" width="0.8" height="0.8"/><rect x="312.1" y="189.7" width="0.9" height="0.9"/><rect x="327.8" y="232.0" width="0.6" height="0.6"/><rect x="321.5" y="219.8" width="0.4" height="0.4"/><rect x="293.4" y="223.3" width="0.7" height="0.7"/><rect x="328.8" y="229.0" width="0.8" height="0.8"/><rect x="330.8" y="201.3" width="0.9" height="0.9"/><rect x="275.4" y="211.0" width="0.6" height="0.6"/><rect x="274.5" y="219.5" width="0.8" height="0.8"/><rect x="283.9" y="195.2" width="0.8" height="0.8"/><rect x="302.8" y="181.1" width="0.6" height="0.6"/><rect x="328.5" y="197.1" width="0.5" height="0.5"/><rect x="298.0" y="235.0" width="0.8" height="0.8"/><rect x="293.9" y="221.3" width="0.4" height="0.4"/><rect x="274.0" y="203.1" width="0.7" height="0.7"/><rect x="278.7" y="182.7" width="0.8" height="0.8"/><rect x="281.5" y="183.4" width="0.4" height="0.4"/><rect x="274.9" y="197.7" width="0.7" height="0.7"/><rect x="310.7" y="197.7" width="0.7" height="0.7"/><rect x="290.6" y="215.9" width="0.5" height="0.5"/><rect x="327.2" y="193.0" width="0.7" height="0.7"/><rect x="281.7" y="207.6" width="0.5" height="0.5"/><rect x="309.7" y="228.3" width="0.8" height="0.8"/><rect x="330.4" y="208.2" width="0.7" height="0.7"/><rect x="291.8" y="197.9" width="0.7" height="0.7"/><rect x="316.3" y="200.0" width="0.7" height="0.7"/><rect x="286.5" y="224.6" width="0.6" height="0.6"/><rect x="289.2" y="207.8" width="0.4" height="0.4"/><rect x="276.1" y="236.3" width="0.4" height="0.4"/><rect x="294.6" y="221.5" width="0.4" height="0.4"/><rect x="327.7" y="192.8" width="0.9" height="0.9"/><rect x="296.9" y="216.3" width="0.7" height="0.7"/><rect x="275.5" y="211.4" width="0.8" height="0.8"/><rect x="319.0" y="225.5" width="0.7" height="0.7"/><rect x="277.9" y="205.4" width="0.7" height="0.7"/><rect x="272.5" y="227.5" width="0.5" height="0.5"/><rect x="305.0" y="196.6" width="0.5" height="0.5"/><rect x="329.1" y="218.5" width="0.8" height="0.8"/><rect x="307.6" y="215.0" width="0.8" height="0.8"/><rect x="273.9" y="203.5" width="0.5" height="0.5"/><rect x="307.0" y="204.5" width="0.9" height="0.9"/><rect x="284.5" y="196.7" width="0.9" height="0.9"/><rect x="314.7" y="206.6" width="0.6" height="0.6"/><rect x="315.5" y="189.2" width="0.8" height="0.8"/><rect x="284.1" y="230.0" width="0.4" height="0.4"/><rect x="326.7" y="233.4" width="0.4" height="0.4"/><rect x="279.9" y="236.7" width="0.8" height="0.8"/><rect x="288.1" y="229.7" width="0.7" height="0.7"/><rect x="285.3" y="222.6" width="0.6" height="0.6"/><rect x="278.8" y="232.8" width="0.8" height="0.8"/><rect x="285.1" y="206.5" width="0.7" height="0.7"/><rect x="293.0" y="196.0" width="0.7" height="0.7"/><rect x="285.6" y="210.0" width="0.9" height="0.9"/><rect x="309.8" y="188.6" width="0.5" height="0.5"/><rect x="278.4" y="211.0" width="0.9" height="0.9"/><rect x="329.9" y="202.8" width="0.8" height="0.8"/><rect x="312.7" y="184.6" width="0.9" height="0.9"/><rect x="287.0" y="240.7" width="0.5" height="0.5"/><rect x="325.8" y="211.8" width="0.7" height="0.7"/><rect x="281.3" y="210.3" width="0.8" height="0.8"/><rect x="303.1" y="236.1" width="0.5" height="0.5"/><rect x="315.7" y="217.2" width="0.8" height="0.8"/><rect x="290.8" y="208.7" width="0.8" height="0.8"/><rect x="285.9" y="203.0" width="0.8" height="0.8"/><rect x="310.2" y="210.3" width="0.4" height="0.4"/><rect x="317.4" y="205.7" width="0.5" height="0.5"/><rect x="293.9" y="188.5" width="0.8" height="0.8"/><rect x="311.8" y="190.0" width="0.6" height="0.6"/><rect x="291.2" y="189.2" width="0.5" height="0.5"/><rect x="287.1" y="218.4" width="0.4" height="0.4"/><rect x="323.8" y="206.7" width="0.5" height="0.5"/><rect x="276.3" y="212.5" width="0.6" height="0.6"/><rect x="301.1" y="186.7" width="0.6" height="0.6"/><rect x="301.3" y="185.2" width="0.7" height="0.7"/><rect x="322.1" y="216.6" width="0.5" height="0.5"/><rect x="309.1" y="185.1" width="0.5" height="0.5"/><rect x="281.0" y="197.3" width="0.5" height="0.5"/><rect x="325.5" y="189.0" width="0.7" height="0.7"/><rect x="320.0" y="207.9" width="0.7" height="0.7"/><rect x="290.7" y="230.8" width="0.7" height="0.7"/><rect x="274.8" y="223.6" width="0.5" height="0.5"/><rect x="299.8" y="191.4" width="0.6" height="0.6"/><rect x="310.6" y="225.5" width="0.6" height="0.6"/><rect x="273.4" y="207.9" width="0.9" height="0.9"/><rect x="304.2" y="218.4" width="0.8" height="0.8"/><rect x="329.2" y="225.8" width="0.8" height="0.8"/><rect x="278.8" y="196.4" width="0.8" height="0.8"/><rect x="306.0" y="233.4" width="0.8" height="0.8"/><rect x="290.5" y="190.6" width="0.7" height="0.7"/><rect x="276.9" y="210.7" width="0.5" height="0.5"/><rect x="294.9" y="220.6" width="0.7" height="0.7"/><rect x="308.3" y="183.8" width="0.8" height="0.8"/><rect x="313.7" y="236.2" width="0.7" height="0.7"/><rect x="310.1" y="235.1" width="0.8" height="0.8"/><rect x="309.3" y="182.5" width="0.4" height="0.4"/><rect x="314.4" y="232.5" width="0.6" height="0.6"/><rect x="283.1" y="207.4" width="0.8" height="0.8"/><rect x="316.8" y="188.1" width="0.5" height="0.5"/><rect x="282.9" y="226.2" width="0.5" height="0.5"/><rect x="325.1" y="205.5" width="0.5" height="0.5"/><rect x="295.8" y="188.7" width="0.8" height="0.8"/><rect x="271.4" y="205.8" width="0.6" height="0.6"/><rect x="272.4" y="193.8" width="0.9" height="0.9"/><rect x="323.3" y="206.1" width="0.8" height="0.8"/><rect x="326.3" y="233.2" width="0.8" height="0.8"/><rect x="305.2" y="211.7" width="0.8" height="0.8"/><rect x="281.2" y="235.7" width="0.8" height="0.8"/><rect x="297.4" y="232.6" width="0.5" height="0.5"/><rect x="294.3" y="215.8" width="0.9" height="0.9"/><rect x="285.0" y="232.5" width="0.7" height="0.7"/><rect x="327.0" y="198.6" width="0.7" height="0.7"/><rect x="313.3" y="232.1" width="0.7" height="0.7"/><rect x="304.3" y="191.9" width="0.7" height="0.7"/><rect x="272.6" y="198.8" width="0.5" height="0.5"/><rect x="322.2" y="191.3" width="0.8" height="0.8"/><rect x="282.2" y="201.1" width="0.9" height="0.9"/><rect x="277.8" y="216.1" width="0.5" height="0.5"/><rect x="316.9" y="184.2" width="0.7" height="0.7"/><rect x="286.0" y="239.4" width="0.6" height="0.6"/><rect x="311.5" y="181.8" width="0.9" height="0.9"/><rect x="309.3" y="236.7" width="0.8" height="0.8"/><rect x="273.7" y="226.1" width="0.6" height="0.6"/><rect x="282.4" y="235.2" width="0.7" height="0.7"/><rect x="291.6" y="184.5" width="0.7" height="0.7"/><rect x="273.7" y="194.8" width="0.4" height="0.4"/><rect x="280.7" y="226.4" width="0.5" height="0.5"/><rect x="319.6" y="225.6" width="0.7" height="0.7"/><rect x="307.5" y="188.7" width="0.8" height="0.8"/><rect x="327.2" y="212.9" width="0.5" height="0.5"/><rect x="275.3" y="195.9" width="0.9" height="0.9"/><rect x="289.7" y="197.4" width="0.7" height="0.7"/><rect x="272.1" y="229.0" width="0.8" height="0.8"/><rect x="289.1" y="181.8" width="0.8" height="0.8"/><rect x="320.2" y="227.4" width="0.5" height="0.5"/><rect x="329.2" y="219.7" width="0.4" height="0.4"/><rect x="330.8" y="223.3" width="0.5" height="0.5"/><rect x="325.2" y="217.0" width="0.7" height="0.7"/><rect x="271.7" y="193.2" width="0.8" height="0.8"/><rect x="274.3" y="216.1" width="0.5" height="0.5"/><rect x="318.6" y="208.0" width="0.8" height="0.8"/><rect x="281.9" y="202.6" width="0.8" height="0.8"/><rect x="290.6" y="238.2" width="0.6" height="0.6"/><rect x="308.9" y="195.9" width="0.8" height="0.8"/><rect x="287.6" y="206.2" width="0.8" height="0.8"/><rect x="321.3" y="188.7" width="0.5" height="0.5"/><rect x="283.1" y="227.6" width="0.7" height="0.7"/><rect x="314.5" y="230.1" width="0.5" height="0.5"/><rect x="291.8" y="217.3" width="0.5" height="0.5"/><rect x="319.3" y="193.2" width="0.6" height="0.6"/><rect x="312.4" y="193.7" width="0.7" height="0.7"/><rect x="294.8" y="183.0" width="0.5" height="0.5"/><rect x="310.4" y="231.0" width="0.7" height="0.7"/><rect x="323.5" y="221.3" width="0.8" height="0.8"/><rect x="322.0" y="216.9" width="0.7" height="0.7"/><rect x="280.0" y="194.6" width="0.4" height="0.4"/><rect x="276.9" y="204.3" width="0.5" height="0.5"/><rect x="304.9" y="231.4" width="0.5" height="0.5"/><rect x="325.5" y="231.7" width="0.5" height="0.5"/><rect x="306.6" y="192.2" width="0.4" height="0.4"/><rect x="283.7" y="192.7" width="0.4" height="0.4"/><rect x="323.6" y="233.5" width="0.4" height="0.4"/><rect x="293.2" y="201.4" width="0.8" height="0.8"/><rect x="302.9" y="200.4" width="0.5" height="0.5"/><rect x="277.1" y="224.2" width="0.9" height="0.9"/><rect x="272.4" y="193.8" width="0.7" height="0.7"/><rect x="286.5" y="210.3" width="0.7" height="0.7"/><rect x="286.4" y="187.3" width="0.6" height="0.6"/><rect x="320.3" y="188.6" width="0.7" height="0.7"/><rect x="320.3" y="215.4" width="0.6" height="0.6"/><rect x="327.6" y="228.4" width="0.9" height="0.9"/><rect x="288.6" y="210.0" width="0.6" height="0.6"/><rect x="322.1" y="218.4" width="0.7" height="0.7"/><rect x="301.9" y="235.2" width="0.6" height="0.6"/><rect x="278.1" y="190.9" width="0.5" height="0.5"/><rect x="304.4" y="229.5" width="0.6" height="0.6"/><rect x="302.3" y="194.0" width="0.8" height="0.8"/><rect x="296.1" y="205.2" width="0.8" height="0.8"/><rect x="299.8" y="206.3" width="0.8" height="0.8"/><rect x="296.3" y="192.6" width="0.6" height="0.6"/><rect x="289.0" y="196.0" width="0.8" height="0.8"/><rect x="291.6" y="218.8" width="0.6" height="0.6"/><rect x="277.1" y="228.4" width="0.8" height="0.8"/><rect x="313.7" y="217.8" width="0.5" height="0.5"/><rect x="301.1" y="231.7" width="0.8" height="0.8"/><rect x="306.6" y="219.1" width="0.5" height="0.5"/><rect x="273.4" y="232.5" width="0.4" height="0.4"/><rect x="285.7" y="204.8" width="0.8" height="0.8"/><rect x="313.2" y="233.7" width="0.9" height="0.9"/><rect x="286.8" y="195.4" width="0.5" height="0.5"/><rect x="290.5" y="186.4" width="0.9" height="0.9"/><rect x="305.6" y="210.4" width="0.4" height="0.4"/><rect x="326.5" y="195.2" width="0.8" height="0.8"/><rect x="282.7" y="196.8" width="0.5" height="0.5"/><rect x="303.2" y="197.6" width="0.7" height="0.7"/><rect x="314.3" y="194.0" width="0.5" height="0.5"/><rect x="302.0" y="204.8" width="0.6" height="0.6"/><rect x="292.8" y="190.2" width="0.5" height="0.5"/><rect x="315.1" y="219.3" width="0.7" height="0.7"/><rect x="309.6" y="211.8" width="0.5" height="0.5"/><rect x="326.7" y="213.0" width="0.6" height="0.6"/><rect x="286.2" y="203.4" width="0.9" height="0.9"/><rect x="295.2" y="229.8" width="0.5" height="0.5"/><rect x="307.1" y="196.9" width="0.5" height="0.5"/><rect x="288.8" y="204.6" width="0.7" height="0.7"/><rect x="295.3" y="233.4" width="0.5" height="0.5"/><rect x="323.0" y="207.1" width="0.8" height="0.8"/><rect x="294.5" y="196.0" width="0.8" height="0.8"/><rect x="309.5" y="224.8" width="0.7" height="0.7"/><rect x="291.7" y="198.5" width="0.8" height="0.8"/><rect x="321.7" y="235.1" width="0.6" height="0.6"/><rect x="295.6" y="238.7" width="0.5" height="0.5"/><rect x="280.3" y="190.7" width="0.6" height="0.6"/><rect x="295.9" y="203.7" width="0.6" height="0.6"/><rect x="272.2" y="201.2" width="0.7" height="0.7"/><rect x="273.4" y="209.9" width="0.9" height="0.9"/><rect x="323.3" y="210.6" width="0.4" height="0.4"/><rect x="273.7" y="215.7" width="0.8" height="0.8"/><rect x="290.6" y="188.2" width="0.8" height="0.8"/><rect x="303.4" y="209.0" width="0.5" height="0.5"/><rect x="304.3" y="215.6" width="0.8" height="0.8"/><rect x="325.9" y="184.7" width="0.8" height="0.8"/><rect x="289.9" y="205.8" width="0.6" height="0.6"/><rect x="320.1" y="207.3" width="0.4" height="0.4"/><rect x="299.4" y="189.2" width="0.4" height="0.4"/><rect x="273.2" y="203.6" width="0.6" height="0.6"/><rect x="325.9" y="213.7" width="0.9" height="0.9"/><rect x="312.9" y="204.0" width="0.4" height="0.4"/><rect x="279.2" y="229.1" width="0.7" height="0.7"/><rect x="288.4" y="190.1" width="0.7" height="0.7"/><rect x="327.6" y="195.4" width="0.9" height="0.9"/><rect x="303.1" y="192.9" width="0.5" height="0.5"/><rect x="282.6" y="194.8" width="0.5" height="0.5"/><rect x="282.9" y="194.0" width="0.6" height="0.6"/><rect x="284.7" y="221.1" width="0.5" height="0.5"/><rect x="286.5" y="206.0" width="0.5" height="0.5"/><rect x="273.2" y="185.6" width="0.4" height="0.4"/><rect x="311.8" y="183.0" width="0.6" height="0.6"/><rect x="325.1" y="218.1" width="0.6" height="0.6"/><rect x="294.9" y="206.5" width="0.6" height="0.6"/><rect x="273.3" y="189.7" width="0.5" height="0.5"/><rect x="282.9" y="200.5" width="0.5" height="0.5"/><rect x="308.2" y="192.4" width="0.7" height="0.7"/><rect x="313.0" y="210.8" width="0.8" height="0.8"/><rect x="318.4" y="207.8" width="0.5" height="0.5"/><rect x="272.6" y="223.0" width="0.6" height="0.6"/><rect x="288.0" y="185.2" width="0.5" height="0.5"/><rect x="325.3" y="209.3" width="0.8" height="0.8"/><rect x="322.4" y="195.4" width="0.5" height="0.5"/><rect x="325.0" y="194.7" width="0.7" height="0.7"/><rect x="328.1" y="208.9" width="0.6" height="0.6"/><rect x="327.5" y="223.8" width="0.5" height="0.5"/><rect x="273.0" y="181.3" width="0.9" height="0.9"/><rect x="303.7" y="234.8" width="0.9" height="0.9"/><rect x="284.7" y="240.2" width="0.5" height="0.5"/><rect x="281.1" y="196.9" width="0.9" height="0.9"/><rect x="328.3" y="201.8" width="0.6" height="0.6"/><rect x="321.1" y="229.8" width="0.8" height="0.8"/><rect x="292.5" y="194.4" width="0.7" height="0.7"/><rect x="327.9" y="218.0" width="0.8" height="0.8"/><rect x="282.2" y="211.5" width="0.9" height="0.9"/><rect x="305.4" y="229.2" width="0.8" height="0.8"/><rect x="297.4" y="222.7" width="0.7" height="0.7"/><rect x="297.2" y="212.3" width="0.8" height="0.8"/><rect x="292.8" y="221.9" width="0.7" height="0.7"/><rect x="322.8" y="194.9" width="0.6" height="0.6"/><rect x="285.9" y="229.8" width="0.8" height="0.8"/><rect x="278.8" y="216.7" width="0.8" height="0.8"/><rect x="291.3" y="184.9" width="0.7" height="0.7"/><rect x="308.1" y="206.7" width="0.5" height="0.5"/><rect x="291.5" y="194.4" width="0.8" height="0.8"/><rect x="293.7" y="224.2" width="0.7" height="0.7"/><rect x="284.2" y="197.3" width="0.7" height="0.7"/><rect x="279.5" y="196.1" width="0.4" height="0.4"/><rect x="281.7" y="204.0" width="0.8" height="0.8"/><rect x="326.8" y="216.6" width="0.5" height="0.5"/><rect x="293.3" y="188.9" width="0.5" height="0.5"/><rect x="305.6" y="211.1" width="0.5" height="0.5"/><rect x="287.1" y="235.6" width="0.7" height="0.7"/><rect x="307.3" y="200.0" width="0.5" height="0.5"/><rect x="309.4" y="183.0" width="0.4" height="0.4"/><rect x="318.7" y="191.5" width="0.6" height="0.6"/><rect x="310.4" y="221.9" width="0.5" height="0.5"/><rect x="312.3" y="236.7" width="0.6" height="0.6"/><rect x="294.6" y="222.5" width="0.8" height="0.8"/><rect x="285.5" y="221.7" width="0.5" height="0.5"/><rect x="277.3" y="201.2" width="0.9" height="0.9"/><rect x="288.3" y="199.1" width="0.9" height="0.9"/><rect x="330.9" y="227.0" width="0.6" height="0.6"/><rect x="321.0" y="184.1" width="0.4" height="0.4"/><rect x="273.9" y="200.8" width="0.5" height="0.5"/><rect x="323.3" y="207.7" width="0.8" height="0.8"/><rect x="300.2" y="203.1" width="0.6" height="0.6"/><rect x="272.9" y="208.2" width="0.9" height="0.9"/><rect x="276.1" y="207.4" width="0.8" height="0.8"/><rect x="279.6" y="184.0" width="0.5" height="0.5"/><rect x="275.2" y="225.9" width="0.8" height="0.8"/><rect x="313.6" y="229.2" width="0.5" height="0.5"/><rect x="319.0" y="184.3" width="0.5" height="0.5"/><rect x="310.8" y="190.6" width="0.6" height="0.6"/><rect x="279.3" y="185.7" width="0.6" height="0.6"/><rect x="303.6" y="232.5" width="0.4" height="0.4"/><rect x="292.0" y="184.5" width="0.7" height="0.7"/><rect x="280.2" y="200.5" width="0.9" height="0.9"/><rect x="310.3" y="221.4" width="0.7" height="0.7"/><rect x="282.5" y="222.5" width="0.9" height="0.9"/><rect x="275.5" y="232.0" width="0.6" height="0.6"/><rect x="282.5" y="220.6" width="0.8" height="0.8"/><rect x="280.4" y="192.2" width="0.7" height="0.7"/><rect x="282.7" y="211.4" width="0.9" height="0.9"/><rect x="271.6" y="206.5" width="0.5" height="0.5"/><rect x="280.3" y="216.5" width="0.9" height="0.9"/><rect x="299.1" y="214.6" width="0.7" height="0.7"/><rect x="290.7" y="191.0" width="0.9" height="0.9"/><rect x="307.5" y="234.7" width="0.5" height="0.5"/><rect x="318.9" y="187.3" width="0.5" height="0.5"/><rect x="277.5" y="202.4" width="0.6" height="0.6"/><rect x="296.6" y="215.9" width="0.6" height="0.6"/><rect x="293.7" y="196.4" width="0.4" height="0.4"/><rect x="285.9" y="224.8" width="0.8" height="0.8"/><rect x="312.5" y="207.3" width="0.6" height="0.6"/><rect x="281.7" y="195.0" width="0.9" height="0.9"/><rect x="306.4" y="205.1" width="0.7" height="0.7"/><rect x="300.5" y="198.2" width="0.6" height="0.6"/><rect x="296.7" y="235.7" width="0.8" height="0.8"/><rect x="287.9" y="208.2" width="0.5" height="0.5"/><rect x="329.1" y="188.4" width="0.6" height="0.6"/><rect x="279.4" y="211.0" width="0.6" height="0.6"/><rect x="288.8" y="183.4" width="0.6" height="0.6"/><rect x="291.6" y="186.4" width="0.7" height="0.7"/><rect x="283.6" y="213.0" width="0.8" height="0.8"/><rect x="309.5" y="235.4" width="0.7" height="0.7"/><rect x="321.9" y="221.1" width="0.5" height="0.5"/><rect x="320.4" y="226.9" width="0.6" height="0.6"/><rect x="327.4" y="183.0" width="0.9" height="0.9"/><rect x="292.2" y="213.6" width="0.8" height="0.8"/><rect x="280.4" y="210.8" width="0.4" height="0.4"/><rect x="272.2" y="239.3" width="0.5" height="0.5"/><rect x="296.5" y="187.5" width="0.9" height="0.9"/><rect x="301.4" y="233.0" width="0.5" height="0.5"/><rect x="298.7" y="195.3" width="0.7" height="0.7"/><rect x="313.8" y="215.6" width="0.7" height="0.7"/><rect x="289.2" y="239.0" width="0.4" height="0.4"/><rect x="280.3" y="221.4" width="0.9" height="0.9"/><rect x="322.5" y="195.3" width="0.9" height="0.9"/><rect x="298.3" y="215.4" width="0.7" height="0.7"/><rect x="308.3" y="234.5" width="0.8" height="0.8"/><rect x="289.6" y="235.3" width="0.6" height="0.6"/><rect x="312.4" y="189.8" width="0.7" height="0.7"/><rect x="311.2" y="204.0" width="0.9" height="0.9"/><rect x="277.2" y="226.3" width="0.7" height="0.7"/><rect x="271.1" y="208.5" width="0.5" height="0.5"/><rect x="309.4" y="213.7" width="0.5" height="0.5"/><rect x="327.9" y="215.6" width="0.7" height="0.7"/><rect x="286.3" y="189.5" width="0.6" height="0.6"/><rect x="272.2" y="192.5" width="0.6" height="0.6"/><rect x="294.2" y="227.1" width="0.5" height="0.5"/><rect x="282.8" y="212.4" width="0.7" height="0.7"/><rect x="289.5" y="192.8" width="0.5" height="0.5"/><rect x="292.5" y="203.5" width="0.8" height="0.8"/><rect x="284.9" y="201.1" width="0.8" height="0.8"/><rect x="282.8" y="182.4" width="0.9" height="0.9"/><rect x="326.7" y="199.6" width="0.5" height="0.5"/><rect x="298.5" y="193.0" width="0.8" height="0.8"/><rect x="324.9" y="224.2" width="0.6" height="0.6"/><rect x="281.4" y="221.4" width="0.5" height="0.5"/><rect x="295.4" y="225.9" width="0.5" height="0.5"/><rect x="273.9" y="211.8" width="0.4" height="0.4"/><rect x="298.3" y="232.9" width="0.7" height="0.7"/><rect x="286.5" y="193.1" width="0.7" height="0.7"/><rect x="301.6" y="236.0" width="0.5" height="0.5"/><rect x="298.9" y="207.8" width="0.6" height="0.6"/><rect x="281.5" y="203.8" width="0.7" height="0.7"/><rect x="282.0" y="199.9" width="0.7" height="0.7"/><rect x="328.3" y="209.9" width="0.6" height="0.6"/><rect x="272.1" y="212.1" width="0.6" height="0.6"/><rect x="277.2" y="209.4" width="0.7" height="0.7"/><rect x="291.8" y="225.6" width="0.7" height="0.7"/><rect x="273.9" y="183.1" width="0.7" height="0.7"/><rect x="307.5" y="214.5" width="0.5" height="0.5"/><rect x="291.4" y="224.5" width="0.6" height="0.6"/><rect x="302.8" y="194.2" width="0.7" height="0.7"/><rect x="316.8" y="229.8" width="0.9" height="0.9"/><rect x="328.4" y="223.5" width="0.6" height="0.6"/><rect x="286.5" y="223.6" width="0.6" height="0.6"/><rect x="290.0" y="187.2" width="0.7" height="0.7"/><rect x="314.1" y="227.7" width="0.5" height="0.5"/><rect x="282.7" y="219.5" width="0.5" height="0.5"/><rect x="309.1" y="196.2" width="0.7" height="0.7"/><rect x="317.5" y="201.4" width="0.7" height="0.7"/><rect x="307.3" y="236.3" width="0.8" height="0.8"/><rect x="311.5" y="213.8" width="0.8" height="0.8"/><rect x="307.4" y="222.7" width="0.6" height="0.6"/><rect x="276.7" y="214.6" width="0.5" height="0.5"/><rect x="325.5" y="200.7" width="0.5" height="0.5"/><rect x="305.8" y="200.0" width="0.9" height="0.9"/><rect x="308.3" y="186.3" width="0.6" height="0.6"/><rect x="276.9" y="210.6" width="0.7" height="0.7"/><rect x="289.6" y="221.7" width="0.6" height="0.6"/><rect x="320.8" y="222.1" width="0.5" height="0.5"/><rect x="321.5" y="181.8" width="0.5" height="0.5"/><rect x="303.2" y="232.2" width="0.9" height="0.9"/><rect x="275.7" y="235.8" width="0.4" height="0.4"/><rect x="313.5" y="229.2" width="0.6" height="0.6"/><rect x="325.2" y="227.5" width="0.6" height="0.6"/><rect x="287.4" y="189.9" width="0.4" height="0.4"/><rect x="303.6" y="212.5" width="0.5" height="0.5"/><rect x="302.9" y="184.9" width="0.6" height="0.6"/><rect x="311.5" y="189.4" width="0.7" height="0.7"/><rect x="278.3" y="234.7" width="0.5" height="0.5"/><rect x="329.8" y="197.5" width="0.7" height="0.7"/><rect x="312.9" y="182.3" width="0.5" height="0.5"/><rect x="276.5" y="201.6" width="0.9" height="0.9"/><rect x="318.9" y="200.2" width="0.8" height="0.8"/><rect x="294.1" y="184.7" width="0.9" height="0.9"/><rect x="309.7" y="218.5" width="0.5" height="0.5"/><rect x="299.5" y="235.6" width="0.7" height="0.7"/><rect x="309.6" y="208.5" width="0.6" height="0.6"/><rect x="281.5" y="185.7" width="0.4" height="0.4"/><rect x="313.3" y="231.5" width="0.5" height="0.5"/><rect x="322.7" y="203.6" width="0.8" height="0.8"/><rect x="284.7" y="198.5" width="0.7" height="0.7"/><rect x="283.9" y="196.0" width="0.8" height="0.8"/><rect x="310.6" y="201.7" width="0.6" height="0.6"/><rect x="306.3" y="216.7" width="0.9" height="0.9"/><rect x="299.6" y="207.7" width="0.4" height="0.4"/><rect x="290.1" y="209.9" width="0.4" height="0.4"/><rect x="297.3" y="187.2" width="0.5" height="0.5"/><rect x="277.1" y="216.4" width="0.6" height="0.6"/><rect x="273.3" y="198.4" width="0.7" height="0.7"/><rect x="296.4" y="215.3" width="0.4" height="0.4"/><rect x="308.0" y="217.9" width="0.5" height="0.5"/><rect x="305.2" y="237.9" width="0.8" height="0.8"/><rect x="308.2" y="212.3" width="0.8" height="0.8"/><rect x="298.1" y="223.8" width="0.6" height="0.6"/><rect x="304.4" y="225.5" width="0.7" height="0.7"/><rect x="307.4" y="203.8" width="0.6" height="0.6"/><rect x="310.6" y="207.6" width="0.6" height="0.6"/><rect x="293.5" y="198.0" width="0.7" height="0.7"/><rect x="324.4" y="192.1" width="0.7" height="0.7"/><rect x="302.9" y="219.5" width="0.7" height="0.7"/><rect x="292.5" y="212.3" width="0.7" height="0.7"/><rect x="327.5" y="220.8" width="0.7" height="0.7"/><rect x="291.7" y="229.3" width="0.5" height="0.5"/><rect x="324.9" y="210.4" width="0.6" height="0.6"/><rect x="312.9" y="213.7" width="0.9" height="0.9"/><rect x="277.5" y="183.9" width="0.7" height="0.7"/><rect x="284.0" y="194.1" width="0.9" height="0.9"/><rect x="302.8" y="198.2" width="0.6" height="0.6"/><rect x="284.0" y="195.6" width="0.5" height="0.5"/><rect x="330.5" y="225.6" width="0.6" height="0.6"/><rect x="325.2" y="185.9" width="0.8" height="0.8"/><rect x="297.3" y="207.0" width="0.4" height="0.4"/><rect x="305.7" y="194.8" width="0.8" height="0.8"/><rect x="283.9" y="234.7" width="0.6" height="0.6"/><rect x="320.0" y="224.3" width="0.9" height="0.9"/><rect x="305.7" y="202.3" width="0.5" height="0.5"/><rect x="284.6" y="186.4" width="0.5" height="0.5"/><rect x="289.7" y="231.0" width="0.4" height="0.4"/><rect x="301.1" y="211.5" width="0.5" height="0.5"/><rect x="313.0" y="192.9" width="0.8" height="0.8"/><rect x="280.5" y="234.5" width="0.6" height="0.6"/><rect x="275.9" y="189.3" width="0.5" height="0.5"/><rect x="278.2" y="199.5" width="0.9" height="0.9"/><rect x="293.2" y="204.4" width="0.8" height="0.8"/><rect x="274.6" y="185.4" width="0.8" height="0.8"/><rect x="290.3" y="190.8" width="0.5" height="0.5"/><rect x="294.7" y="224.1" width="0.6" height="0.6"/><rect x="282.6" y="199.5" width="0.6" height="0.6"/><rect x="285.5" y="229.2" width="0.4" height="0.4"/><rect x="294.0" y="225.6" width="0.4" height="0.4"/><rect x="329.7" y="218.1" width="0.7" height="0.7"/><rect x="281.9" y="192.6" width="0.8" height="0.8"/><rect x="320.7" y="192.4" width="0.4" height="0.4"/><rect x="307.0" y="185.9" width="0.8" height="0.8"/><rect x="322.3" y="197.7" width="0.5" height="0.5"/><rect x="301.8" y="226.5" width="0.4" height="0.4"/><rect x="313.7" y="187.7" width="0.6" height="0.6"/><rect x="280.2" y="185.0" width="0.7" height="0.7"/><rect x="288.6" y="236.5" width="0.9" height="0.9"/><rect x="315.0" y="211.7" width="0.7" height="0.7"/><rect x="290.6" y="209.1" width="0.7" height="0.7"/><rect x="296.1" y="207.6" width="0.8" height="0.8"/><rect x="323.2" y="198.9" width="0.4" height="0.4"/><rect x="283.8" y="211.0" width="0.8" height="0.8"/><rect x="318.3" y="198.5" width="0.4" height="0.4"/><rect x="299.9" y="200.5" width="0.8" height="0.8"/><rect x="326.1" y="213.4" width="0.8" height="0.8"/><rect x="315.1" y="212.2" width="0.6" height="0.6"/><rect x="329.1" y="229.4" width="0.7" height="0.7"/><rect x="317.7" y="214.1" width="0.6" height="0.6"/><rect x="277.9" y="216.0" width="0.8" height="0.8"/><rect x="280.9" y="235.7" width="0.9" height="0.9"/><rect x="282.0" y="214.3" width="0.6" height="0.6"/><rect x="290.8" y="187.4" width="0.5" height="0.5"/><rect x="328.4" y="232.1" width="0.9" height="0.9"/><rect x="300.9" y="211.0" width="0.4" height="0.4"/><rect x="296.5" y="216.1" width="0.9" height="0.9"/><rect x="274.0" y="220.7" width="0.4" height="0.4"/><rect x="313.0" y="219.3" width="0.5" height="0.5"/><rect x="298.6" y="206.2" width="0.5" height="0.5"/><rect x="294.6" y="183.9" width="0.8" height="0.8"/><rect x="330.2" y="213.6" width="0.6" height="0.6"/><rect x="301.9" y="188.9" width="0.8" height="0.8"/><rect x="312.8" y="186.4" width="0.6" height="0.6"/><rect x="277.6" y="223.5" width="0.4" height="0.4"/><rect x="324.0" y="184.0" width="0.8" height="0.8"/><rect x="281.9" y="212.8" width="0.8" height="0.8"/><rect x="279.4" y="224.4" width="0.6" height="0.6"/><rect x="280.4" y="208.6" width="0.9" height="0.9"/><rect x="303.6" y="234.7" width="0.6" height="0.6"/><rect x="285.4" y="232.8" width="0.5" height="0.5"/><rect x="312.7" y="198.2" width="0.4" height="0.4"/><rect x="280.4" y="232.7" width="0.5" height="0.5"/><rect x="326.9" y="189.1" width="0.9" height="0.9"/><rect x="273.3" y="220.9" width="0.7" height="0.7"/><rect x="307.0" y="237.4" width="0.5" height="0.5"/><rect x="320.2" y="195.5" width="0.9" height="0.9"/><rect x="314.7" y="209.2" width="0.5" height="0.5"/><rect x="324.5" y="214.7" width="0.9" height="0.9"/><rect x="324.8" y="226.4" width="0.8" height="0.8"/><rect x="280.4" y="231.5" width="0.8" height="0.8"/><rect x="276.1" y="184.3" width="0.5" height="0.5"/><rect x="283.6" y="227.4" width="0.8" height="0.8"/><rect x="313.1" y="202.9" width="0.9" height="0.9"/><rect x="279.4" y="194.1" width="0.6" height="0.6"/><rect x="286.2" y="225.6" width="0.8" height="0.8"/><rect x="316.1" y="200.1" width="0.7" height="0.7"/><rect x="289.5" y="214.0" width="0.7" height="0.7"/><rect x="279.5" y="232.4" width="0.8" height="0.8"/><rect x="318.2" y="185.7" width="0.5" height="0.5"/><rect x="316.5" y="230.1" width="0.7" height="0.7"/><rect x="327.8" y="206.4" width="0.5" height="0.5"/><rect x="299.4" y="198.7" width="0.6" height="0.6"/><rect x="318.5" y="200.1" width="0.8" height="0.8"/><rect x="306.8" y="181.3" width="0.7" height="0.7"/><rect x="323.8" y="220.2" width="0.8" height="0.8"/><rect x="272.4" y="206.4" width="0.5" height="0.5"/><rect x="316.9" y="198.2" width="0.7" height="0.7"/><rect x="310.6" y="181.1" width="0.7" height="0.7"/><rect x="290.4" y="195.7" width="0.7" height="0.7"/><rect x="309.2" y="193.2" width="0.8" height="0.8"/><rect x="274.7" y="183.4" width="0.8" height="0.8"/><rect x="305.3" y="212.8" width="0.7" height="0.7"/><rect x="297.0" y="192.5" width="0.7" height="0.7"/><rect x="296.2" y="230.2" width="0.9" height="0.9"/><rect x="308.4" y="185.1" width="0.7" height="0.7"/><rect x="278.0" y="213.3" width="0.8" height="0.8"/><rect x="311.7" y="209.0" width="0.5" height="0.5"/><rect x="300.3" y="183.2" width="0.7" height="0.7"/><rect x="294.9" y="204.6" width="0.6" height="0.6"/><rect x="287.0" y="188.7" width="0.7" height="0.7"/><rect x="302.1" y="206.7" width="0.8" height="0.8"/><rect x="301.2" y="190.0" width="0.5" height="0.5"/><rect x="304.6" y="221.3" width="0.7" height="0.7"/><rect x="316.3" y="202.2" width="0.8" height="0.8"/><rect x="306.1" y="195.8" width="0.5" height="0.5"/><rect x="308.8" y="232.5" width="0.9" height="0.9"/><rect x="320.6" y="231.0" width="0.7" height="0.7"/><rect x="285.2" y="198.4" width="0.8" height="0.8"/><rect x="286.9" y="210.0" width="0.7" height="0.7"/><rect x="282.4" y="229.4" width="0.8" height="0.8"/><rect x="275.4" y="190.1" width="0.9" height="0.9"/><rect x="280.3" y="229.6" width="0.7" height="0.7"/><rect x="324.1" y="225.7" width="0.4" height="0.4"/><rect x="317.7" y="224.4" width="0.4" height="0.4"/><rect x="328.4" y="198.1" width="0.6" height="0.6"/><rect x="302.5" y="214.4" width="0.7" height="0.7"/><rect x="274.1" y="232.9" width="0.7" height="0.7"/><rect x="276.1" y="211.2" width="0.5" height="0.5"/><rect x="296.8" y="224.6" width="0.8" height="0.8"/><rect x="280.0" y="197.8" width="0.9" height="0.9"/><rect x="309.0" y="191.5" width="0.7" height="0.7"/><rect x="285.4" y="184.6" width="0.7" height="0.7"/><rect x="276.9" y="188.7" width="0.7" height="0.7"/><rect x="316.4" y="188.9" width="0.4" height="0.4"/><rect x="315.3" y="236.3" width="0.4" height="0.4"/><rect x="279.3" y="182.9" width="0.6" height="0.6"/><rect x="290.0" y="191.9" width="0.8" height="0.8"/><rect x="276.5" y="219.2" width="0.5" height="0.5"/><rect x="310.5" y="188.0" width="0.5" height="0.5"/><rect x="298.0" y="221.0" width="0.9" height="0.9"/><rect x="304.0" y="187.2" width="0.7" height="0.7"/><rect x="312.4" y="216.2" width="0.6" height="0.6"/><rect x="320.8" y="183.9" width="0.7" height="0.7"/><rect x="303.7" y="236.9" width="0.8" height="0.8"/><rect x="284.8" y="203.7" width="0.7" height="0.7"/><rect x="293.6" y="183.9" width="0.9" height="0.9"/><rect x="298.2" y="188.7" width="0.5" height="0.5"/><rect x="278.7" y="214.9" width="0.9" height="0.9"/><rect x="317.6" y="216.7" width="0.5" height="0.5"/><rect x="311.8" y="230.0" width="0.5" height="0.5"/><rect x="284.2" y="205.5" width="0.7" height="0.7"/><rect x="325.2" y="216.6" width="0.5" height="0.5"/><rect x="315.0" y="189.3" width="0.5" height="0.5"/><rect x="305.9" y="208.8" width="0.7" height="0.7"/></g>
<path d="M278.50,185.50 C280.53,184.70 285.58,185.22 290.00,185.20 C294.42,185.18 299.58,185.18 305.00,185.40 C310.42,185.62 319.08,185.82 322.50,186.50 C325.92,187.18 325.05,187.92 325.50,189.50 C325.95,191.08 325.45,194.50 325.20,196.00 C324.95,197.50 324.87,197.90 324.00,198.50 C323.13,199.10 319.92,199.10 320.00,199.60 C320.08,200.10 323.58,200.43 324.50,201.50 C325.42,202.57 325.32,203.58 325.50,206.00 C325.68,208.42 325.63,212.50 325.60,216.00 C325.57,219.50 325.73,224.67 325.30,227.00 C324.87,229.33 325.55,229.08 323.00,230.00 C320.45,230.92 314.67,231.78 310.00,232.50 C305.33,233.22 299.33,233.78 295.00,234.30 C290.67,234.82 286.58,235.48 284.00,235.60 C281.42,235.72 280.58,235.93 279.50,235.00 C278.42,234.07 277.88,233.33 277.50,230.00 C277.12,226.67 277.22,220.00 277.20,215.00 C277.18,210.00 277.30,204.17 277.40,200.00 C277.50,195.83 277.62,192.42 277.80,190.00 C277.98,187.58 276.47,186.30 278.50,185.50 Z" fill="#f2f2f2" stroke="#222" stroke-width="1.0"/>
<path d="M286.50,191.50 C288.80,190.00 294.75,190.95 300.00,191.00 C305.25,191.05 314.75,191.22 318.00,191.80 C321.25,192.38 319.83,193.55 319.50,194.50 C319.17,195.45 317.58,196.62 316.00,197.50 C314.42,198.38 310.33,199.02 310.00,199.80 C309.67,200.58 312.42,201.33 314.00,202.20 C315.58,203.07 318.47,202.87 319.50,205.00 C320.53,207.13 320.23,211.67 320.20,215.00 C320.17,218.33 321.00,222.92 319.30,225.00 C317.60,227.08 313.88,226.70 310.00,227.50 C306.12,228.30 299.67,229.30 296.00,229.80 C292.33,230.30 289.53,232.97 288.00,230.50 C286.47,228.03 287.10,220.08 286.80,215.00 C286.50,209.92 286.25,203.92 286.20,200.00 C286.15,196.08 284.20,193.00 286.50,191.50 Z" fill="#e6e6e6" stroke="none" stroke-width="1"/>
<path d="M280.95,188.15 C282.78,187.43 287.32,187.89 291.30,187.88 C295.28,187.87 299.93,187.87 304.80,188.06 C309.68,188.25 317.48,188.44 320.55,189.05 C323.62,189.67 322.85,190.32 323.25,191.75 C323.65,193.18 323.21,196.25 322.98,197.60 C322.75,198.95 322.68,199.31 321.90,199.85 C321.12,200.39 318.23,200.39 318.30,200.84 C318.38,201.29 321.53,201.59 322.35,202.55 C323.18,203.51 323.08,204.43 323.25,206.60 C323.42,208.77 323.37,212.45 323.34,215.60 C323.31,218.75 323.46,223.40 323.07,225.50 C322.68,227.60 323.30,227.38 321.00,228.20 C318.70,229.02 313.50,229.80 309.30,230.45 C305.10,231.09 299.70,231.61 295.80,232.07 C291.90,232.54 288.22,233.14 285.90,233.24 C283.57,233.34 282.83,233.54 281.85,232.70 C280.88,231.86 280.40,231.20 280.05,228.20 C279.70,225.20 279.79,219.20 279.78,214.70 C279.76,210.20 279.87,204.95 279.96,201.20 C280.05,197.45 280.15,194.38 280.32,192.20 C280.49,190.02 279.12,188.87 280.95,188.15 Z" fill="none" stroke="#444" stroke-width="0.45"/>
<path d="M282.71,190.06 C284.40,189.40 288.58,189.82 292.24,189.81 C295.89,189.80 300.17,189.80 304.66,189.98 C309.14,190.15 316.32,190.32 319.15,190.89 C321.98,191.45 321.26,192.06 321.63,193.37 C322.00,194.68 321.59,197.51 321.38,198.75 C321.17,199.99 321.11,200.33 320.39,200.82 C319.67,201.32 317.01,201.32 317.08,201.73 C317.15,202.15 320.04,202.42 320.80,203.31 C321.56,204.19 321.48,205.03 321.63,207.03 C321.78,209.03 321.74,212.41 321.71,215.31 C321.69,218.21 321.82,222.49 321.46,224.42 C321.11,226.35 321.67,226.15 319.56,226.90 C317.45,227.66 312.66,228.38 308.80,228.97 C304.93,229.57 299.96,230.04 296.38,230.46 C292.79,230.89 289.41,231.44 287.27,231.54 C285.13,231.64 284.44,231.82 283.54,231.04 C282.64,230.27 282.20,229.66 281.89,226.90 C281.57,224.14 281.65,218.62 281.64,214.48 C281.62,210.34 281.72,205.51 281.80,202.06 C281.89,198.61 281.98,195.78 282.13,193.78 C282.29,191.78 281.03,190.72 282.71,190.06 Z" fill="none" stroke="#555" stroke-width="0.45"/>
<path d="M284.48,191.97 C286.02,191.36 289.83,191.75 293.17,191.74 C296.51,191.73 300.42,191.73 304.51,191.89 C308.61,192.05 315.16,192.21 317.74,192.72 C320.33,193.24 319.67,193.79 320.01,194.99 C320.35,196.19 319.97,198.77 319.78,199.90 C319.59,201.04 319.53,201.34 318.88,201.79 C318.22,202.25 315.79,202.25 315.85,202.63 C315.91,203.00 318.56,203.26 319.25,204.06 C319.95,204.87 319.87,205.64 320.01,207.46 C320.15,209.29 320.11,212.38 320.09,215.02 C320.06,217.67 320.19,221.58 319.86,223.34 C319.53,225.10 320.05,224.92 318.12,225.61 C316.19,226.30 311.82,226.96 308.29,227.50 C304.76,228.04 300.23,228.47 296.95,228.86 C293.68,229.25 290.59,229.75 288.64,229.84 C286.68,229.93 286.05,230.09 285.23,229.39 C284.41,228.68 284.01,228.13 283.72,225.61 C283.43,223.09 283.51,218.05 283.50,214.27 C283.48,210.49 283.57,206.08 283.65,202.93 C283.72,199.78 283.81,197.19 283.95,195.37 C284.09,193.54 282.94,192.57 284.48,191.97 Z" fill="none" stroke="#555" stroke-width="0.45"/>
<path d="M286.24,193.87 C287.63,193.33 291.09,193.68 294.11,193.67 C297.13,193.66 300.66,193.66 304.37,193.81 C308.07,193.95 314.00,194.09 316.34,194.56 C318.68,195.03 318.08,195.53 318.39,196.61 C318.70,197.69 318.36,200.03 318.18,201.06 C318.01,202.08 317.96,202.36 317.36,202.77 C316.77,203.18 314.57,203.18 314.63,203.52 C314.69,203.86 317.08,204.09 317.71,204.82 C318.33,205.55 318.26,206.24 318.39,207.90 C318.52,209.55 318.48,212.34 318.46,214.74 C318.44,217.13 318.55,220.66 318.25,222.26 C317.96,223.86 318.42,223.69 316.68,224.31 C314.94,224.94 310.98,225.53 307.79,226.02 C304.60,226.51 300.49,226.90 297.53,227.25 C294.56,227.61 291.77,228.06 290.00,228.14 C288.24,228.22 287.67,228.37 286.93,227.73 C286.19,227.09 285.82,226.59 285.56,224.31 C285.30,222.03 285.36,217.47 285.35,214.05 C285.34,210.63 285.42,206.64 285.49,203.79 C285.56,200.94 285.64,198.60 285.76,196.95 C285.89,195.30 284.85,194.42 286.24,193.87 Z" fill="none" stroke="#666" stroke-width="0.45"/>
<path d="M288.01,195.78 C289.25,195.29 292.34,195.61 295.04,195.60 C297.75,195.59 300.91,195.59 304.22,195.72 C307.54,195.85 312.84,195.98 314.93,196.39 C317.03,196.81 316.49,197.26 316.77,198.23 C317.05,199.20 316.74,201.29 316.59,202.21 C316.43,203.13 316.38,203.37 315.85,203.74 C315.32,204.11 313.35,204.11 313.40,204.41 C313.45,204.72 315.60,204.92 316.16,205.57 C316.72,206.23 316.66,206.85 316.77,208.33 C316.88,209.81 316.85,212.31 316.83,214.45 C316.81,216.59 316.91,219.75 316.65,221.18 C316.38,222.61 316.80,222.45 315.24,223.02 C313.68,223.58 310.14,224.11 307.28,224.55 C304.43,224.98 300.76,225.33 298.10,225.65 C295.45,225.96 292.95,226.37 291.37,226.44 C289.79,226.51 289.28,226.65 288.62,226.08 C287.95,225.50 287.63,225.06 287.39,223.02 C287.16,220.98 287.22,216.90 287.21,213.84 C287.20,210.78 287.27,207.21 287.33,204.66 C287.39,202.11 287.47,200.02 287.58,198.54 C287.69,197.06 286.76,196.27 288.01,195.78 Z" fill="none" stroke="#666" stroke-width="0.45"/>
<path d="M289.77,197.69 C290.87,197.26 293.60,197.54 295.98,197.53 C298.37,197.52 301.15,197.52 304.08,197.64 C307.00,197.75 311.68,197.86 313.53,198.23 C315.38,198.60 314.91,199.00 315.15,199.85 C315.39,200.70 315.12,202.55 314.99,203.36 C314.85,204.17 314.81,204.39 314.34,204.71 C313.87,205.03 312.13,205.03 312.18,205.30 C312.23,205.57 314.12,205.75 314.61,206.33 C315.11,206.91 315.05,207.45 315.15,208.76 C315.25,210.06 315.22,212.27 315.20,214.16 C315.19,216.05 315.28,218.84 315.04,220.10 C314.81,221.36 315.18,221.22 313.80,221.72 C312.42,222.22 309.30,222.68 306.78,223.07 C304.26,223.46 301.02,223.76 298.68,224.04 C296.34,224.32 294.13,224.68 292.74,224.74 C291.35,224.81 290.89,224.92 290.31,224.42 C289.73,223.92 289.44,223.52 289.23,221.72 C289.02,219.92 289.08,216.32 289.07,213.62 C289.06,210.92 289.12,207.77 289.18,205.52 C289.23,203.27 289.29,201.43 289.39,200.12 C289.49,198.81 288.67,198.12 289.77,197.69 Z" fill="none" stroke="#777" stroke-width="0.45"/>
<path d="M291.53,199.60 C292.49,199.22 294.85,199.47 296.92,199.46 C298.98,199.45 301.40,199.45 303.94,199.55 C306.47,199.65 310.53,199.75 312.13,200.07 C313.72,200.39 313.32,200.73 313.53,201.47 C313.74,202.21 313.51,203.81 313.39,204.51 C313.27,205.21 313.23,205.40 312.83,205.68 C312.42,205.96 310.92,205.96 310.96,206.20 C311.00,206.43 312.63,206.59 313.06,207.09 C313.49,207.59 313.44,208.06 313.53,209.19 C313.62,210.32 313.59,212.23 313.58,213.87 C313.56,215.51 313.64,217.93 313.44,219.02 C313.23,220.11 313.55,220.00 312.36,220.42 C311.17,220.85 308.46,221.26 306.28,221.59 C304.09,221.93 301.28,222.19 299.26,222.44 C297.23,222.68 295.32,222.99 294.11,223.04 C292.90,223.10 292.51,223.20 292.00,222.76 C291.50,222.33 291.25,221.98 291.07,220.42 C290.89,218.86 290.93,215.74 290.93,213.40 C290.92,211.06 290.97,208.33 291.02,206.38 C291.07,204.43 291.12,202.84 291.21,201.70 C291.29,200.57 290.58,199.97 291.53,199.60 Z" fill="none" stroke="#777" stroke-width="0.45"/>
<path d="M293.30,201.51 C294.10,201.19 296.10,201.39 297.85,201.39 C299.60,201.38 301.65,201.38 303.79,201.47 C305.94,201.55 309.37,201.63 310.72,201.90 C312.07,202.17 311.73,202.46 311.91,203.09 C312.09,203.72 311.89,205.07 311.79,205.66 C311.69,206.26 311.66,206.42 311.32,206.65 C310.97,206.89 309.70,206.89 309.73,207.09 C309.77,207.29 311.15,207.42 311.51,207.84 C311.88,208.26 311.84,208.67 311.91,209.62 C311.98,210.58 311.96,212.20 311.95,213.58 C311.94,214.97 312.00,217.02 311.83,217.94 C311.66,218.86 311.93,218.76 310.92,219.13 C309.91,219.49 307.62,219.83 305.77,220.12 C303.92,220.40 301.55,220.63 299.83,220.83 C298.12,221.04 296.50,221.30 295.48,221.35 C294.45,221.39 294.12,221.48 293.69,221.11 C293.26,220.74 293.05,220.45 292.90,219.13 C292.75,217.81 292.79,215.17 292.78,213.19 C292.78,211.21 292.82,208.90 292.86,207.25 C292.90,205.60 292.95,204.25 293.02,203.29 C293.09,202.33 292.49,201.82 293.30,201.51 Z" fill="none" stroke="#888" stroke-width="0.45"/>
<path d="M295.06,203.41 C295.72,203.15 297.36,203.32 298.79,203.32 C300.22,203.31 301.89,203.31 303.65,203.38 C305.40,203.45 308.21,203.52 309.32,203.74 C310.42,203.96 310.14,204.20 310.29,204.71 C310.44,205.22 310.27,206.33 310.19,206.82 C310.11,207.30 310.08,207.43 309.80,207.63 C309.52,207.82 308.48,207.82 308.51,207.98 C308.53,208.14 309.67,208.25 309.97,208.60 C310.26,208.94 310.23,209.27 310.29,210.06 C310.35,210.84 310.33,212.16 310.32,213.30 C310.31,214.43 310.37,216.10 310.23,216.86 C310.08,217.62 310.31,217.53 309.48,217.83 C308.65,218.13 306.78,218.41 305.27,218.64 C303.76,218.87 301.81,219.06 300.41,219.23 C299.00,219.39 297.68,219.61 296.84,219.65 C296.01,219.68 295.74,219.75 295.39,219.45 C295.04,219.15 294.86,218.91 294.74,217.83 C294.61,216.75 294.65,214.59 294.64,212.97 C294.64,211.35 294.67,209.46 294.71,208.11 C294.74,206.76 294.78,205.66 294.84,204.87 C294.89,204.09 294.40,203.67 295.06,203.41 Z" fill="none" stroke="#999" stroke-width="0.45"/>
<path d="M300.0,205.0 L305.0,214.0 L301.5,225.0" fill="none" stroke="#888" stroke-width="0.4"/>
<path d="M303.2,205.5 L308.2,214.0 L304.7,224.6" fill="none" stroke="#888" stroke-width="0.4"/>
<path d="M306.4,206.0 L311.4,214.0 L307.9,224.2" fill="none" stroke="#888" stroke-width="0.4"/>
<path d="M309.6,206.5 L314.6,214.0 L311.1,223.8" fill="none" stroke="#888" stroke-width="0.4"/>
<path d="M312.8,207.0 L317.8,214.0 L314.3,223.4" fill="none" stroke="#888" stroke-width="0.4"/>
<path d="M316.0,207.5 L321.0,214.0 L317.5,223.0" fill="none" stroke="#888" stroke-width="0.4"/>
<path d="M283.5,189.5 L291.5,189.3 L291.5,234.2 L284.5,235.3 Z" fill="#777" opacity="0.85"/>
<line x1="285.20" y1="190.50" x2="285.60" y2="234.50" stroke="#ccc" stroke-width="0.4"/>
<line x1="286.90" y1="190.50" x2="287.30" y2="234.50" stroke="#ccc" stroke-width="0.4"/>
<line x1="288.60" y1="190.50" x2="289.00" y2="234.50" stroke="#ccc" stroke-width="0.4"/>
<line x1="290.30" y1="190.50" x2="290.70" y2="234.50" stroke="#ccc" stroke-width="0.4"/>
<path d="M278.6,187.5 C279.2,186 280.5,185.6 283.5,185.5 L283.6,189.6 C283.3,205 283.5,222 284.2,235.4 C282,236.2 280.3,235.8 279.2,234.8 C278,226 277.6,212 277.7,200 C277.8,193 278.1,189.5 278.6,187.5 Z" fill="#0a0a0a" stroke="none" stroke-width="1"/>
<path d="M279,185.8 C290,184.8 305,185 322.5,186.3 C324.8,187.5 325.4,189 325.4,190.2 C318,189.2 300,188.6 283,189 Z" fill="#151515" stroke="none" stroke-width="1"/>
<line x1="290.00" y1="190.60" x2="320.00" y2="190.80" stroke="#fff" stroke-width="0.6"/>
<ellipse cx="315.5" cy="199.0" rx="4.2" ry="1.7" fill="#111"/>
<line x1="292.80" y1="179.80" x2="328.80" y2="179.80" stroke="#444" stroke-width="0.6"/>
<line x1="292.80" y1="179.80" x2="292.80" y2="199.20" stroke="#777" stroke-width="0.5"/>
<line x1="292.80" y1="199.20" x2="328.80" y2="199.20" stroke="#666" stroke-width="0.5"/>
<line x1="328.80" y1="179.40" x2="328.80" y2="199.50" stroke="#111" stroke-width="0.9"/>
<line x1="328.80" y1="180.20" x2="367.00" y2="180.20" stroke="#000" stroke-width="1.1"/>
<path d="M364.5,177.4 L371.0,180.2 L364.5,183.0 Z" fill="#000" stroke="none" stroke-width="1"/>
<text x="293.80" y="170.70" font-size="8.62" fill="#2b2b2b" textLength="42.40" lengthAdjust="spacingAndGlyphs">LSK - 0.76%</text>
<g transform="translate(25.6,192.3) rotate(-90)">
<text x="0.00" y="0.00" font-size="6.8" text-anchor="middle" fill="#2b2b2b" textLength="15.00" lengthAdjust="spacingAndGlyphs">c-kit</text>
</g>
<g transform="translate(258.3,192.0) rotate(-90)">
<text x="0.00" y="0.00" font-size="6.8" text-anchor="middle" fill="#2b2b2b" textLength="15.00" lengthAdjust="spacingAndGlyphs">c-kit</text>
</g>
<text x="76.10" y="252.00" font-size="8.62" text-anchor="middle" fill="#2b2b2b" textLength="18.80" lengthAdjust="spacingAndGlyphs">Sca-1</text>
<text x="309.50" y="249.50" font-size="8.62" text-anchor="middle" fill="#2b2b2b" textLength="18.50" lengthAdjust="spacingAndGlyphs">Sca-1</text>
<g fill="#777" opacity="0.5"><rect x="158.3" y="176.6" width="0.6" height="0.6"/><rect x="170.2" y="192.5" width="0.7" height="0.7"/><rect x="173.7" y="205.9" width="0.4" height="0.4"/><rect x="175.0" y="168.0" width="0.5" height="0.5"/><rect x="158.4" y="186.1" width="0.4" height="0.4"/><rect x="199.4" y="181.5" width="0.5" height="0.5"/><rect x="151.9" y="185.3" width="0.6" height="0.6"/><rect x="181.9" y="200.4" width="0.5" height="0.5"/><rect x="193.9" y="189.7" width="0.4" height="0.4"/><rect x="160.3" y="208.8" width="0.4" height="0.4"/><rect x="157.9" y="199.5" width="0.6" height="0.6"/><rect x="173.6" y="200.9" width="0.5" height="0.5"/><rect x="179.6" y="183.7" width="0.6" height="0.6"/><rect x="170.9" y="210.2" width="0.7" height="0.7"/><rect x="160.4" y="201.8" width="0.5" height="0.5"/><rect x="167.4" y="209.2" width="0.5" height="0.5"/><rect x="198.3" y="191.7" width="0.7" height="0.7"/><rect x="155.1" y="187.2" width="0.4" height="0.4"/><rect x="174.7" y="190.6" width="0.7" height="0.7"/><rect x="169.3" y="181.8" width="0.4" height="0.4"/><rect x="177.0" y="205.1" width="0.7" height="0.7"/><rect x="184.8" y="171.0" width="0.6" height="0.6"/><rect x="195.9" y="191.1" width="0.5" height="0.5"/><rect x="183.4" y="175.5" width="0.5" height="0.5"/><rect x="154.3" y="201.6" width="0.6" height="0.6"/><rect x="164.8" y="203.1" width="0.4" height="0.4"/><rect x="168.5" y="199.1" width="0.6" height="0.6"/><rect x="158.5" y="195.8" width="0.6" height="0.6"/><rect x="178.4" y="197.8" width="0.5" height="0.5"/><rect x="161.1" y="201.7" width="0.7" height="0.7"/><rect x="185.5" y="201.2" width="0.7" height="0.7"/><rect x="162.0" y="196.6" width="0.6" height="0.6"/><rect x="176.1" y="209.9" width="0.5" height="0.5"/><rect x="173.0" y="194.9" width="0.6" height="0.6"/><rect x="194.7" y="190.1" width="0.7" height="0.7"/><rect x="186.8" y="187.1" width="0.6" height="0.6"/><rect x="164.5" y="167.8" width="0.5" height="0.5"/><rect x="158.9" y="174.1" width="0.5" height="0.5"/><rect x="172.8" y="172.8" width="0.6" height="0.6"/><rect x="156.7" y="194.7" width="0.5" height="0.5"/><rect x="183.6" y="171.4" width="0.5" height="0.5"/><rect x="158.6" y="169.0" width="0.7" height="0.7"/><rect x="184.9" y="178.3" width="0.7" height="0.7"/><rect x="157.5" y="191.9" width="0.6" height="0.6"/><rect x="150.6" y="175.1" width="0.7" height="0.7"/><rect x="197.4" y="181.5" width="0.4" height="0.4"/><rect x="182.9" y="175.9" width="0.7" height="0.7"/><rect x="193.8" y="185.9" width="0.6" height="0.6"/><rect x="191.2" y="189.9" width="0.6" height="0.6"/><rect x="180.2" y="198.9" width="0.4" height="0.4"/><rect x="160.4" y="179.2" width="0.6" height="0.6"/><rect x="189.7" y="200.0" width="0.4" height="0.4"/><rect x="162.0" y="197.0" width="0.6" height="0.6"/><rect x="171.1" y="203.2" width="0.5" height="0.5"/><rect x="165.3" y="174.3" width="0.5" height="0.5"/><rect x="179.9" y="171.0" width="0.7" height="0.7"/><rect x="167.1" y="216.6" width="0.5" height="0.5"/><rect x="168.8" y="210.0" width="0.6" height="0.6"/><rect x="172.3" y="201.3" width="0.6" height="0.6"/><rect x="166.1" y="175.7" width="0.6" height="0.6"/><rect x="156.9" y="188.7" width="0.4" height="0.4"/><rect x="176.9" y="186.7" width="0.5" height="0.5"/><rect x="151.7" y="197.8" width="0.7" height="0.7"/><rect x="160.8" y="177.2" width="0.5" height="0.5"/><rect x="160.9" y="173.8" width="0.5" height="0.5"/><rect x="175.6" y="209.6" width="0.6" height="0.6"/><rect x="183.1" y="179.6" width="0.4" height="0.4"/><rect x="162.0" y="181.7" width="0.6" height="0.6"/><rect x="174.0" y="168.1" width="0.5" height="0.5"/><rect x="155.7" y="171.4" width="0.4" height="0.4"/><rect x="165.5" y="167.8" width="0.5" height="0.5"/><rect x="195.1" y="178.3" width="0.6" height="0.6"/><rect x="188.0" y="194.9" width="0.4" height="0.4"/><rect x="153.6" y="217.9" width="0.6" height="0.6"/><rect x="182.9" y="176.7" width="0.4" height="0.4"/><rect x="186.8" y="204.2" width="0.5" height="0.5"/><rect x="164.9" y="184.0" width="0.7" height="0.7"/><rect x="179.1" y="171.5" width="0.6" height="0.6"/><rect x="187.6" y="196.2" width="0.7" height="0.7"/><rect x="174.2" y="200.7" width="0.4" height="0.4"/><rect x="164.6" y="181.5" width="0.5" height="0.5"/><rect x="176.1" y="171.3" width="0.6" height="0.6"/><rect x="151.0" y="178.9" width="0.6" height="0.6"/><rect x="168.7" y="174.2" width="0.6" height="0.6"/><rect x="171.0" y="195.1" width="0.6" height="0.6"/><rect x="159.2" y="210.2" width="0.6" height="0.6"/><rect x="185.6" y="201.9" width="0.5" height="0.5"/><rect x="163.0" y="185.6" width="0.6" height="0.6"/><rect x="180.8" y="180.3" width="0.7" height="0.7"/><rect x="183.9" y="205.4" width="0.5" height="0.5"/><rect x="185.1" y="187.2" width="0.6" height="0.6"/><rect x="157.7" y="185.3" width="0.5" height="0.5"/><rect x="188.9" y="173.7" width="0.5" height="0.5"/><rect x="183.4" y="191.0" width="0.7" height="0.7"/><rect x="167.4" y="193.4" width="0.5" height="0.5"/><rect x="160.6" y="213.0" width="0.5" height="0.5"/><rect x="163.7" y="195.7" width="0.6" height="0.6"/><rect x="183.7" y="182.0" width="0.5" height="0.5"/><rect x="168.7" y="181.0" width="0.5" height="0.5"/><rect x="175.1" y="173.2" width="0.5" height="0.5"/><rect x="153.8" y="175.5" width="0.6" height="0.6"/><rect x="166.0" y="170.9" width="0.7" height="0.7"/><rect x="151.3" y="187.7" width="0.5" height="0.5"/><rect x="151.2" y="181.3" width="0.5" height="0.5"/><rect x="185.9" y="179.3" width="0.5" height="0.5"/><rect x="172.5" y="176.7" width="0.6" height="0.6"/><rect x="199.2" y="178.2" width="0.7" height="0.7"/><rect x="168.6" y="191.3" width="0.4" height="0.4"/><rect x="161.3" y="178.2" width="0.5" height="0.5"/><rect x="165.5" y="209.1" width="0.5" height="0.5"/><rect x="180.0" y="175.7" width="0.7" height="0.7"/><rect x="176.3" y="197.5" width="0.6" height="0.6"/><rect x="176.8" y="191.9" width="0.6" height="0.6"/><rect x="174.1" y="196.7" width="0.5" height="0.5"/><rect x="156.4" y="177.3" width="0.7" height="0.7"/><rect x="158.3" y="197.1" width="0.6" height="0.6"/><rect x="151.9" y="209.3" width="0.7" height="0.7"/><rect x="169.0" y="199.6" width="0.6" height="0.6"/><rect x="193.1" y="183.6" width="0.6" height="0.6"/><rect x="165.8" y="199.1" width="0.7" height="0.7"/><rect x="156.0" y="173.6" width="0.5" height="0.5"/><rect x="184.3" y="171.6" width="0.5" height="0.5"/><rect x="163.3" y="195.2" width="0.6" height="0.6"/><rect x="152.7" y="212.2" width="0.6" height="0.6"/><rect x="155.2" y="184.9" width="0.5" height="0.5"/><rect x="172.8" y="180.7" width="0.7" height="0.7"/><rect x="169.2" y="213.1" width="0.7" height="0.7"/><rect x="188.4" y="185.0" width="0.6" height="0.6"/><rect x="190.2" y="183.7" width="0.5" height="0.5"/><rect x="152.9" y="173.6" width="0.6" height="0.6"/><rect x="165.0" y="203.6" width="0.5" height="0.5"/><rect x="187.1" y="180.7" width="0.4" height="0.4"/><rect x="184.7" y="179.1" width="0.5" height="0.5"/><rect x="173.5" y="192.3" width="0.7" height="0.7"/><rect x="186.3" y="189.0" width="0.5" height="0.5"/><rect x="181.0" y="172.1" width="0.5" height="0.5"/><rect x="181.1" y="176.5" width="0.7" height="0.7"/><rect x="191.8" y="177.3" width="0.5" height="0.5"/><rect x="160.0" y="210.5" width="0.6" height="0.6"/><rect x="190.7" y="196.0" width="0.5" height="0.5"/><rect x="172.0" y="194.8" width="0.4" height="0.4"/><rect x="159.1" y="198.6" width="0.5" height="0.5"/><rect x="156.4" y="177.1" width="0.7" height="0.7"/><rect x="179.5" y="187.6" width="0.4" height="0.4"/><rect x="161.8" y="200.8" width="0.4" height="0.4"/><rect x="167.1" y="217.2" width="0.4" height="0.4"/><rect x="155.2" y="191.0" width="0.5" height="0.5"/><rect x="165.5" y="197.0" width="0.7" height="0.7"/><rect x="170.8" y="167.4" width="0.5" height="0.5"/><rect x="194.9" y="188.8" width="0.4" height="0.4"/><rect x="161.7" y="177.5" width="0.5" height="0.5"/><rect x="165.5" y="201.9" width="0.6" height="0.6"/><rect x="150.5" y="173.0" width="0.6" height="0.6"/><rect x="157.7" y="203.1" width="0.4" height="0.4"/><rect x="185.1" y="177.2" width="0.7" height="0.7"/><rect x="194.4" y="190.7" width="0.6" height="0.6"/><rect x="183.6" y="198.9" width="0.5" height="0.5"/><rect x="185.6" y="172.7" width="0.5" height="0.5"/><rect x="152.7" y="170.1" width="0.6" height="0.6"/><rect x="171.4" y="176.4" width="0.7" height="0.7"/><rect x="164.0" y="194.7" width="0.5" height="0.5"/><rect x="164.5" y="215.1" width="0.7" height="0.7"/><rect x="156.6" y="169.6" width="0.4" height="0.4"/><rect x="173.6" y="184.5" width="0.6" height="0.6"/><rect x="170.2" y="205.7" width="0.5" height="0.5"/><rect x="160.2" y="190.9" width="0.4" height="0.4"/><rect x="178.7" y="186.6" width="0.7" height="0.7"/><rect x="169.0" y="201.6" width="0.4" height="0.4"/><rect x="167.1" y="215.7" width="0.7" height="0.7"/><rect x="157.5" y="192.2" width="0.5" height="0.5"/><rect x="182.1" y="197.7" width="0.5" height="0.5"/><rect x="196.4" y="189.8" width="0.6" height="0.6"/><rect x="176.3" y="197.4" width="0.6" height="0.6"/><rect x="160.6" y="167.5" width="0.6" height="0.6"/><rect x="192.0" y="176.0" width="0.7" height="0.7"/><rect x="151.1" y="174.1" width="0.6" height="0.6"/><rect x="184.7" y="186.2" width="0.4" height="0.4"/><rect x="196.9" y="177.8" width="0.6" height="0.6"/><rect x="180.6" y="178.0" width="0.5" height="0.5"/><rect x="161.3" y="194.3" width="0.5" height="0.5"/><rect x="177.9" y="180.5" width="0.4" height="0.4"/><rect x="186.3" y="179.4" width="0.7" height="0.7"/><rect x="170.3" y="179.4" width="0.6" height="0.6"/><rect x="197.6" y="185.4" width="0.6" height="0.6"/><rect x="164.5" y="167.0" width="0.4" height="0.4"/><rect x="177.8" y="199.4" width="0.5" height="0.5"/><rect x="170.8" y="187.5" width="0.5" height="0.5"/><rect x="158.4" y="194.9" width="0.6" height="0.6"/><rect x="162.3" y="191.1" width="0.5" height="0.5"/><rect x="185.0" y="187.3" width="0.6" height="0.6"/><rect x="170.4" y="192.9" width="0.4" height="0.4"/><rect x="166.2" y="211.6" width="0.5" height="0.5"/><rect x="191.5" y="188.3" width="0.4" height="0.4"/><rect x="179.6" y="180.4" width="0.5" height="0.5"/><rect x="173.9" y="209.4" width="0.6" height="0.6"/><rect x="164.7" y="172.1" width="0.6" height="0.6"/><rect x="158.5" y="206.5" width="0.6" height="0.6"/><rect x="160.1" y="207.7" width="0.7" height="0.7"/><rect x="173.4" y="184.4" width="0.7" height="0.7"/><rect x="156.9" y="186.1" width="0.4" height="0.4"/><rect x="171.9" y="215.6" width="0.5" height="0.5"/><rect x="186.3" y="172.6" width="0.7" height="0.7"/><rect x="193.3" y="195.1" width="0.6" height="0.6"/><rect x="154.8" y="200.4" width="0.5" height="0.5"/><rect x="166.5" y="182.2" width="0.4" height="0.4"/><rect x="157.2" y="217.8" width="0.5" height="0.5"/><rect x="176.8" y="179.4" width="0.7" height="0.7"/><rect x="160.4" y="206.0" width="0.5" height="0.5"/><rect x="195.4" y="183.0" width="0.4" height="0.4"/><rect x="173.0" y="169.7" width="0.4" height="0.4"/><rect x="176.8" y="196.6" width="0.5" height="0.5"/><rect x="157.9" y="193.7" width="0.5" height="0.5"/><rect x="174.5" y="201.9" width="0.4" height="0.4"/><rect x="156.4" y="183.2" width="0.5" height="0.5"/><rect x="198.8" y="187.7" width="0.6" height="0.6"/><rect x="160.4" y="200.3" width="0.5" height="0.5"/><rect x="152.9" y="187.0" width="0.4" height="0.4"/><rect x="181.7" y="192.8" width="0.4" height="0.4"/><rect x="152.4" y="190.6" width="0.6" height="0.6"/><rect x="170.3" y="190.9" width="0.6" height="0.6"/></g>
<path d="M156.50,182.00 C154.00,180.67 157.50,176.80 158.50,175.00 C159.50,173.20 161.00,172.07 162.50,171.20 C164.00,170.33 166.00,169.75 167.50,169.80 C169.00,169.85 170.50,170.47 171.50,171.50 C172.50,172.53 173.17,174.08 173.50,176.00 C173.83,177.92 176.33,182.00 173.50,183.00 C170.67,184.00 159.00,183.33 156.50,182.00 Z" fill="#cfcfcf" stroke="#999" stroke-width="0.45"/>
<path d="M158.62,182.00 C156.75,181.00 159.38,178.10 160.12,176.75 C160.88,175.40 162.00,174.55 163.12,173.90 C164.25,173.25 165.75,172.81 166.88,172.85 C168.00,172.89 169.12,173.35 169.88,174.12 C170.62,174.90 171.12,176.06 171.38,177.50 C171.62,178.94 173.50,182.00 171.38,182.75 C169.25,183.50 160.50,183.00 158.62,182.00 Z" fill="#b5b5b5" stroke="#888" stroke-width="0.45"/>
<path d="M155.00,203.00 C152.58,204.50 155.67,208.08 156.50,210.00 C157.33,211.92 158.58,213.50 160.00,214.50 C161.42,215.50 163.42,216.17 165.00,216.00 C166.58,215.83 168.42,215.00 169.50,213.50 C170.58,212.00 171.25,209.08 171.50,207.00 C171.75,204.92 173.75,201.67 171.00,201.00 C168.25,200.33 157.42,201.50 155.00,203.00 Z" fill="#d5d5d5" stroke="#aaa" stroke-width="0.45"/>
<path d="M157.00,203.00 C155.19,204.12 157.50,206.81 158.12,208.25 C158.75,209.69 159.69,210.88 160.75,211.62 C161.81,212.38 163.31,212.88 164.50,212.75 C165.69,212.62 167.06,212.00 167.88,210.88 C168.69,209.75 169.19,207.56 169.38,206.00 C169.56,204.44 171.06,202.00 169.00,201.50 C166.94,201.00 158.81,201.88 157.00,203.00 Z" fill="#bbb" stroke="#999" stroke-width="0.45"/>
<path d="M168.00,182.50 C169.00,179.13 173.33,181.17 176.00,180.80 C178.67,180.43 181.50,180.22 184.00,180.30 C186.50,180.38 188.97,180.82 191.00,181.30 C193.03,181.78 195.10,182.32 196.20,183.20 C197.30,184.08 197.67,185.37 197.60,186.60 C197.53,187.83 196.90,189.28 195.80,190.60 C194.70,191.92 192.88,193.18 191.00,194.50 C189.12,195.82 186.75,197.48 184.50,198.50 C182.25,199.52 179.92,200.18 177.50,200.60 C175.08,201.02 171.58,204.02 170.00,201.00 C168.42,197.98 167.00,185.87 168.00,182.50 Z" fill="#e2e2e2" stroke="#999" stroke-width="0.45"/>
<path d="M169.19,183.90 C170.05,181.00 173.78,182.75 176.07,182.44 C178.36,182.12 180.80,181.94 182.95,182.01 C185.10,182.08 187.22,182.45 188.97,182.87 C190.72,183.28 192.50,183.74 193.44,184.50 C194.39,185.26 194.70,186.37 194.65,187.43 C194.59,188.49 194.04,189.73 193.10,190.87 C192.15,192.00 190.59,193.09 188.97,194.22 C187.35,195.35 185.31,196.79 183.38,197.66 C181.44,198.53 179.44,199.11 177.36,199.47 C175.28,199.82 172.27,202.40 170.91,199.81 C169.55,197.22 168.33,186.80 169.19,183.90 Z" fill="#d2d2d2" stroke="#888" stroke-width="0.45"/>
<path d="M170.38,185.30 C171.10,182.88 174.22,184.34 176.14,184.08 C178.06,183.81 180.10,183.66 181.90,183.72 C183.70,183.78 185.48,184.09 186.94,184.44 C188.40,184.78 189.89,185.17 190.68,185.80 C191.48,186.44 191.74,187.36 191.69,188.25 C191.64,189.14 191.19,190.18 190.40,191.13 C189.60,192.08 188.30,192.99 186.94,193.94 C185.58,194.89 183.88,196.09 182.26,196.82 C180.64,197.55 178.96,198.03 177.22,198.33 C175.48,198.63 172.96,200.79 171.82,198.62 C170.68,196.45 169.66,187.72 170.38,185.30 Z" fill="#c0c0c0" stroke="#777" stroke-width="0.45"/>
<path d="M171.57,186.70 C172.15,184.75 174.66,185.93 176.21,185.71 C177.76,185.50 179.40,185.38 180.85,185.42 C182.30,185.47 183.73,185.72 184.91,186.00 C186.09,186.28 187.29,186.59 187.93,187.11 C188.56,187.62 188.78,188.36 188.74,189.08 C188.70,189.79 188.33,190.63 187.69,191.40 C187.06,192.16 186.00,192.90 184.91,193.66 C183.82,194.42 182.44,195.39 181.14,195.98 C179.83,196.57 178.48,196.96 177.08,197.20 C175.68,197.44 173.65,199.18 172.73,197.43 C171.81,195.68 170.99,188.65 171.57,186.70 Z" fill="#aaaaaa" stroke="#666" stroke-width="0.45"/>
<path d="M172.76,188.10 C173.20,186.62 175.11,187.51 176.28,187.35 C177.45,187.19 178.70,187.10 179.80,187.13 C180.90,187.17 181.99,187.36 182.88,187.57 C183.77,187.78 184.68,188.02 185.17,188.41 C185.65,188.80 185.81,189.36 185.78,189.90 C185.75,190.45 185.48,191.08 184.99,191.66 C184.51,192.24 183.71,192.80 182.88,193.38 C182.05,193.96 181.01,194.69 180.02,195.14 C179.03,195.59 178.00,195.88 176.94,196.06 C175.88,196.25 174.34,197.57 173.64,196.24 C172.94,194.91 172.32,189.58 172.76,188.10 Z" fill="#949494" stroke="#555" stroke-width="0.45"/>
<path d="M173.95,189.50 C174.25,188.49 175.55,189.10 176.35,188.99 C177.15,188.88 178.00,188.81 178.75,188.84 C179.50,188.87 180.24,189.00 180.85,189.14 C181.46,189.29 182.08,189.45 182.41,189.71 C182.74,189.97 182.85,190.36 182.83,190.73 C182.81,191.10 182.62,191.53 182.29,191.93 C181.96,192.33 181.41,192.70 180.85,193.10 C180.28,193.50 179.57,194.00 178.90,194.30 C178.23,194.61 177.53,194.81 176.80,194.93 C176.08,195.06 175.03,195.96 174.55,195.05 C174.08,194.15 173.65,190.51 173.95,189.50 Z" fill="#7a7a7a" stroke="#444" stroke-width="0.45"/>
<ellipse cx="162.3" cy="194.2" rx="8.2" ry="14.2" fill="url(#gblob)"/>
<ellipse cx="162.0" cy="194.5" rx="6.2" ry="11.8" fill="#050505"/>
<ellipse cx="162.5" cy="202.2" rx="1.6" ry="1.3" fill="#555"/>
<circle cx="178.6" cy="193.7" r="2.3" fill="#d8d8d8" stroke="#333" stroke-width="1.0"/>
<line x1="153.70" y1="167.80" x2="153.70" y2="236.00" stroke="#888" stroke-width="0.55"/>
<line x1="168.60" y1="167.30" x2="168.60" y2="236.00" stroke="#444" stroke-width="0.7"/>
<line x1="171.20" y1="168.50" x2="171.20" y2="236.00" stroke="#888" stroke-width="0.55"/>
<line x1="206.20" y1="168.50" x2="206.20" y2="234.00" stroke="#444" stroke-width="0.6"/>
<line x1="153.70" y1="167.80" x2="192.00" y2="167.80" stroke="#444" stroke-width="0.6"/>
<line x1="171.20" y1="168.50" x2="206.20" y2="168.50" stroke="#888" stroke-width="0.55"/>
<line x1="171.20" y1="196.80" x2="206.20" y2="196.80" stroke="#999" stroke-width="1.0"/>
<line x1="168.60" y1="234.00" x2="206.20" y2="234.00" stroke="#888" stroke-width="0.55"/>
<rect x="119.90" y="143.90" width="43.20" height="26.70" fill="#8f97bd"/>
<text x="128.00" y="155.00" font-size="8.51" fill="#2a3050" textLength="19.50" lengthAdjust="spacingAndGlyphs">HPC1</text>
<text x="128.00" y="164.60" font-size="8.51" fill="#2a3050" textLength="26.30" lengthAdjust="spacingAndGlyphs">0.092%</text>
<rect x="191.90" y="144.10" width="43.20" height="27.00" fill="#8f97bd"/>
<text x="200.00" y="154.80" font-size="8.51" fill="#2a3050" textLength="18.80" lengthAdjust="spacingAndGlyphs">HPC2</text>
<text x="200.00" y="164.40" font-size="8.51" fill="#2a3050" textLength="26.30" lengthAdjust="spacingAndGlyphs">0.026%</text>
<rect x="202.30" y="207.90" width="37.90" height="26.60" fill="#8f97bd"/>
<text x="211.20" y="218.40" font-size="8.51" fill="#2a3050" textLength="14.80" lengthAdjust="spacingAndGlyphs">HSC</text>
<text x="211.20" y="228.50" font-size="8.51" fill="#2a3050" textLength="26.30" lengthAdjust="spacingAndGlyphs">0.007%</text>
<rect x="124.90" y="220.60" width="72.50" height="15.60" fill="#8f97bd"/>
<text x="135.70" y="230.40" font-size="8.51" fill="#2a3050" textLength="51.30" lengthAdjust="spacingAndGlyphs">MPP – 0.024%</text>
<g transform="translate(137.7,198.6) rotate(-90)">
<text x="0.00" y="0.00" font-size="8.62" text-anchor="middle" fill="#2b2b2b" textLength="19.70" lengthAdjust="spacingAndGlyphs">CD48</text>
</g>
<text x="171.20" y="251.20" font-size="8.62" fill="#2b2b2b" textLength="25.00" lengthAdjust="spacingAndGlyphs">CD150</text>
<g fill="#666" opacity="0.5"><rect x="424.5" y="201.1" width="0.5" height="0.5"/><rect x="394.0" y="208.3" width="0.4" height="0.4"/><rect x="395.9" y="178.4" width="0.6" height="0.6"/><rect x="420.1" y="174.4" width="0.6" height="0.6"/><rect x="417.3" y="200.2" width="0.4" height="0.4"/><rect x="426.2" y="181.9" width="0.5" height="0.5"/><rect x="391.2" y="207.1" width="0.6" height="0.6"/><rect x="431.1" y="192.7" width="0.4" height="0.4"/><rect x="407.3" y="173.5" width="0.4" height="0.4"/><rect x="437.4" y="187.0" width="0.6" height="0.6"/><rect x="430.1" y="185.6" width="0.4" height="0.4"/><rect x="405.7" y="200.5" width="0.7" height="0.7"/><rect x="409.6" y="188.1" width="0.5" height="0.5"/><rect x="402.2" y="176.4" width="0.6" height="0.6"/><rect x="434.5" y="194.0" width="0.7" height="0.7"/><rect x="397.2" y="178.6" width="0.5" height="0.5"/><rect x="410.2" y="178.7" width="0.7" height="0.7"/><rect x="427.6" y="182.7" width="0.5" height="0.5"/><rect x="400.4" y="187.4" width="0.6" height="0.6"/><rect x="388.7" y="178.6" width="0.5" height="0.5"/><rect x="439.2" y="190.1" width="0.6" height="0.6"/><rect x="432.1" y="190.3" width="0.5" height="0.5"/><rect x="429.0" y="198.2" width="0.7" height="0.7"/><rect x="412.2" y="208.2" width="0.6" height="0.6"/><rect x="416.7" y="207.6" width="0.4" height="0.4"/><rect x="400.3" y="191.5" width="0.6" height="0.6"/><rect x="394.8" y="204.3" width="0.4" height="0.4"/><rect x="404.3" y="190.4" width="0.6" height="0.6"/><rect x="414.3" y="207.4" width="0.6" height="0.6"/><rect x="406.3" y="192.9" width="0.5" height="0.5"/><rect x="434.6" y="183.4" width="0.5" height="0.5"/><rect x="398.2" y="181.0" width="0.6" height="0.6"/><rect x="423.8" y="180.8" width="0.5" height="0.5"/><rect x="417.2" y="176.9" width="0.5" height="0.5"/><rect x="396.8" y="185.1" width="0.6" height="0.6"/><rect x="401.6" y="179.4" width="0.7" height="0.7"/><rect x="390.4" y="197.8" width="0.5" height="0.5"/><rect x="411.3" y="208.3" width="0.6" height="0.6"/><rect x="389.1" y="181.4" width="0.6" height="0.6"/><rect x="430.0" y="179.8" width="0.6" height="0.6"/><rect x="409.4" y="202.5" width="0.5" height="0.5"/><rect x="402.5" y="203.5" width="0.6" height="0.6"/><rect x="405.0" y="201.4" width="0.5" height="0.5"/><rect x="413.0" y="178.3" width="0.5" height="0.5"/><rect x="408.3" y="173.9" width="0.5" height="0.5"/><rect x="404.4" y="184.4" width="0.6" height="0.6"/><rect x="401.2" y="175.9" width="0.4" height="0.4"/><rect x="407.3" y="177.5" width="0.4" height="0.4"/><rect x="407.2" y="203.8" width="0.4" height="0.4"/><rect x="409.4" y="173.6" width="0.5" height="0.5"/><rect x="416.1" y="198.6" width="0.7" height="0.7"/><rect x="402.6" y="180.2" width="0.4" height="0.4"/><rect x="415.1" y="190.1" width="0.7" height="0.7"/><rect x="412.2" y="173.8" width="0.4" height="0.4"/><rect x="427.5" y="180.3" width="0.5" height="0.5"/><rect x="409.4" y="189.1" width="0.5" height="0.5"/><rect x="423.9" y="179.1" width="0.4" height="0.4"/><rect x="430.3" y="193.2" width="0.5" height="0.5"/><rect x="411.9" y="193.8" width="0.5" height="0.5"/><rect x="425.9" y="175.7" width="0.7" height="0.7"/><rect x="424.2" y="189.5" width="0.5" height="0.5"/><rect x="422.2" y="178.4" width="0.5" height="0.5"/><rect x="392.8" y="188.2" width="0.7" height="0.7"/><rect x="418.7" y="192.6" width="0.6" height="0.6"/><rect x="422.0" y="196.5" width="0.5" height="0.5"/><rect x="396.3" y="196.7" width="0.7" height="0.7"/><rect x="434.6" y="191.5" width="0.5" height="0.5"/><rect x="418.1" y="172.1" width="0.5" height="0.5"/><rect x="389.3" y="178.8" width="0.5" height="0.5"/><rect x="390.2" y="175.7" width="0.5" height="0.5"/><rect x="406.1" y="201.3" width="0.5" height="0.5"/><rect x="394.4" y="173.1" width="0.6" height="0.6"/><rect x="413.6" y="193.7" width="0.6" height="0.6"/><rect x="428.2" y="187.7" width="0.5" height="0.5"/><rect x="429.0" y="190.3" width="0.6" height="0.6"/><rect x="401.6" y="184.1" width="0.4" height="0.4"/><rect x="386.9" y="176.5" width="0.5" height="0.5"/><rect x="401.7" y="184.0" width="0.5" height="0.5"/><rect x="419.0" y="190.5" width="0.4" height="0.4"/><rect x="434.9" y="197.4" width="0.7" height="0.7"/><rect x="412.2" y="191.8" width="0.6" height="0.6"/><rect x="395.7" y="196.1" width="0.6" height="0.6"/><rect x="401.3" y="191.9" width="0.5" height="0.5"/><rect x="421.3" y="175.0" width="0.5" height="0.5"/><rect x="387.2" y="193.8" width="0.4" height="0.4"/><rect x="430.8" y="183.2" width="0.7" height="0.7"/><rect x="403.1" y="176.4" width="0.6" height="0.6"/><rect x="398.1" y="205.8" width="0.5" height="0.5"/><rect x="399.5" y="196.0" width="0.5" height="0.5"/><rect x="399.4" y="173.6" width="0.5" height="0.5"/><rect x="396.7" y="177.0" width="0.5" height="0.5"/><rect x="410.1" y="196.2" width="0.6" height="0.6"/><rect x="423.6" y="197.0" width="0.5" height="0.5"/><rect x="433.6" y="176.2" width="0.5" height="0.5"/><rect x="435.0" y="187.9" width="0.7" height="0.7"/><rect x="436.3" y="184.6" width="0.5" height="0.5"/><rect x="411.2" y="185.9" width="0.4" height="0.4"/><rect x="406.3" y="210.7" width="0.5" height="0.5"/><rect x="412.8" y="183.2" width="0.7" height="0.7"/><rect x="387.2" y="198.5" width="0.6" height="0.6"/><rect x="391.8" y="184.4" width="0.5" height="0.5"/><rect x="398.7" y="174.7" width="0.4" height="0.4"/><rect x="430.0" y="188.3" width="0.5" height="0.5"/><rect x="398.6" y="183.9" width="0.6" height="0.6"/><rect x="425.5" y="188.9" width="0.6" height="0.6"/><rect x="417.2" y="205.7" width="0.6" height="0.6"/><rect x="404.4" y="175.1" width="0.6" height="0.6"/><rect x="403.9" y="176.7" width="0.6" height="0.6"/><rect x="394.7" y="186.0" width="0.5" height="0.5"/><rect x="420.8" y="192.8" width="0.6" height="0.6"/><rect x="420.0" y="188.8" width="0.5" height="0.5"/><rect x="404.2" y="206.7" width="0.6" height="0.6"/><rect x="424.4" y="206.0" width="0.6" height="0.6"/><rect x="435.4" y="190.0" width="0.6" height="0.6"/><rect x="435.3" y="191.5" width="0.6" height="0.6"/><rect x="400.2" y="177.0" width="0.7" height="0.7"/><rect x="418.7" y="181.3" width="0.4" height="0.4"/><rect x="436.1" y="181.1" width="0.4" height="0.4"/><rect x="414.6" y="201.6" width="0.6" height="0.6"/><rect x="386.8" y="204.4" width="0.6" height="0.6"/><rect x="402.8" y="210.6" width="0.5" height="0.5"/><rect x="428.5" y="174.0" width="0.5" height="0.5"/><rect x="427.9" y="200.1" width="0.6" height="0.6"/><rect x="398.1" y="183.3" width="0.5" height="0.5"/><rect x="389.6" y="188.9" width="0.4" height="0.4"/><rect x="403.4" y="185.2" width="0.4" height="0.4"/><rect x="395.7" y="209.3" width="0.5" height="0.5"/><rect x="414.1" y="193.2" width="0.5" height="0.5"/><rect x="430.2" y="192.3" width="0.5" height="0.5"/><rect x="427.7" y="192.3" width="0.5" height="0.5"/><rect x="425.7" y="176.9" width="0.5" height="0.5"/><rect x="395.6" y="208.0" width="0.6" height="0.6"/><rect x="407.0" y="204.6" width="0.6" height="0.6"/><rect x="422.0" y="180.5" width="0.6" height="0.6"/><rect x="399.2" y="187.7" width="0.6" height="0.6"/><rect x="399.0" y="203.7" width="0.7" height="0.7"/><rect x="393.6" y="202.0" width="0.5" height="0.5"/><rect x="399.8" y="185.5" width="0.6" height="0.6"/><rect x="421.0" y="186.9" width="0.6" height="0.6"/><rect x="431.1" y="178.6" width="0.7" height="0.7"/><rect x="414.2" y="198.0" width="0.7" height="0.7"/><rect x="396.4" y="190.6" width="0.6" height="0.6"/><rect x="415.4" y="189.8" width="0.6" height="0.6"/><rect x="432.5" y="175.0" width="0.6" height="0.6"/><rect x="400.4" y="173.7" width="0.5" height="0.5"/><rect x="391.5" y="190.2" width="0.5" height="0.5"/><rect x="409.8" y="176.0" width="0.7" height="0.7"/><rect x="396.1" y="189.5" width="0.6" height="0.6"/><rect x="423.1" y="175.7" width="0.7" height="0.7"/><rect x="405.6" y="173.6" width="0.5" height="0.5"/><rect x="420.1" y="185.9" width="0.6" height="0.6"/><rect x="402.1" y="205.9" width="0.7" height="0.7"/><rect x="408.3" y="193.4" width="0.5" height="0.5"/><rect x="394.8" y="195.9" width="0.4" height="0.4"/><rect x="393.7" y="188.4" width="0.7" height="0.7"/><rect x="423.0" y="198.4" width="0.7" height="0.7"/><rect x="417.8" y="202.5" width="0.5" height="0.5"/><rect x="388.2" y="203.3" width="0.5" height="0.5"/><rect x="391.9" y="207.1" width="0.5" height="0.5"/><rect x="436.3" y="186.9" width="0.6" height="0.6"/><rect x="409.8" y="203.5" width="0.5" height="0.5"/><rect x="413.8" y="180.1" width="0.5" height="0.5"/><rect x="390.4" y="181.5" width="0.5" height="0.5"/><rect x="424.0" y="176.4" width="0.4" height="0.4"/><rect x="428.0" y="196.8" width="0.7" height="0.7"/><rect x="415.0" y="176.1" width="0.4" height="0.4"/><rect x="389.2" y="190.4" width="0.6" height="0.6"/><rect x="388.1" y="174.2" width="0.5" height="0.5"/><rect x="386.5" y="196.0" width="0.5" height="0.5"/><rect x="397.0" y="184.1" width="0.5" height="0.5"/><rect x="401.2" y="179.9" width="0.5" height="0.5"/><rect x="418.3" y="194.8" width="0.6" height="0.6"/><rect x="417.2" y="183.8" width="0.5" height="0.5"/><rect x="418.7" y="201.6" width="0.4" height="0.4"/><rect x="415.5" y="200.8" width="0.7" height="0.7"/><rect x="428.7" y="190.7" width="0.7" height="0.7"/><rect x="388.8" y="198.5" width="0.4" height="0.4"/><rect x="408.6" y="175.7" width="0.5" height="0.5"/><rect x="387.0" y="193.7" width="0.4" height="0.4"/><rect x="398.1" y="204.2" width="0.5" height="0.5"/><rect x="417.6" y="208.1" width="0.6" height="0.6"/><rect x="398.2" y="178.2" width="0.7" height="0.7"/><rect x="437.2" y="184.2" width="0.7" height="0.7"/><rect x="389.0" y="180.0" width="0.7" height="0.7"/><rect x="396.9" y="203.9" width="0.4" height="0.4"/><rect x="413.1" y="195.3" width="0.6" height="0.6"/><rect x="414.3" y="180.4" width="0.6" height="0.6"/><rect x="408.9" y="181.5" width="0.6" height="0.6"/><rect x="386.1" y="197.4" width="0.4" height="0.4"/><rect x="424.0" y="179.8" width="0.7" height="0.7"/><rect x="411.5" y="192.7" width="0.7" height="0.7"/><rect x="400.2" y="186.2" width="0.6" height="0.6"/><rect x="429.1" y="202.8" width="0.7" height="0.7"/><rect x="387.0" y="200.2" width="0.7" height="0.7"/><rect x="394.3" y="188.1" width="0.5" height="0.5"/><rect x="437.7" y="190.7" width="0.6" height="0.6"/><rect x="398.6" y="196.5" width="0.6" height="0.6"/><rect x="403.8" y="181.8" width="0.4" height="0.4"/><rect x="420.4" y="188.0" width="0.5" height="0.5"/><rect x="402.6" y="184.0" width="0.4" height="0.4"/><rect x="418.4" y="176.8" width="0.5" height="0.5"/><rect x="425.1" y="179.3" width="0.7" height="0.7"/><rect x="438.4" y="184.5" width="0.6" height="0.6"/><rect x="420.5" y="194.4" width="0.7" height="0.7"/><rect x="422.9" y="198.5" width="0.7" height="0.7"/><rect x="410.4" y="174.6" width="0.4" height="0.4"/><rect x="425.9" y="190.7" width="0.7" height="0.7"/><rect x="395.6" y="195.2" width="0.4" height="0.4"/><rect x="389.8" y="173.3" width="0.5" height="0.5"/><rect x="409.6" y="178.6" width="0.6" height="0.6"/><rect x="415.7" y="203.2" width="0.6" height="0.6"/><rect x="426.2" y="184.0" width="0.6" height="0.6"/><rect x="431.8" y="180.8" width="0.5" height="0.5"/><rect x="390.6" y="189.6" width="0.5" height="0.5"/><rect x="426.8" y="195.9" width="0.5" height="0.5"/><rect x="421.7" y="205.7" width="0.5" height="0.5"/><rect x="415.3" y="181.9" width="0.5" height="0.5"/><rect x="396.7" y="204.7" width="0.7" height="0.7"/><rect x="409.1" y="177.7" width="0.5" height="0.5"/><rect x="401.8" y="186.4" width="0.7" height="0.7"/><rect x="414.5" y="191.6" width="0.6" height="0.6"/><rect x="394.3" y="186.3" width="0.5" height="0.5"/><rect x="387.8" y="183.5" width="0.6" height="0.6"/><rect x="419.0" y="181.7" width="0.4" height="0.4"/><rect x="417.1" y="176.8" width="0.4" height="0.4"/><rect x="438.3" y="184.0" width="0.6" height="0.6"/><rect x="433.4" y="197.6" width="0.4" height="0.4"/><rect x="399.9" y="186.5" width="0.5" height="0.5"/><rect x="417.2" y="178.2" width="0.5" height="0.5"/><rect x="390.8" y="180.3" width="0.4" height="0.4"/><rect x="432.9" y="180.0" width="0.6" height="0.6"/><rect x="415.7" y="205.3" width="0.5" height="0.5"/><rect x="420.6" y="201.9" width="0.6" height="0.6"/><rect x="404.7" y="192.5" width="0.6" height="0.6"/><rect x="409.4" y="202.4" width="0.6" height="0.6"/><rect x="427.6" y="189.1" width="0.4" height="0.4"/><rect x="394.1" y="183.0" width="0.6" height="0.6"/><rect x="387.4" y="183.7" width="0.4" height="0.4"/><rect x="415.1" y="178.8" width="0.6" height="0.6"/><rect x="387.7" y="185.7" width="0.6" height="0.6"/><rect x="432.4" y="187.2" width="0.7" height="0.7"/><rect x="435.0" y="194.8" width="0.5" height="0.5"/><rect x="395.2" y="200.3" width="0.4" height="0.4"/><rect x="421.7" y="180.1" width="0.5" height="0.5"/><rect x="419.7" y="187.2" width="0.4" height="0.4"/><rect x="392.6" y="204.8" width="0.5" height="0.5"/><rect x="429.2" y="197.2" width="0.4" height="0.4"/><rect x="403.9" y="196.4" width="0.5" height="0.5"/><rect x="402.8" y="199.0" width="0.5" height="0.5"/><rect x="424.2" y="206.8" width="0.4" height="0.4"/><rect x="394.2" y="190.9" width="0.5" height="0.5"/><rect x="391.5" y="176.2" width="0.4" height="0.4"/><rect x="408.8" y="175.9" width="0.4" height="0.4"/><rect x="389.5" y="200.9" width="0.6" height="0.6"/><rect x="404.0" y="205.4" width="0.4" height="0.4"/><rect x="387.1" y="176.6" width="0.5" height="0.5"/><rect x="404.3" y="173.0" width="0.7" height="0.7"/><rect x="429.9" y="195.8" width="0.5" height="0.5"/><rect x="416.3" y="192.0" width="0.6" height="0.6"/><rect x="402.6" y="205.9" width="0.6" height="0.6"/><rect x="397.7" y="195.7" width="0.6" height="0.6"/><rect x="412.9" y="184.3" width="0.6" height="0.6"/><rect x="424.0" y="178.0" width="0.7" height="0.7"/><rect x="407.7" y="188.4" width="0.6" height="0.6"/><rect x="428.1" y="177.5" width="0.5" height="0.5"/><rect x="409.2" y="175.6" width="0.5" height="0.5"/><rect x="405.2" y="209.4" width="0.6" height="0.6"/><rect x="400.2" y="198.1" width="0.6" height="0.6"/><rect x="424.7" y="205.5" width="0.7" height="0.7"/><rect x="406.1" y="189.6" width="0.6" height="0.6"/><rect x="409.3" y="193.9" width="0.6" height="0.6"/><rect x="434.4" y="195.7" width="0.6" height="0.6"/><rect x="389.9" y="186.6" width="0.5" height="0.5"/><rect x="428.8" y="199.5" width="0.4" height="0.4"/><rect x="417.6" y="208.5" width="0.7" height="0.7"/><rect x="405.8" y="186.1" width="0.6" height="0.6"/><rect x="438.9" y="185.9" width="0.5" height="0.5"/><rect x="418.9" y="187.5" width="0.5" height="0.5"/><rect x="388.9" y="187.3" width="0.6" height="0.6"/><rect x="430.7" y="190.0" width="0.5" height="0.5"/><rect x="392.1" y="205.1" width="0.6" height="0.6"/><rect x="396.6" y="199.4" width="0.7" height="0.7"/><rect x="404.8" y="180.2" width="0.6" height="0.6"/><rect x="420.1" y="187.4" width="0.4" height="0.4"/><rect x="402.8" y="201.0" width="0.5" height="0.5"/><rect x="411.9" y="203.9" width="0.5" height="0.5"/><rect x="391.3" y="199.7" width="0.6" height="0.6"/><rect x="405.5" y="192.4" width="0.5" height="0.5"/><rect x="433.6" y="184.5" width="0.5" height="0.5"/><rect x="405.4" y="206.3" width="0.6" height="0.6"/><rect x="394.9" y="205.9" width="0.7" height="0.7"/><rect x="403.5" y="204.7" width="0.6" height="0.6"/><rect x="419.7" y="180.2" width="0.4" height="0.4"/><rect x="434.4" y="184.6" width="0.6" height="0.6"/><rect x="426.5" y="201.9" width="0.6" height="0.6"/><rect x="435.0" y="184.2" width="0.7" height="0.7"/><rect x="389.3" y="178.1" width="0.7" height="0.7"/><rect x="403.2" y="172.9" width="0.4" height="0.4"/><rect x="408.8" y="198.8" width="0.4" height="0.4"/><rect x="438.3" y="182.5" width="0.5" height="0.5"/></g>
<path d="M404.0,194.0 C414.0,200.5 428.0,201.0 437.0,193.5" fill="none" stroke="#aaa" stroke-width="0.45"/>
<path d="M405.0,194.6 C414.0,199.3 428.0,199.6 436.0,193.5" fill="none" stroke="#999" stroke-width="0.45"/>
<path d="M406.0,195.2 C414.0,198.1 428.0,198.2 435.0,193.5" fill="none" stroke="#888" stroke-width="0.45"/>
<path d="M407,197 C409,203 411,206 414,206" fill="none" stroke="#aaa" stroke-width="0.4"/>
<path d="M418,198 C419,203 421,205 424,205" fill="none" stroke="#aaa" stroke-width="0.4"/>
<path d="M390,174.5 C393,171.8 399,171.2 403.5,172.8 C405.2,180 405.3,192 404.6,200 C404,204 402,206.5 397,207 C392.5,207 390,205 389.2,200 C388.5,192 388.6,181 390,174.5 Z" fill="url(#globe)" stroke="none" stroke-width="1"/>
<path d="M400,175.5 C412,174.3 425,174.3 433,176.6 C437.5,179.5 437.8,188.5 433.5,192.2 C425,194.8 411,194.8 400,194.2 Z" fill="#3a3a3a" stroke="none" stroke-width="1"/>
<path d="M404,178.6 C413,177.6 424,177.8 430.5,179.8 C433,182.5 433,187.5 430.5,189.8 C424,191.4 413,191.4 404,190.8 Z" fill="#6a6a6a" stroke="none" stroke-width="1"/>
<line x1="406.00" y1="182.30" x2="429.00" y2="182.30" stroke="#999" stroke-width="0.55"/>
<line x1="406.00" y1="184.60" x2="429.00" y2="184.60" stroke="#ccc" stroke-width="0.55"/>
<line x1="406.00" y1="186.90" x2="429.00" y2="186.90" stroke="#999" stroke-width="0.55"/>
<ellipse cx="396.0" cy="184.6" rx="7.8" ry="11.8" fill="url(#gblob)"/>
<ellipse cx="396.0" cy="184.2" rx="6.0" ry="9.4" fill="#050505"/>
<circle cx="394.8" cy="184.5" r="0.9" fill="#aaa"/>
<line x1="387.30" y1="168.70" x2="387.30" y2="234.00" stroke="#888" stroke-width="0.55"/>
<line x1="402.30" y1="164.80" x2="402.30" y2="234.00" stroke="#444" stroke-width="0.7"/>
<line x1="404.70" y1="165.80" x2="404.70" y2="234.00" stroke="#888" stroke-width="0.55"/>
<line x1="441.50" y1="165.80" x2="441.50" y2="208.00" stroke="#444" stroke-width="0.6"/>
<line x1="387.30" y1="168.70" x2="402.30" y2="168.70" stroke="#888" stroke-width="0.55"/>
<line x1="397.00" y1="164.80" x2="426.00" y2="164.80" stroke="#444" stroke-width="0.6"/>
<line x1="404.70" y1="165.80" x2="441.50" y2="165.80" stroke="#888" stroke-width="0.55"/>
<line x1="404.70" y1="195.60" x2="441.50" y2="195.60" stroke="#999" stroke-width="1.0"/>
<line x1="402.30" y1="234.00" x2="441.50" y2="234.00" stroke="#888" stroke-width="0.55"/>
<rect x="373.00" y="218.50" width="1.60" height="2.50" fill="#000"/>
<rect x="353.80" y="141.60" width="43.20" height="26.50" fill="#8f97bd"/>
<text x="364.60" y="153.00" font-size="8.51" fill="#2a3050" textLength="17.40" lengthAdjust="spacingAndGlyphs">HPC1</text>
<text x="364.60" y="161.80" font-size="8.51" fill="#2a3050" textLength="22.40" lengthAdjust="spacingAndGlyphs">0.51%</text>
<rect x="426.20" y="141.60" width="42.00" height="26.50" fill="#8f97bd"/>
<text x="436.30" y="153.00" font-size="8.51" fill="#2a3050" textLength="19.80" lengthAdjust="spacingAndGlyphs">HPC2</text>
<text x="436.30" y="161.80" font-size="8.51" fill="#2a3050" textLength="21.60" lengthAdjust="spacingAndGlyphs">0.18%</text>
<rect x="439.60" y="207.40" width="40.40" height="26.20" fill="#8f97bd"/>
<text x="447.70" y="218.50" font-size="8.51" fill="#2a3050" textLength="14.80" lengthAdjust="spacingAndGlyphs">HSC</text>
<text x="447.70" y="227.80" font-size="8.51" fill="#2a3050" textLength="26.30" lengthAdjust="spacingAndGlyphs">0.012%</text>
<rect x="357.30" y="219.60" width="73.10" height="16.20" fill="#8f97bd"/>
<text x="368.80" y="230.00" font-size="8.51" fill="#2a3050" textLength="51.70" lengthAdjust="spacingAndGlyphs">MPP – 0.016%</text>
<g transform="translate(369.9,197.7) rotate(-90)">
<text x="0.00" y="0.00" font-size="8.62" text-anchor="middle" fill="#2b2b2b" textLength="19.70" lengthAdjust="spacingAndGlyphs">CD48</text>
</g>
<text x="418.80" y="250.80" font-size="8.62" text-anchor="middle" fill="#2b2b2b" textLength="25.00" lengthAdjust="spacingAndGlyphs">CD150</text>
<text x="7.20" y="278.90" font-size="10.2" font-weight="bold" textLength="8.30" lengthAdjust="spacingAndGlyphs">D</text>
<text x="189.40" y="278.50" font-size="10.64" fill="#222" textLength="99.60" lengthAdjust="spacingAndGlyphs">Frequency of Live Cells</text>
<line x1="50.50" y1="288.60" x2="50.50" y2="363.70" stroke="#111111" stroke-width="1.0"/>
<line x1="47.50" y1="363.20" x2="50.50" y2="363.20" stroke="#111111" stroke-width="0.9"/>
<text x="43.70" y="365.90" font-size="8.51" text-anchor="end" fill="#3a3a3a" textLength="15.83" lengthAdjust="spacingAndGlyphs">0.00</text>
<line x1="47.50" y1="348.72" x2="50.50" y2="348.72" stroke="#111111" stroke-width="0.9"/>
<text x="43.70" y="351.42" font-size="8.51" text-anchor="end" fill="#3a3a3a" textLength="15.83" lengthAdjust="spacingAndGlyphs">0.01</text>
<line x1="47.50" y1="334.24" x2="50.50" y2="334.24" stroke="#111111" stroke-width="0.9"/>
<text x="43.70" y="336.94" font-size="8.51" text-anchor="end" fill="#3a3a3a" textLength="15.83" lengthAdjust="spacingAndGlyphs">0.01</text>
<line x1="47.50" y1="319.76" x2="50.50" y2="319.76" stroke="#111111" stroke-width="0.9"/>
<text x="43.70" y="322.46" font-size="8.51" text-anchor="end" fill="#3a3a3a" textLength="15.83" lengthAdjust="spacingAndGlyphs">0.02</text>
<line x1="47.50" y1="305.28" x2="50.50" y2="305.28" stroke="#111111" stroke-width="0.9"/>
<text x="43.70" y="307.98" font-size="8.51" text-anchor="end" fill="#3a3a3a" textLength="15.83" lengthAdjust="spacingAndGlyphs">0.02</text>
<line x1="47.50" y1="290.80" x2="50.50" y2="290.80" stroke="#111111" stroke-width="0.9"/>
<text x="43.70" y="293.50" font-size="8.51" text-anchor="end" fill="#3a3a3a" textLength="15.83" lengthAdjust="spacingAndGlyphs">0.03</text>
<line x1="50.00" y1="363.20" x2="127.70" y2="363.20" stroke="#111111" stroke-width="1.0"/>
<line x1="50.50" y1="363.20" x2="50.50" y2="366.20" stroke="#111111" stroke-width="0.9"/>
<line x1="87.50" y1="363.20" x2="87.50" y2="366.20" stroke="#111111" stroke-width="0.9"/>
<line x1="125.00" y1="363.20" x2="125.00" y2="366.20" stroke="#111111" stroke-width="0.9"/>
<rect x="58.30" y="338.00" width="10.50" height="25.20" fill="#a50028"/>
<line x1="63.55" y1="331.20" x2="63.55" y2="343.30" stroke="#1e1e1e" stroke-width="1.05"/>
<line x1="60.85" y1="331.20" x2="66.25" y2="331.20" stroke="#1e1e1e" stroke-width="1.05"/>
<line x1="60.85" y1="343.30" x2="66.25" y2="343.30" stroke="#1e1e1e" stroke-width="1.05"/>
<rect x="68.80" y="321.20" width="10.40" height="42.00" fill="#2c4e85"/>
<line x1="74.00" y1="309.20" x2="74.00" y2="333.10" stroke="#1e1e1e" stroke-width="1.05"/>
<line x1="71.30" y1="309.20" x2="76.70" y2="309.20" stroke="#1e1e1e" stroke-width="1.05"/>
<line x1="71.30" y1="333.10" x2="76.70" y2="333.10" stroke="#1e1e1e" stroke-width="1.05"/>
<circle cx="74.10" cy="305.40" r="1.05" fill="#222"/>
<rect x="96.20" y="314.80" width="11.00" height="48.40" fill="#a50028"/>
<line x1="101.70" y1="298.90" x2="101.70" y2="330.30" stroke="#1e1e1e" stroke-width="1.05"/>
<line x1="99.00" y1="298.90" x2="104.40" y2="298.90" stroke="#1e1e1e" stroke-width="1.05"/>
<line x1="99.00" y1="330.30" x2="104.40" y2="330.30" stroke="#1e1e1e" stroke-width="1.05"/>
<rect x="107.20" y="328.50" width="10.10" height="34.70" fill="#2c4e85"/>
<line x1="112.25" y1="318.40" x2="112.25" y2="338.20" stroke="#1e1e1e" stroke-width="1.05"/>
<line x1="109.55" y1="318.40" x2="114.95" y2="318.40" stroke="#1e1e1e" stroke-width="1.05"/>
<line x1="109.55" y1="338.20" x2="114.95" y2="338.20" stroke="#1e1e1e" stroke-width="1.05"/>
<text x="69.00" y="375.90" font-size="8.51" text-anchor="middle" fill="#2b2b2b" textLength="15.70" lengthAdjust="spacingAndGlyphs">HSC</text>
<text x="106.70" y="375.90" font-size="8.51" text-anchor="middle" fill="#2b2b2b" textLength="16.50" lengthAdjust="spacingAndGlyphs">MPP</text>
<g transform="translate(22.80,325.00) rotate(-90)">
<text x="0.00" y="0.00" font-size="8.18" text-anchor="middle" fill="#333" textLength="44.20" lengthAdjust="spacingAndGlyphs">% of live cells</text>
</g>
<line x1="155.60" y1="289.00" x2="155.60" y2="363.70" stroke="#111111" stroke-width="1.0"/>
<line x1="152.60" y1="363.20" x2="155.60" y2="363.20" stroke="#111111" stroke-width="0.9"/>
<text x="149.70" y="365.90" font-size="8.51" text-anchor="end" fill="#3a3a3a" textLength="15.83" lengthAdjust="spacingAndGlyphs">0.00</text>
<line x1="152.60" y1="351.20" x2="155.60" y2="351.20" stroke="#111111" stroke-width="0.9"/>
<text x="149.70" y="353.90" font-size="8.51" text-anchor="end" fill="#3a3a3a" textLength="15.83" lengthAdjust="spacingAndGlyphs">0.10</text>
<line x1="152.60" y1="339.20" x2="155.60" y2="339.20" stroke="#111111" stroke-width="0.9"/>
<text x="149.70" y="341.90" font-size="8.51" text-anchor="end" fill="#3a3a3a" textLength="15.83" lengthAdjust="spacingAndGlyphs">0.20</text>
<line x1="152.60" y1="327.20" x2="155.60" y2="327.20" stroke="#111111" stroke-width="0.9"/>
<text x="149.70" y="329.90" font-size="8.51" text-anchor="end" fill="#3a3a3a" textLength="15.83" lengthAdjust="spacingAndGlyphs">0.30</text>
<line x1="152.60" y1="315.20" x2="155.60" y2="315.20" stroke="#111111" stroke-width="0.9"/>
<text x="149.70" y="317.90" font-size="8.51" text-anchor="end" fill="#3a3a3a" textLength="15.83" lengthAdjust="spacingAndGlyphs">0.40</text>
<line x1="152.60" y1="303.20" x2="155.60" y2="303.20" stroke="#111111" stroke-width="0.9"/>
<text x="149.70" y="305.90" font-size="8.51" text-anchor="end" fill="#3a3a3a" textLength="15.83" lengthAdjust="spacingAndGlyphs">0.50</text>
<line x1="152.60" y1="291.20" x2="155.60" y2="291.20" stroke="#111111" stroke-width="0.9"/>
<text x="149.70" y="293.90" font-size="8.51" text-anchor="end" fill="#3a3a3a" textLength="15.83" lengthAdjust="spacingAndGlyphs">0.60</text>
<line x1="155.10" y1="363.20" x2="250.00" y2="363.20" stroke="#111111" stroke-width="1.0"/>
<line x1="155.60" y1="363.20" x2="155.60" y2="366.20" stroke="#111111" stroke-width="0.9"/>
<line x1="202.00" y1="363.20" x2="202.00" y2="366.20" stroke="#111111" stroke-width="0.9"/>
<line x1="248.75" y1="363.20" x2="248.75" y2="366.20" stroke="#111111" stroke-width="0.9"/>
<rect x="165.50" y="353.25" width="14.00" height="9.95" fill="#a50028"/>
<line x1="172.50" y1="350.60" x2="172.50" y2="356.00" stroke="#1e1e1e" stroke-width="1.05"/>
<line x1="169.80" y1="350.60" x2="175.20" y2="350.60" stroke="#1e1e1e" stroke-width="1.05"/>
<line x1="169.80" y1="356.00" x2="175.20" y2="356.00" stroke="#1e1e1e" stroke-width="1.05"/>
<rect x="179.50" y="320.50" width="13.00" height="42.70" fill="#2c4e85"/>
<line x1="186.00" y1="303.25" x2="186.00" y2="338.00" stroke="#1e1e1e" stroke-width="1.05"/>
<line x1="183.30" y1="303.25" x2="188.70" y2="303.25" stroke="#1e1e1e" stroke-width="1.05"/>
<line x1="183.30" y1="338.00" x2="188.70" y2="338.00" stroke="#1e1e1e" stroke-width="1.05"/>
<circle cx="185.60" cy="299.90" r="1.05" fill="#222"/>
<rect x="212.50" y="360.30" width="13.75" height="2.90" fill="#a50028"/>
<rect x="226.25" y="345.75" width="12.50" height="17.45" fill="#2c4e85"/>
<line x1="232.50" y1="337.00" x2="232.50" y2="354.50" stroke="#1e1e1e" stroke-width="1.05"/>
<line x1="229.80" y1="337.00" x2="235.20" y2="337.00" stroke="#1e1e1e" stroke-width="1.05"/>
<line x1="229.80" y1="354.50" x2="235.20" y2="354.50" stroke="#1e1e1e" stroke-width="1.05"/>
<circle cx="232.20" cy="333.30" r="1.05" fill="#222"/>
<text x="178.10" y="375.60" font-size="8.51" text-anchor="middle" fill="#2b2b2b" textLength="18.80" lengthAdjust="spacingAndGlyphs">HPC1</text>
<text x="225.30" y="375.60" font-size="8.51" text-anchor="middle" fill="#2b2b2b" textLength="19.50" lengthAdjust="spacingAndGlyphs">HPC2</text>
<line x1="275.00" y1="287.80" x2="275.00" y2="363.70" stroke="#111111" stroke-width="1.0"/>
<line x1="272.00" y1="363.20" x2="275.00" y2="363.20" stroke="#111111" stroke-width="0.9"/>
<text x="268.90" y="365.90" font-size="8.51" text-anchor="end" fill="#3a3a3a" textLength="4.52" lengthAdjust="spacingAndGlyphs">0</text>
<line x1="272.00" y1="338.80" x2="275.00" y2="338.80" stroke="#111111" stroke-width="0.9"/>
<text x="268.90" y="341.50" font-size="8.51" text-anchor="end" fill="#3a3a3a" textLength="11.30" lengthAdjust="spacingAndGlyphs">0.2</text>
<line x1="272.00" y1="314.40" x2="275.00" y2="314.40" stroke="#111111" stroke-width="0.9"/>
<text x="268.90" y="317.10" font-size="8.51" text-anchor="end" fill="#3a3a3a" textLength="11.30" lengthAdjust="spacingAndGlyphs">0.4</text>
<line x1="272.00" y1="290.00" x2="275.00" y2="290.00" stroke="#111111" stroke-width="0.9"/>
<text x="268.90" y="292.70" font-size="8.51" text-anchor="end" fill="#3a3a3a" textLength="11.30" lengthAdjust="spacingAndGlyphs">0.6</text>
<line x1="274.50" y1="363.20" x2="462.10" y2="363.20" stroke="#111111" stroke-width="1.0"/>
<line x1="275.00" y1="363.20" x2="275.00" y2="366.20" stroke="#111111" stroke-width="0.9"/>
<line x1="320.30" y1="363.20" x2="320.30" y2="366.20" stroke="#111111" stroke-width="0.9"/>
<line x1="367.60" y1="363.20" x2="367.60" y2="366.20" stroke="#111111" stroke-width="0.9"/>
<line x1="415.00" y1="363.20" x2="415.00" y2="366.20" stroke="#111111" stroke-width="0.9"/>
<line x1="461.80" y1="363.20" x2="461.80" y2="366.20" stroke="#111111" stroke-width="0.9"/>
<rect x="284.50" y="321.20" width="13.40" height="42.00" fill="#a50028"/>
<rect x="297.90" y="331.90" width="13.50" height="31.30" fill="#2c4e85"/>
<line x1="304.65" y1="323.80" x2="304.65" y2="339.50" stroke="#1e1e1e" stroke-width="1.05"/>
<line x1="301.95" y1="323.80" x2="307.35" y2="323.80" stroke="#1e1e1e" stroke-width="1.05"/>
<line x1="301.95" y1="339.50" x2="307.35" y2="339.50" stroke="#1e1e1e" stroke-width="1.05"/>
<rect x="330.20" y="336.00" width="14.00" height="27.20" fill="#a50028"/>
<line x1="337.20" y1="335.40" x2="337.20" y2="336.60" stroke="#1e1e1e" stroke-width="1.05"/>
<line x1="334.50" y1="335.40" x2="339.90" y2="335.40" stroke="#1e1e1e" stroke-width="1.05"/>
<line x1="334.50" y1="336.60" x2="339.90" y2="336.60" stroke="#1e1e1e" stroke-width="1.05"/>
<rect x="344.20" y="350.80" width="13.50" height="12.40" fill="#2c4e85"/>
<line x1="350.95" y1="345.90" x2="350.95" y2="356.70" stroke="#1e1e1e" stroke-width="1.05"/>
<line x1="348.25" y1="345.90" x2="353.65" y2="345.90" stroke="#1e1e1e" stroke-width="1.05"/>
<line x1="348.25" y1="356.70" x2="353.65" y2="356.70" stroke="#1e1e1e" stroke-width="1.05"/>
<circle cx="350.60" cy="342.10" r="1.05" fill="#222"/>
<rect x="376.50" y="319.80" width="14.30" height="43.40" fill="#a50028"/>
<line x1="383.65" y1="296.40" x2="383.65" y2="342.00" stroke="#1e1e1e" stroke-width="1.05"/>
<line x1="380.95" y1="296.40" x2="386.35" y2="296.40" stroke="#1e1e1e" stroke-width="1.05"/>
<line x1="380.95" y1="342.00" x2="386.35" y2="342.00" stroke="#1e1e1e" stroke-width="1.05"/>
<rect x="390.80" y="324.40" width="13.40" height="38.80" fill="#2c4e85"/>
<line x1="397.50" y1="311.20" x2="397.50" y2="337.30" stroke="#1e1e1e" stroke-width="1.05"/>
<line x1="394.80" y1="311.20" x2="400.20" y2="311.20" stroke="#1e1e1e" stroke-width="1.05"/>
<line x1="394.80" y1="337.30" x2="400.20" y2="337.30" stroke="#1e1e1e" stroke-width="1.05"/>
<rect x="423.60" y="346.70" width="13.50" height="16.50" fill="#a50028"/>
<line x1="430.35" y1="346.20" x2="430.35" y2="347.20" stroke="#1e1e1e" stroke-width="1.05"/>
<line x1="427.65" y1="346.20" x2="433.05" y2="346.20" stroke="#1e1e1e" stroke-width="1.05"/>
<line x1="427.65" y1="347.20" x2="433.05" y2="347.20" stroke="#1e1e1e" stroke-width="1.05"/>
<rect x="437.10" y="341.90" width="12.90" height="21.30" fill="#2c4e85"/>
<line x1="443.55" y1="333.80" x2="443.55" y2="350.80" stroke="#1e1e1e" stroke-width="1.05"/>
<line x1="440.85" y1="333.80" x2="446.25" y2="333.80" stroke="#1e1e1e" stroke-width="1.05"/>
<line x1="440.85" y1="350.80" x2="446.25" y2="350.80" stroke="#1e1e1e" stroke-width="1.05"/>
<text x="298.80" y="375.90" font-size="8.51" text-anchor="middle" fill="#2b2b2b" textLength="18.10" lengthAdjust="spacingAndGlyphs">CMP</text>
<text x="344.60" y="375.90" font-size="8.51" text-anchor="middle" fill="#2b2b2b" textLength="18.10" lengthAdjust="spacingAndGlyphs">MEP</text>
<text x="390.00" y="375.90" font-size="8.51" text-anchor="middle" fill="#2b2b2b" textLength="17.50" lengthAdjust="spacingAndGlyphs">GMP</text>
<text x="436.50" y="375.90" font-size="8.51" text-anchor="middle" fill="#2b2b2b" textLength="13.50" lengthAdjust="spacingAndGlyphs">CLP</text>
<rect x="430.90" y="289.90" width="3.90" height="3.90" fill="#88132f"/>
<text x="437.90" y="293.80" font-size="8.06" fill="#444" textLength="25.20" lengthAdjust="spacingAndGlyphs">Control</text>
<rect x="430.90" y="300.50" width="3.90" height="3.90" fill="#2b3c5e"/>
<text x="437.90" y="304.30" font-size="8.06" fill="#444" textLength="20.80" lengthAdjust="spacingAndGlyphs">CDKO</text>
<text x="8.00" y="402.20" font-size="10.2" font-weight="bold" textLength="6.60" lengthAdjust="spacingAndGlyphs">E</text>
<text x="75.80" y="406.80" font-size="9.8" text-anchor="middle" fill="#333" textLength="57.70" lengthAdjust="spacingAndGlyphs">Bone Marrow</text>
<text x="75.50" y="418.90" font-size="9.8" text-anchor="middle" fill="#333" textLength="42.90" lengthAdjust="spacingAndGlyphs">Cellularity</text>
<line x1="50.50" y1="423.60" x2="50.50" y2="505.80" stroke="#111111" stroke-width="1.0"/>
<line x1="47.50" y1="505.30" x2="50.50" y2="505.30" stroke="#111111" stroke-width="0.9"/>
<text x="44.60" y="508.00" font-size="8.85" text-anchor="end" fill="#3a3a3a" textLength="4.70" lengthAdjust="spacingAndGlyphs">0</text>
<line x1="47.50" y1="489.40" x2="50.50" y2="489.40" stroke="#111111" stroke-width="0.9"/>
<text x="44.60" y="492.10" font-size="8.85" text-anchor="end" fill="#3a3a3a" textLength="9.40" lengthAdjust="spacingAndGlyphs">20</text>
<line x1="47.50" y1="473.50" x2="50.50" y2="473.50" stroke="#111111" stroke-width="0.9"/>
<text x="44.60" y="476.20" font-size="8.85" text-anchor="end" fill="#3a3a3a" textLength="9.40" lengthAdjust="spacingAndGlyphs">40</text>
<line x1="47.50" y1="457.60" x2="50.50" y2="457.60" stroke="#111111" stroke-width="0.9"/>
<text x="44.60" y="460.30" font-size="8.85" text-anchor="end" fill="#3a3a3a" textLength="9.40" lengthAdjust="spacingAndGlyphs">60</text>
<line x1="47.50" y1="441.70" x2="50.50" y2="441.70" stroke="#111111" stroke-width="0.9"/>
<text x="44.60" y="444.40" font-size="8.85" text-anchor="end" fill="#3a3a3a" textLength="9.40" lengthAdjust="spacingAndGlyphs">80</text>
<line x1="47.50" y1="425.80" x2="50.50" y2="425.80" stroke="#111111" stroke-width="0.9"/>
<text x="44.60" y="428.50" font-size="8.85" text-anchor="end" fill="#3a3a3a" textLength="14.10" lengthAdjust="spacingAndGlyphs">100</text>
<line x1="50.00" y1="505.30" x2="100.40" y2="505.30" stroke="#111111" stroke-width="1.0"/>
<line x1="50.50" y1="505.30" x2="50.50" y2="508.30" stroke="#111111" stroke-width="0.9"/>
<line x1="98.00" y1="505.30" x2="98.00" y2="508.30" stroke="#111111" stroke-width="0.9"/>
<rect x="60.40" y="448.10" width="13.60" height="57.20" fill="#a50028"/>
<line x1="67.20" y1="438.20" x2="67.20" y2="458.30" stroke="#1e1e1e" stroke-width="1.05"/>
<line x1="64.50" y1="438.20" x2="69.90" y2="438.20" stroke="#1e1e1e" stroke-width="1.05"/>
<line x1="64.50" y1="458.30" x2="69.90" y2="458.30" stroke="#1e1e1e" stroke-width="1.05"/>
<rect x="74.00" y="465.40" width="13.90" height="39.90" fill="#2c4e85"/>
<line x1="80.95" y1="453.50" x2="80.95" y2="479.40" stroke="#1e1e1e" stroke-width="1.05"/>
<line x1="78.25" y1="453.50" x2="83.65" y2="453.50" stroke="#1e1e1e" stroke-width="1.05"/>
<line x1="78.25" y1="479.40" x2="83.65" y2="479.40" stroke="#1e1e1e" stroke-width="1.05"/>
<g transform="translate(25.30,466.00) rotate(-90)">
<text x="0.00" y="0.00" font-size="8.51" text-anchor="middle" fill="#333">10<tspan dy="-2.5" font-size="5">6</tspan><tspan dy="2.5"> cells</tspan></text>
</g>
<text x="120.60" y="402.50" font-size="10.2" font-weight="bold" textLength="6.00" lengthAdjust="spacingAndGlyphs">F</text>
<line x1="165.00" y1="417.07" x2="165.00" y2="505.80" stroke="#111111" stroke-width="1.0"/>
<line x1="162.00" y1="505.30" x2="165.00" y2="505.30" stroke="#111111" stroke-width="0.9"/>
<text x="158.70" y="508.00" font-size="8.51" text-anchor="end" fill="#3a3a3a" textLength="4.52" lengthAdjust="spacingAndGlyphs">0</text>
<line x1="162.00" y1="493.01" x2="165.00" y2="493.01" stroke="#111111" stroke-width="0.9"/>
<text x="158.70" y="495.71" font-size="8.51" text-anchor="end" fill="#3a3a3a" textLength="20.35" lengthAdjust="spacingAndGlyphs">0.001</text>
<line x1="162.00" y1="480.72" x2="165.00" y2="480.72" stroke="#111111" stroke-width="0.9"/>
<text x="158.70" y="483.42" font-size="8.51" text-anchor="end" fill="#3a3a3a" textLength="20.35" lengthAdjust="spacingAndGlyphs">0.002</text>
<line x1="162.00" y1="468.43" x2="165.00" y2="468.43" stroke="#111111" stroke-width="0.9"/>
<text x="158.70" y="471.13" font-size="8.51" text-anchor="end" fill="#3a3a3a" textLength="20.35" lengthAdjust="spacingAndGlyphs">0.003</text>
<line x1="162.00" y1="456.14" x2="165.00" y2="456.14" stroke="#111111" stroke-width="0.9"/>
<text x="158.70" y="458.84" font-size="8.51" text-anchor="end" fill="#3a3a3a" textLength="20.35" lengthAdjust="spacingAndGlyphs">0.004</text>
<line x1="162.00" y1="443.85" x2="165.00" y2="443.85" stroke="#111111" stroke-width="0.9"/>
<text x="158.70" y="446.55" font-size="8.51" text-anchor="end" fill="#3a3a3a" textLength="20.35" lengthAdjust="spacingAndGlyphs">0.005</text>
<line x1="162.00" y1="431.56" x2="165.00" y2="431.56" stroke="#111111" stroke-width="0.9"/>
<text x="158.70" y="434.26" font-size="8.51" text-anchor="end" fill="#3a3a3a" textLength="20.35" lengthAdjust="spacingAndGlyphs">0.006</text>
<line x1="162.00" y1="419.27" x2="165.00" y2="419.27" stroke="#111111" stroke-width="0.9"/>
<text x="158.70" y="421.97" font-size="8.51" text-anchor="end" fill="#3a3a3a" textLength="20.35" lengthAdjust="spacingAndGlyphs">0.007</text>
<line x1="164.50" y1="505.30" x2="293.70" y2="505.30" stroke="#111111" stroke-width="1.0"/>
<line x1="165.00" y1="505.30" x2="165.00" y2="508.30" stroke="#111111" stroke-width="0.9"/>
<line x1="228.20" y1="505.30" x2="228.20" y2="508.30" stroke="#111111" stroke-width="0.9"/>
<line x1="292.40" y1="505.30" x2="292.40" y2="508.30" stroke="#111111" stroke-width="0.9"/>
<rect x="176.00" y="487.90" width="13.40" height="17.40" fill="#6aa63e"/>
<line x1="182.70" y1="482.70" x2="182.70" y2="494.20" stroke="#1e1e1e" stroke-width="1.05"/>
<line x1="180.00" y1="482.70" x2="185.40" y2="482.70" stroke="#1e1e1e" stroke-width="1.05"/>
<line x1="180.00" y1="494.20" x2="185.40" y2="494.20" stroke="#1e1e1e" stroke-width="1.05"/>
<rect x="189.40" y="485.20" width="14.50" height="20.10" fill="#a50028"/>
<line x1="196.65" y1="477.40" x2="196.65" y2="494.20" stroke="#1e1e1e" stroke-width="1.05"/>
<line x1="193.95" y1="477.40" x2="199.35" y2="477.40" stroke="#1e1e1e" stroke-width="1.05"/>
<line x1="193.95" y1="494.20" x2="199.35" y2="494.20" stroke="#1e1e1e" stroke-width="1.05"/>
<rect x="203.90" y="491.40" width="13.60" height="13.90" fill="#2c4e85"/>
<line x1="210.70" y1="486.40" x2="210.70" y2="497.60" stroke="#1e1e1e" stroke-width="1.05"/>
<line x1="208.00" y1="486.40" x2="213.40" y2="486.40" stroke="#1e1e1e" stroke-width="1.05"/>
<line x1="208.00" y1="497.60" x2="213.40" y2="497.60" stroke="#1e1e1e" stroke-width="1.05"/>
<rect x="239.50" y="486.10" width="14.10" height="19.20" fill="#6aa63e"/>
<line x1="246.55" y1="480.20" x2="246.55" y2="491.40" stroke="#1e1e1e" stroke-width="1.05"/>
<line x1="243.85" y1="480.20" x2="249.25" y2="480.20" stroke="#1e1e1e" stroke-width="1.05"/>
<line x1="243.85" y1="491.40" x2="249.25" y2="491.40" stroke="#1e1e1e" stroke-width="1.05"/>
<rect x="253.60" y="464.20" width="14.20" height="41.10" fill="#a50028"/>
<line x1="260.70" y1="446.80" x2="260.70" y2="481.60" stroke="#1e1e1e" stroke-width="1.05"/>
<line x1="258.00" y1="446.80" x2="263.40" y2="446.80" stroke="#1e1e1e" stroke-width="1.05"/>
<line x1="258.00" y1="481.60" x2="263.40" y2="481.60" stroke="#1e1e1e" stroke-width="1.05"/>
<rect x="267.80" y="444.70" width="13.90" height="60.60" fill="#2c4e85"/>
<line x1="274.75" y1="428.60" x2="274.75" y2="461.50" stroke="#1e1e1e" stroke-width="1.05"/>
<line x1="272.05" y1="428.60" x2="277.45" y2="428.60" stroke="#1e1e1e" stroke-width="1.05"/>
<line x1="272.05" y1="461.50" x2="277.45" y2="461.50" stroke="#1e1e1e" stroke-width="1.05"/>
<circle cx="274.50" cy="424.90" r="1.05" fill="#222"/>
<text x="196.40" y="518.00" font-size="8.62" text-anchor="middle" fill="#2b2b2b" textLength="49.43" lengthAdjust="spacingAndGlyphs">HSC (CD150+</text>
<text x="196.40" y="527.50" font-size="8.62" text-anchor="middle" fill="#2b2b2b" textLength="46.64" lengthAdjust="spacingAndGlyphs">CD48- CD34-</text>
<text x="196.40" y="536.60" font-size="8.62" text-anchor="middle" fill="#2b2b2b" textLength="17.97" lengthAdjust="spacingAndGlyphs">Flt3-)</text>
<text x="259.50" y="518.00" font-size="8.62" text-anchor="middle" fill="#2b2b2b" textLength="54.14" lengthAdjust="spacingAndGlyphs">MPP1 (CD150+</text>
<text x="259.50" y="527.50" font-size="8.62" text-anchor="middle" fill="#2b2b2b" textLength="48.57" lengthAdjust="spacingAndGlyphs">CD48- CD34+</text>
<text x="259.50" y="536.60" font-size="8.62" text-anchor="middle" fill="#2b2b2b" textLength="17.97" lengthAdjust="spacingAndGlyphs">Flt3-)</text>
<g transform="translate(133.20,461.40) rotate(-90)">
<text x="0.00" y="0.00" font-size="8.18" text-anchor="middle" fill="#333" textLength="44.20" lengthAdjust="spacingAndGlyphs">% of live cells</text>
</g>
<line x1="336.00" y1="426.58" x2="336.00" y2="505.90" stroke="#111111" stroke-width="1.0"/>
<line x1="333.00" y1="505.40" x2="336.00" y2="505.40" stroke="#111111" stroke-width="0.9"/>
<text x="330.30" y="508.10" font-size="8.51" text-anchor="end" fill="#3a3a3a" textLength="4.52" lengthAdjust="spacingAndGlyphs">0</text>
<line x1="333.00" y1="492.63" x2="336.00" y2="492.63" stroke="#111111" stroke-width="0.9"/>
<text x="330.30" y="495.33" font-size="8.51" text-anchor="end" fill="#3a3a3a" textLength="15.83" lengthAdjust="spacingAndGlyphs">0.02</text>
<line x1="333.00" y1="479.86" x2="336.00" y2="479.86" stroke="#111111" stroke-width="0.9"/>
<text x="330.30" y="482.56" font-size="8.51" text-anchor="end" fill="#3a3a3a" textLength="15.83" lengthAdjust="spacingAndGlyphs">0.04</text>
<line x1="333.00" y1="467.09" x2="336.00" y2="467.09" stroke="#111111" stroke-width="0.9"/>
<text x="330.30" y="469.79" font-size="8.51" text-anchor="end" fill="#3a3a3a" textLength="15.83" lengthAdjust="spacingAndGlyphs">0.06</text>
<line x1="333.00" y1="454.32" x2="336.00" y2="454.32" stroke="#111111" stroke-width="0.9"/>
<text x="330.30" y="457.02" font-size="8.51" text-anchor="end" fill="#3a3a3a" textLength="15.83" lengthAdjust="spacingAndGlyphs">0.08</text>
<line x1="333.00" y1="441.55" x2="336.00" y2="441.55" stroke="#111111" stroke-width="0.9"/>
<text x="330.30" y="444.25" font-size="8.51" text-anchor="end" fill="#3a3a3a" textLength="11.30" lengthAdjust="spacingAndGlyphs">0.1</text>
<line x1="333.00" y1="428.78" x2="336.00" y2="428.78" stroke="#111111" stroke-width="0.9"/>
<text x="330.30" y="431.48" font-size="8.51" text-anchor="end" fill="#3a3a3a" textLength="15.83" lengthAdjust="spacingAndGlyphs">0.12</text>
<line x1="335.50" y1="505.40" x2="512.90" y2="505.40" stroke="#111111" stroke-width="1.0"/>
<line x1="336.00" y1="505.40" x2="336.00" y2="508.40" stroke="#111111" stroke-width="0.9"/>
<line x1="392.50" y1="505.40" x2="392.50" y2="508.40" stroke="#111111" stroke-width="0.9"/>
<line x1="452.00" y1="505.40" x2="452.00" y2="508.40" stroke="#111111" stroke-width="0.9"/>
<line x1="512.00" y1="505.40" x2="512.00" y2="508.40" stroke="#111111" stroke-width="0.9"/>
<rect x="346.00" y="502.10" width="12.60" height="3.30" fill="#6aa63e"/>
<line x1="352.30" y1="501.40" x2="352.30" y2="502.80" stroke="#1e1e1e" stroke-width="1.05"/>
<line x1="349.60" y1="501.40" x2="355.00" y2="501.40" stroke="#1e1e1e" stroke-width="1.05"/>
<line x1="349.60" y1="502.80" x2="355.00" y2="502.80" stroke="#1e1e1e" stroke-width="1.05"/>
<rect x="358.60" y="500.20" width="13.20" height="5.20" fill="#a50028"/>
<line x1="365.20" y1="499.60" x2="365.20" y2="500.80" stroke="#1e1e1e" stroke-width="1.05"/>
<line x1="362.50" y1="499.60" x2="367.90" y2="499.60" stroke="#1e1e1e" stroke-width="1.05"/>
<line x1="362.50" y1="500.80" x2="367.90" y2="500.80" stroke="#1e1e1e" stroke-width="1.05"/>
<rect x="371.80" y="476.50" width="12.80" height="28.90" fill="#2c4e85"/>
<line x1="378.20" y1="475.80" x2="378.20" y2="477.20" stroke="#1e1e1e" stroke-width="1.05"/>
<line x1="375.50" y1="475.80" x2="380.90" y2="475.80" stroke="#1e1e1e" stroke-width="1.05"/>
<line x1="375.50" y1="477.20" x2="380.90" y2="477.20" stroke="#1e1e1e" stroke-width="1.05"/>
<circle cx="376.48" cy="473.00" r="1.05" fill="#222"/>
<circle cx="379.73" cy="473.00" r="1.05" fill="#222"/>
<rect x="403.80" y="499.10" width="12.60" height="6.30" fill="#6aa63e"/>
<line x1="410.10" y1="498.50" x2="410.10" y2="499.70" stroke="#1e1e1e" stroke-width="1.05"/>
<line x1="407.40" y1="498.50" x2="412.80" y2="498.50" stroke="#1e1e1e" stroke-width="1.05"/>
<line x1="407.40" y1="499.70" x2="412.80" y2="499.70" stroke="#1e1e1e" stroke-width="1.05"/>
<rect x="416.40" y="496.40" width="13.20" height="9.00" fill="#a50028"/>
<line x1="423.00" y1="495.70" x2="423.00" y2="497.10" stroke="#1e1e1e" stroke-width="1.05"/>
<line x1="420.30" y1="495.70" x2="425.70" y2="495.70" stroke="#1e1e1e" stroke-width="1.05"/>
<line x1="420.30" y1="497.10" x2="425.70" y2="497.10" stroke="#1e1e1e" stroke-width="1.05"/>
<rect x="429.60" y="460.80" width="13.10" height="44.60" fill="#2c4e85"/>
<line x1="436.15" y1="460.10" x2="436.15" y2="461.50" stroke="#1e1e1e" stroke-width="1.05"/>
<line x1="433.45" y1="460.10" x2="438.85" y2="460.10" stroke="#1e1e1e" stroke-width="1.05"/>
<line x1="433.45" y1="461.50" x2="438.85" y2="461.50" stroke="#1e1e1e" stroke-width="1.05"/>
<circle cx="434.68" cy="456.70" r="1.05" fill="#222"/>
<circle cx="437.93" cy="456.70" r="1.05" fill="#222"/>
<rect x="461.90" y="495.60" width="12.70" height="9.80" fill="#6aa63e"/>
<line x1="468.25" y1="493.00" x2="468.25" y2="498.60" stroke="#1e1e1e" stroke-width="1.05"/>
<line x1="465.55" y1="493.00" x2="470.95" y2="493.00" stroke="#1e1e1e" stroke-width="1.05"/>
<line x1="465.55" y1="498.60" x2="470.95" y2="498.60" stroke="#1e1e1e" stroke-width="1.05"/>
<rect x="474.60" y="489.70" width="13.80" height="15.70" fill="#a50028"/>
<line x1="481.50" y1="487.40" x2="481.50" y2="491.80" stroke="#1e1e1e" stroke-width="1.05"/>
<line x1="478.80" y1="487.40" x2="484.20" y2="487.40" stroke="#1e1e1e" stroke-width="1.05"/>
<line x1="478.80" y1="491.80" x2="484.20" y2="491.80" stroke="#1e1e1e" stroke-width="1.05"/>
<rect x="488.40" y="447.00" width="12.70" height="58.40" fill="#2c4e85"/>
<line x1="494.75" y1="440.50" x2="494.75" y2="454.30" stroke="#1e1e1e" stroke-width="1.05"/>
<line x1="492.05" y1="440.50" x2="497.45" y2="440.50" stroke="#1e1e1e" stroke-width="1.05"/>
<line x1="492.05" y1="454.30" x2="497.45" y2="454.30" stroke="#1e1e1e" stroke-width="1.05"/>
<circle cx="493.07" cy="436.30" r="1.05" fill="#222"/>
<circle cx="496.32" cy="436.30" r="1.05" fill="#222"/>
<text x="360.50" y="518.00" font-size="8.62" text-anchor="middle" fill="#2b2b2b" textLength="54.14" lengthAdjust="spacingAndGlyphs">MPP2 (CD150+</text>
<text x="360.50" y="527.30" font-size="8.62" text-anchor="middle" fill="#2b2b2b" textLength="50.51" lengthAdjust="spacingAndGlyphs">CD48+ CD34+</text>
<text x="360.50" y="536.40" font-size="8.62" text-anchor="middle" fill="#2b2b2b" textLength="17.97" lengthAdjust="spacingAndGlyphs">Flt3-)</text>
<text x="423.50" y="518.00" font-size="8.62" text-anchor="middle" fill="#2b2b2b" textLength="52.21" lengthAdjust="spacingAndGlyphs">MPP3 (CD150-</text>
<text x="423.50" y="527.30" font-size="8.62" text-anchor="middle" fill="#2b2b2b" textLength="50.51" lengthAdjust="spacingAndGlyphs">CD48+ CD34+</text>
<text x="423.50" y="536.40" font-size="8.62" text-anchor="middle" fill="#2b2b2b" textLength="17.97" lengthAdjust="spacingAndGlyphs">Flt3-)</text>
<text x="485.20" y="518.00" font-size="8.62" text-anchor="middle" fill="#2b2b2b" textLength="52.21" lengthAdjust="spacingAndGlyphs">MPP4 (CD150-</text>
<text x="485.20" y="527.30" font-size="8.62" text-anchor="middle" fill="#2b2b2b" textLength="50.51" lengthAdjust="spacingAndGlyphs">CD48+ CD34+</text>
<text x="485.20" y="536.40" font-size="8.62" text-anchor="middle" fill="#2b2b2b" textLength="19.90" lengthAdjust="spacingAndGlyphs">Flt3+)</text>
<g transform="translate(308.30,465.40) rotate(-90)">
<text x="0.00" y="0.00" font-size="8.18" text-anchor="middle" fill="#333" textLength="44.50" lengthAdjust="spacingAndGlyphs">% of live cells</text>
</g>
<rect x="373.30" y="395.40" width="4.20" height="4.20" fill="#5e9a38"/>
<text x="379.80" y="399.70" font-size="8.29" fill="#333" textLength="11.50" lengthAdjust="spacingAndGlyphs">WT</text>
<rect x="373.30" y="406.80" width="4.20" height="4.20" fill="#88132f"/>
<text x="379.80" y="411.00" font-size="8.29" fill="#333" textLength="62.30" lengthAdjust="spacingAndGlyphs">Control (Nr4a3 -/-)</text>
<rect x="373.30" y="418.20" width="4.20" height="4.20" fill="#2b3c5e"/>
<text x="379.80" y="422.50" font-size="8.29" fill="#333" textLength="96.20" lengthAdjust="spacingAndGlyphs">CDKO (Nr4a1 Δ/Δ; Nr4a3-/-)</text>
<rect x="0.55" y="0.55" width="518.6" height="544.4" fill="none" stroke="#000" stroke-width="1.1"/>
<line x1="519.4" y1="0" x2="519.4" y2="546" stroke="#000" stroke-width="1.2"/>
<line x1="0" y1="545.4" x2="520" y2="545.4" stroke="#000" stroke-width="1.2"/></svg>
</body></html>
